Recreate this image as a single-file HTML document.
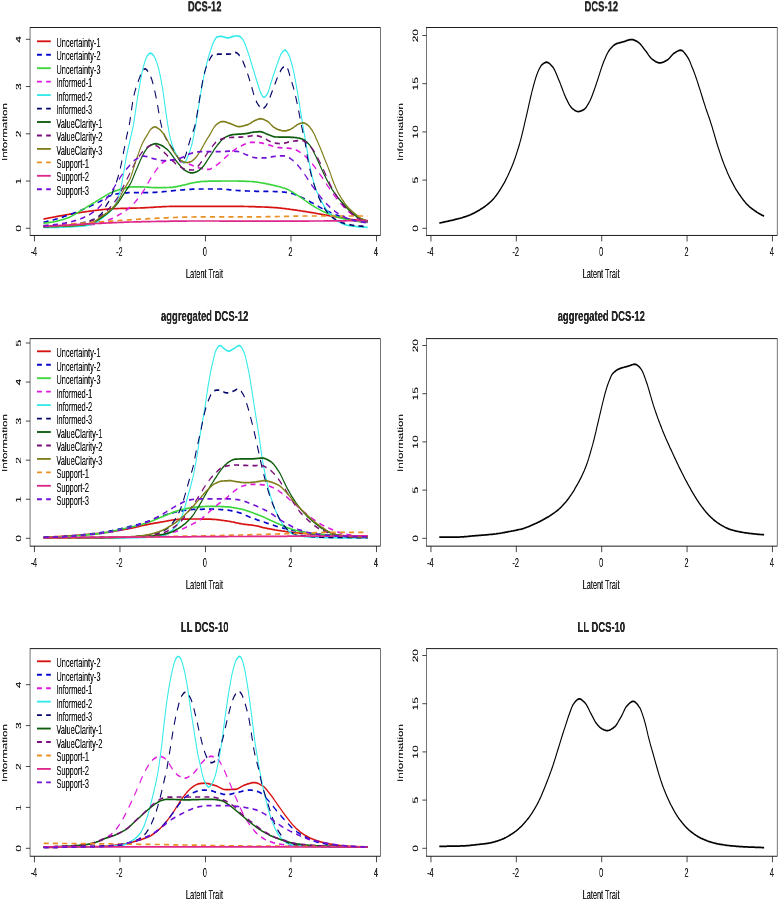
<!DOCTYPE html>
<html>
<head>
<meta charset="utf-8">
<title>Item and test information curves</title>
<style>
html,body{margin:0;padding:0;background:#fff;}
body{width:778px;height:900px;position:relative;overflow:hidden;font-family:"Liberation Sans",sans-serif;}
</style>
</head>
<body>
<svg width="778" height="900" viewBox="0 0 1285.95 900" preserveAspectRatio="none" font-family="'Liberation Sans', sans-serif" style="display:block;position:absolute;left:0;top:0;will-change:transform">
<defs><filter id="xt" x="0" y="0" width="1285.95" height="900" filterUnits="userSpaceOnUse" color-interpolation-filters="sRGB"><feComponentTransfer><feFuncA type="linear" slope="1.4"/></feComponentTransfer></filter></defs>
<g>
<!-- top-left -->
<rect x="49.67" y="27.5" width="579.17" height="207.95" fill="none" stroke="#1c1c1c" stroke-width="1"/>
<line x1="56.94" y1="235.45" x2="56.94" y2="241.45" stroke="#1c1c1c" stroke-width="1"/>
<line x1="198.29" y1="235.45" x2="198.29" y2="241.45" stroke="#1c1c1c" stroke-width="1"/>
<line x1="339.63" y1="235.45" x2="339.63" y2="241.45" stroke="#1c1c1c" stroke-width="1"/>
<line x1="480.97" y1="235.45" x2="480.97" y2="241.45" stroke="#1c1c1c" stroke-width="1"/>
<line x1="622.31" y1="235.45" x2="622.31" y2="241.45" stroke="#1c1c1c" stroke-width="1"/>
<line x1="42.73" y1="228.3" x2="49.67" y2="228.3" stroke="#1c1c1c" stroke-width="1"/>
<line x1="42.73" y1="181.05" x2="49.67" y2="181.05" stroke="#1c1c1c" stroke-width="1"/>
<line x1="42.73" y1="133.8" x2="49.67" y2="133.8" stroke="#1c1c1c" stroke-width="1"/>
<line x1="42.73" y1="86.55" x2="49.67" y2="86.55" stroke="#1c1c1c" stroke-width="1"/>
<line x1="42.73" y1="39.3" x2="49.67" y2="39.3" stroke="#1c1c1c" stroke-width="1"/>
<path d="M71.9 219.1L73.4 218.9L74.9 218.7L76.4 218.5L77.9 218.4L79.3 218.2L80.8 218L82.3 217.8L83.8 217.6L85.3 217.5L86.8 217.3L88.3 217.1L89.8 217L91.2 216.8L92.7 216.6L94.2 216.4L95.7 216.3L97.2 216.1L98.7 215.9L100.2 215.8L101.7 215.6L103.1 215.5L104.6 215.3L106.1 215.1L107.6 215L109.1 214.8L110.6 214.7L112.1 214.5L113.6 214.4L115 214.2L116.5 214.1L118 213.9L119.5 213.8L121 213.6L122.5 213.5L124 213.4L125.5 213.2L126.9 213.1L128.4 212.9L129.9 212.8L131.4 212.6L132.9 212.5L134.4 212.4L135.9 212.2L137.4 212.1L138.8 212L140.3 211.8L141.8 211.7L143.3 211.6L144.8 211.5L146.3 211.3L147.8 211.2L149.3 211.1L150.7 211L152.2 210.9L153.7 210.8L155.2 210.6L156.7 210.5L158.2 210.4L159.7 210.3L161.2 210.2L162.6 210.1L164.1 210L165.6 209.9L167.1 209.8L168.6 209.7L170.1 209.6L171.6 209.5L173.1 209.4L174.5 209.3L176 209.2L177.5 209.1L179 209L180.5 209L182 208.9L183.5 208.8L185 208.8L186.4 208.7L187.9 208.7L189.4 208.7L190.9 208.6L192.4 208.6L193.9 208.6L195.4 208.5L196.9 208.5L198.3 208.5L199.8 208.4L201.3 208.4L202.8 208.4L204.3 208.4L205.8 208.4L207.3 208.3L208.8 208.3L210.2 208.3L211.7 208.3L213.2 208.3L214.7 208.2L216.2 208.2L217.7 208.2L219.2 208.2L220.7 208.1L222.1 208.1L223.6 208.1L225.1 208.1L226.6 208L228.1 208L229.6 208L231.1 208L232.6 207.9L234 207.9L235.5 207.8L237 207.8L238.5 207.8L240 207.7L241.5 207.7L243 207.6L244.5 207.6L246 207.5L247.4 207.5L248.9 207.4L250.4 207.4L251.9 207.3L253.4 207.3L254.9 207.2L256.4 207.1L257.9 207.1L259.3 207L260.8 207L262.3 206.9L263.8 206.9L265.3 206.8L266.8 206.8L268.3 206.7L269.8 206.7L271.2 206.7L272.7 206.6L274.2 206.6L275.7 206.5L277.2 206.5L278.7 206.5L280.2 206.4L281.7 206.4L283.1 206.4L284.6 206.4L286.1 206.3L287.6 206.3L289.1 206.3L290.6 206.3L292.1 206.3L293.6 206.3L295 206.3L296.5 206.3L298 206.3L299.5 206.3L301 206.3L302.5 206.3L304 206.3L305.5 206.3L306.9 206.3L308.4 206.3L309.9 206.3L311.4 206.3L312.9 206.3L314.4 206.3L315.9 206.3L317.4 206.3L318.8 206.3L320.3 206.3L321.8 206.3L323.3 206.3L324.8 206.3L326.3 206.3L327.8 206.3L329.3 206.3L330.7 206.3L332.2 206.3L333.7 206.3L335.2 206.3L336.7 206.3L338.2 206.3L339.7 206.3L341.2 206.3L342.6 206.3L344.1 206.3L345.6 206.3L347.1 206.3L348.6 206.3L350.1 206.3L351.6 206.3L353.1 206.3L354.5 206.3L356 206.3L357.5 206.3L359 206.3L360.5 206.3L362 206.3L363.5 206.3L365 206.3L366.4 206.3L367.9 206.3L369.4 206.3L370.9 206.3L372.4 206.3L373.9 206.3L375.4 206.3L376.9 206.3L378.3 206.3L379.8 206.3L381.3 206.3L382.8 206.3L384.3 206.3L385.8 206.3L387.3 206.3L388.8 206.3L390.2 206.3L391.7 206.3L393.2 206.3L394.7 206.4L396.2 206.4L397.7 206.4L399.2 206.4L400.7 206.4L402.1 206.4L403.6 206.5L405.1 206.5L406.6 206.5L408.1 206.5L409.6 206.5L411.1 206.6L412.6 206.6L414 206.6L415.5 206.6L417 206.7L418.5 206.7L420 206.7L421.5 206.7L423 206.8L424.5 206.8L426 206.8L427.4 206.9L428.9 206.9L430.4 206.9L431.9 206.9L433.4 207L434.9 207L436.4 207L437.9 207.1L439.3 207.1L440.8 207.2L442.3 207.2L443.8 207.2L445.3 207.3L446.8 207.3L448.3 207.4L449.8 207.4L451.2 207.5L452.7 207.6L454.2 207.6L455.7 207.7L457.2 207.7L458.7 207.8L460.2 207.9L461.7 208L463.1 208.1L464.6 208.2L466.1 208.3L467.6 208.4L469.1 208.5L470.6 208.6L472.1 208.7L473.6 208.8L475 209L476.5 209.1L478 209.2L479.5 209.3L481 209.5L482.5 209.6L484 209.7L485.5 209.8L486.9 209.9L488.4 210.1L489.9 210.2L491.4 210.3L492.9 210.5L494.4 210.6L495.9 210.7L497.4 210.9L498.8 211L500.3 211.1L501.8 211.3L503.3 211.4L504.8 211.6L506.3 211.7L507.8 211.8L509.3 212L510.7 212.1L512.2 212.3L513.7 212.4L515.2 212.6L516.7 212.7L518.2 212.9L519.7 213L521.2 213.2L522.6 213.4L524.1 213.5L525.6 213.7L527.1 213.8L528.6 214L530.1 214.2L531.6 214.3L533.1 214.5L534.5 214.6L536 214.8L537.5 215L539 215.1L540.5 215.3L542 215.4L543.5 215.6L545 215.8L546.4 215.9L547.9 216.1L549.4 216.2L550.9 216.4L552.4 216.6L553.9 216.7L555.4 216.9L556.9 217L558.3 217.2L559.8 217.3L561.3 217.5L562.8 217.6L564.3 217.8L565.8 217.9L567.3 218.1L568.8 218.3L570.2 218.4L571.7 218.6L573.2 218.7L574.7 218.9L576.2 219L577.7 219.2L579.2 219.3L580.7 219.5L582.1 219.6L583.6 219.7L585.1 219.8L586.6 219.9L588.1 220L589.6 220.1L591.1 220.2L592.6 220.3L594 220.4L595.5 220.4L597 220.5L598.5 220.6L600 220.7L601.5 220.7L603 220.8L604.5 220.8L606 220.9L607.4 220.9L607.6 220.9" stroke="#d81111" stroke-width="1.7" fill="none" stroke-linejoin="round"/>
<path d="M71.9 222.3L73.4 222.1L74.9 221.9L76.4 221.7L77.9 221.4L79.3 221.2L80.8 221L82.3 220.8L83.8 220.5L85.3 220.3L86.8 220L88.3 219.8L89.8 219.5L91.2 219.3L92.7 219L94.2 218.8L95.7 218.5L97.2 218.2L98.7 217.9L100.2 217.7L101.7 217.4L103.1 217.1L104.6 216.8L106.1 216.5L107.6 216.2L109.1 215.9L110.6 215.6L112.1 215.3L113.6 215L115 214.7L116.5 214.3L118 214L119.5 213.7L121 213.3L122.5 213L124 212.7L125.5 212.3L126.9 212L128.4 211.6L129.9 211.2L131.4 210.9L132.9 210.5L134.4 210.1L135.9 209.8L137.4 209.4L138.8 209L140.3 208.6L141.8 208.2L143.3 207.8L144.8 207.4L146.3 207L147.8 206.6L149.3 206.2L150.7 205.8L152.2 205.4L153.7 204.9L155.2 204.5L156.7 204.1L158.2 203.6L159.7 203.2L161.2 202.7L162.6 202.3L164.1 201.8L165.6 201.4L167.1 200.9L168.6 200.4L170.1 199.8L171.6 199.3L173.1 198.7L174.5 198.2L176 197.6L177.5 197.1L179 196.6L180.5 196.2L182 195.8L183.5 195.5L185 195.2L186.4 194.9L187.9 194.6L189.4 194.4L190.9 194.1L192.4 194L193.9 193.8L195.4 193.6L196.9 193.5L198.3 193.3L199.8 193.2L201.3 193.1L202.8 193L204.3 192.9L205.8 192.9L207.3 192.8L208.8 192.8L210.2 192.8L211.7 192.7L213.2 192.7L214.7 192.7L216.2 192.7L217.7 192.7L219.2 192.7L220.7 192.7L222.1 192.7L223.6 192.7L225.1 192.7L226.6 192.6L228.1 192.6L229.6 192.6L231.1 192.6L232.6 192.6L234 192.6L235.5 192.6L237 192.6L238.5 192.6L240 192.6L241.5 192.6L243 192.6L244.5 192.6L246 192.5L247.4 192.5L248.9 192.5L250.4 192.5L251.9 192.5L253.4 192.4L254.9 192.4L256.4 192.3L257.9 192.3L259.3 192.2L260.8 192.2L262.3 192.1L263.8 192L265.3 191.9L266.8 191.8L268.3 191.8L269.8 191.7L271.2 191.6L272.7 191.5L274.2 191.5L275.7 191.4L277.2 191.3L278.7 191.2L280.2 191.1L281.7 191L283.1 190.9L284.6 190.8L286.1 190.7L287.6 190.6L289.1 190.5L290.6 190.4L292.1 190.3L293.6 190.3L295 190.2L296.5 190.1L298 190L299.5 190L301 189.9L302.5 189.8L304 189.8L305.5 189.7L306.9 189.6L308.4 189.6L309.9 189.5L311.4 189.4L312.9 189.4L314.4 189.3L315.9 189.3L317.4 189.2L318.8 189.2L320.3 189.1L321.8 189.1L323.3 189.1L324.8 189L326.3 189L327.8 189L329.3 189L330.7 189L332.2 189L333.7 189L335.2 189L336.7 189L338.2 189L339.7 189L341.2 189L342.6 189L344.1 189L345.6 189L347.1 189L348.6 189L350.1 189L351.6 189L353.1 189L354.5 189L356 189L357.5 189L359 189L360.5 189L362 189L363.5 189L365 189L366.4 189.1L367.9 189.1L369.4 189.2L370.9 189.3L372.4 189.3L373.9 189.4L375.4 189.5L376.9 189.6L378.3 189.7L379.8 189.8L381.3 189.9L382.8 190L384.3 190.1L385.8 190.2L387.3 190.2L388.8 190.3L390.2 190.4L391.7 190.5L393.2 190.5L394.7 190.6L396.2 190.6L397.7 190.6L399.2 190.7L400.7 190.7L402.1 190.8L403.6 190.8L405.1 190.9L406.6 190.9L408.1 191L409.6 191L411.1 191L412.6 191.1L414 191.1L415.5 191.1L417 191.2L418.5 191.2L420 191.2L421.5 191.2L423 191.3L424.5 191.3L426 191.3L427.4 191.3L428.9 191.3L430.4 191.4L431.9 191.4L433.4 191.4L434.9 191.4L436.4 191.4L437.9 191.4L439.3 191.4L440.8 191.4L442.3 191.4L443.8 191.5L445.3 191.5L446.8 191.5L448.3 191.5L449.8 191.5L451.2 191.5L452.7 191.5L454.2 191.6L455.7 191.6L457.2 191.6L458.7 191.6L460.2 191.7L461.7 191.7L463.1 191.8L464.6 191.9L466.1 191.9L467.6 192L469.1 192.1L470.6 192.2L472.1 192.3L473.6 192.4L475 192.5L476.5 192.6L478 192.7L479.5 192.9L481 193.1L482.5 193.4L484 193.7L485.5 194L486.9 194.4L488.4 194.7L489.9 195.1L491.4 195.5L492.9 195.9L494.4 196.3L495.9 196.7L497.4 197.1L498.8 197.5L500.3 197.9L501.8 198.3L503.3 198.8L504.8 199.2L506.3 199.7L507.8 200.2L509.3 200.7L510.7 201.1L512.2 201.6L513.7 202.1L515.2 202.6L516.7 203L518.2 203.5L519.7 204.1L521.2 204.6L522.6 205.1L524.1 205.6L525.6 206.1L527.1 206.7L528.6 207.2L530.1 207.7L531.6 208.2L533.1 208.7L534.5 209.1L536 209.6L537.5 210L539 210.5L540.5 210.9L542 211.3L543.5 211.7L545 212.1L546.4 212.5L547.9 212.9L549.4 213.3L550.9 213.7L552.4 214.1L553.9 214.4L555.4 214.8L556.9 215.1L558.3 215.5L559.8 215.8L561.3 216.2L562.8 216.5L564.3 216.8L565.8 217.2L567.3 217.5L568.8 217.8L570.2 218.1L571.7 218.4L573.2 218.7L574.7 219L576.2 219.2L577.7 219.4L579.2 219.6L580.7 219.8L582.1 219.9L583.6 220.1L585.1 220.3L586.6 220.5L588.1 220.6L589.6 220.8L591.1 220.9L592.6 221.1L594 221.2L595.5 221.3L597 221.5L598.5 221.6L600 221.7L601.5 221.8L603 221.8L604.5 221.9L606 222L607.4 222L607.6 222" stroke="#0606cd" stroke-width="1.7" fill="none" stroke-linejoin="round" stroke-dasharray="8.4 6.9"/>
<path d="M71.9 223.2L73.4 223.1L74.9 223L76.4 222.9L77.9 222.8L79.3 222.7L80.8 222.6L82.3 222.4L83.8 222.3L85.3 222.2L86.8 222L88.3 221.9L89.8 221.7L91.2 221.5L92.7 221.3L94.2 221.1L95.7 220.9L97.2 220.7L98.7 220.5L100.2 220.2L101.7 220L103.1 219.7L104.6 219.4L106.1 219.2L107.6 218.8L109.1 218.5L110.6 218.2L112.1 217.8L113.6 217.5L115 217.1L116.5 216.7L118 216.3L119.5 215.8L121 215.3L122.5 214.8L124 214.3L125.5 213.7L126.9 213.2L128.4 212.6L129.9 212L131.4 211.5L132.9 210.9L134.4 210.4L135.9 209.8L137.4 209.3L138.8 208.8L140.3 208.2L141.8 207.7L143.3 207.1L144.8 206.5L146.3 206L147.8 205.5L149.3 204.9L150.7 204.4L152.2 203.8L153.7 203.3L155.2 202.7L156.7 202.2L158.2 201.6L159.7 201.1L161.2 200.6L162.6 200L164.1 199.5L165.6 198.9L167.1 198.4L168.6 197.8L170.1 197.3L171.6 196.7L173.1 196.1L174.5 195.5L176 195L177.5 194.5L179 194L180.5 193.5L182 193.1L183.5 192.7L185 192.3L186.4 191.9L187.9 191.6L189.4 191.2L190.9 190.9L192.4 190.6L193.9 190.3L195.4 190L196.9 189.7L198.3 189.4L199.8 189.2L201.3 188.9L202.8 188.6L204.3 188.4L205.8 188.2L207.3 188L208.8 187.8L210.2 187.6L211.7 187.4L213.2 187.2L214.7 187.1L216.2 187L217.7 186.9L219.2 186.9L220.7 186.9L222.1 186.8L223.6 186.8L225.1 186.8L226.6 186.8L228.1 186.8L229.6 186.8L231.1 186.8L232.6 186.8L234 186.9L235.5 186.9L237 186.9L238.5 187L240 187L241.5 187.1L243 187.2L244.5 187.2L246 187.3L247.4 187.4L248.9 187.4L250.4 187.5L251.9 187.5L253.4 187.6L254.9 187.6L256.4 187.7L257.9 187.7L259.3 187.7L260.8 187.7L262.3 187.7L263.8 187.7L265.3 187.7L266.8 187.7L268.3 187.7L269.8 187.6L271.2 187.6L272.7 187.6L274.2 187.6L275.7 187.5L277.2 187.5L278.7 187.5L280.2 187.4L281.7 187.4L283.1 187.4L284.6 187.3L286.1 187.2L287.6 187.1L289.1 186.9L290.6 186.8L292.1 186.6L293.6 186.4L295 186.2L296.5 186L298 185.8L299.5 185.6L301 185.4L302.5 185.2L304 185L305.5 184.8L306.9 184.6L308.4 184.3L309.9 184.1L311.4 183.8L312.9 183.6L314.4 183.4L315.9 183.2L317.4 183L318.8 182.8L320.3 182.7L321.8 182.5L323.3 182.4L324.8 182.2L326.3 182.1L327.8 182L329.3 181.8L330.7 181.7L332.2 181.6L333.7 181.5L335.2 181.5L336.7 181.4L338.2 181.3L339.7 181.3L341.2 181.3L342.6 181.3L344.1 181.2L345.6 181.2L347.1 181.2L348.6 181.2L350.1 181.2L351.6 181.2L353.1 181.1L354.5 181.1L356 181.1L357.5 181.1L359 181.1L360.5 181.1L362 181.1L363.5 181.1L365 181.1L366.4 181L367.9 181L369.4 181L370.9 181L372.4 181L373.9 181L375.4 181L376.9 181L378.3 181L379.8 181L381.3 181L382.8 181L384.3 181L385.8 181L387.3 181L388.8 181L390.2 181L391.7 181L393.2 181.1L394.7 181.1L396.2 181.1L397.7 181.1L399.2 181.2L400.7 181.2L402.1 181.2L403.6 181.2L405.1 181.3L406.6 181.3L408.1 181.3L409.6 181.4L411.1 181.4L412.6 181.5L414 181.5L415.5 181.5L417 181.6L418.5 181.7L420 181.8L421.5 181.9L423 182L424.5 182.1L426 182.2L427.4 182.4L428.9 182.5L430.4 182.7L431.9 182.8L433.4 183L434.9 183.1L436.4 183.3L437.9 183.4L439.3 183.6L440.8 183.8L442.3 184L443.8 184.2L445.3 184.4L446.8 184.6L448.3 184.8L449.8 185L451.2 185.2L452.7 185.4L454.2 185.6L455.7 185.9L457.2 186.1L458.7 186.3L460.2 186.5L461.7 186.7L463.1 187L464.6 187.2L466.1 187.5L467.6 187.8L469.1 188L470.6 188.3L472.1 188.7L473.6 189L475 189.4L476.5 189.8L478 190.3L479.5 190.8L481 191.3L482.5 191.8L484 192.3L485.5 192.9L486.9 193.5L488.4 194L489.9 194.6L491.4 195.2L492.9 195.8L494.4 196.3L495.9 196.9L497.4 197.5L498.8 198.1L500.3 198.8L501.8 199.4L503.3 200L504.8 200.7L506.3 201.3L507.8 202L509.3 202.6L510.7 203.2L512.2 203.8L513.7 204.4L515.2 205L516.7 205.5L518.2 206.1L519.7 206.6L521.2 207.2L522.6 207.7L524.1 208.2L525.6 208.8L527.1 209.3L528.6 209.8L530.1 210.2L531.6 210.7L533.1 211.2L534.5 211.6L536 212L537.5 212.4L539 212.8L540.5 213.2L542 213.5L543.5 213.9L545 214.3L546.4 214.6L547.9 214.9L549.4 215.3L550.9 215.6L552.4 215.9L553.9 216.2L555.4 216.5L556.9 216.7L558.3 217L559.8 217.3L561.3 217.5L562.8 217.8L564.3 218.1L565.8 218.3L567.3 218.6L568.8 218.8L570.2 219L571.7 219.2L573.2 219.4L574.7 219.6L576.2 219.8L577.7 220L579.2 220.2L580.7 220.3L582.1 220.5L583.6 220.6L585.1 220.8L586.6 220.9L588.1 221.1L589.6 221.2L591.1 221.4L592.6 221.5L594 221.6L595.5 221.8L597 221.9L598.5 222L600 222.1L601.5 222.2L603 222.3L604.5 222.4L606 222.4L607.4 222.5L607.6 222.5" stroke="#3cd53c" stroke-width="1.7" fill="none" stroke-linejoin="round"/>
<path d="M71.9 227L73.4 227L74.9 227L76.4 227L77.9 227L79.3 227L80.8 227L82.3 227L83.8 226.9L85.3 226.9L86.8 226.9L88.3 226.9L89.8 226.9L91.2 226.9L92.7 226.8L94.2 226.8L95.7 226.8L97.2 226.7L98.7 226.7L100.2 226.7L101.7 226.7L103.1 226.6L104.6 226.6L106.1 226.5L107.6 226.5L109.1 226.5L110.6 226.4L112.1 226.4L113.6 226.3L115 226.3L116.5 226.2L118 226.2L119.5 226.1L121 226.1L122.5 226L124 225.9L125.5 225.9L126.9 225.8L128.4 225.8L129.9 225.7L131.4 225.6L132.9 225.6L134.4 225.5L135.9 225.4L137.4 225.3L138.8 225.3L140.3 225.2L141.8 225.1L143.3 225L144.8 225L146.3 224.9L147.8 224.8L149.3 224.7L150.7 224.6L152.2 224.5L153.7 224.4L155.2 224.3L156.7 224.2L158.2 224.1L159.7 223.9L161.2 223.8L162.6 223.5L164.1 223.3L165.6 223L167.1 222.7L168.6 222.4L170.1 222.1L171.6 221.8L173.1 221.5L174.5 221.1L176 220.8L177.5 220.5L179 220.1L180.5 219.8L182 219.4L183.5 219L185 218.6L186.4 218.2L187.9 217.7L189.4 217.3L190.9 216.8L192.4 216.3L193.9 215.8L195.4 215.3L196.9 214.8L198.3 214.3L199.8 213.7L201.3 213.2L202.8 212.6L204.3 212L205.8 211.4L207.3 210.7L208.8 210.1L210.2 209.4L211.7 208.7L213.2 207.9L214.7 207.2L216.2 206.4L217.7 205.6L219.2 204.7L220.7 203.8L222.1 202.9L223.6 201.9L225.1 200.8L226.6 199.8L228.1 198.6L229.6 197.5L231.1 196.2L232.6 195L234 193.7L235.5 192.3L237 191L238.5 189.6L240 188L241.5 186.4L243 184.8L244.5 183.2L246 181.7L247.4 180.2L248.9 178.7L250.4 177.2L251.9 175.7L253.4 174.3L254.9 172.9L256.4 171.6L257.9 170.3L259.3 169.1L260.8 168L262.3 166.8L263.8 165.7L265.3 164.7L266.8 163.8L268.3 163L269.8 162.4L271.2 161.8L272.7 161.3L274.2 160.8L275.7 160.5L277.2 160.3L278.7 160.1L280.2 160L281.7 159.9L283.1 159.8L284.6 159.8L286.1 159.9L287.6 160L289.1 160.1L290.6 160.4L292.1 160.6L293.6 160.8L295 161.1L296.5 161.3L298 161.6L299.5 161.8L301 162L302.5 162.3L304 162.6L305.5 162.8L306.9 163.1L308.4 163.4L309.9 163.7L311.4 164L312.9 164.3L314.4 164.6L315.9 164.9L317.4 165.2L318.8 165.6L320.3 166L321.8 166.4L323.3 166.8L324.8 167.1L326.3 167.5L327.8 167.7L329.3 168L330.7 168.2L332.2 168.4L333.7 168.6L335.2 168.8L336.7 168.9L338.2 169.1L339.7 169.2L341.2 169.3L342.6 169.4L344.1 169.4L345.6 169.3L347.1 169.1L348.6 168.8L350.1 168.3L351.6 167.8L353.1 167.2L354.5 166.6L356 165.9L357.5 165.3L359 164.7L360.5 164L362 163.3L363.5 162.5L365 161.6L366.4 160.8L367.9 159.9L369.4 159.1L370.9 158.2L372.4 157.5L373.9 156.7L375.4 155.9L376.9 155.1L378.3 154.3L379.8 153.5L381.3 152.7L382.8 152L384.3 151.3L385.8 150.6L387.3 150L388.8 149.4L390.2 148.8L391.7 148.3L393.2 147.8L394.7 147.3L396.2 146.8L397.7 146.3L399.2 145.8L400.7 145.3L402.1 144.9L403.6 144.4L405.1 144.1L406.6 143.7L408.1 143.3L409.6 142.9L411.1 142.6L412.6 142.4L414 142.3L415.5 142.3L417 142.3L418.5 142.3L420 142.4L421.5 142.4L423 142.5L424.5 142.5L426 142.6L427.4 142.6L428.9 142.7L430.4 142.8L431.9 142.9L433.4 143.1L434.9 143.3L436.4 143.5L437.9 143.7L439.3 144L440.8 144.3L442.3 144.6L443.8 144.8L445.3 145.1L446.8 145.4L448.3 145.7L449.8 146L451.2 146.4L452.7 146.7L454.2 147L455.7 147.2L457.2 147.4L458.7 147.5L460.2 147.6L461.7 147.7L463.1 147.7L464.6 147.8L466.1 147.8L467.6 147.9L469.1 147.9L470.6 148L472.1 148L473.6 148.1L475 148.1L476.5 148.2L478 148.3L479.5 148.3L481 148.5L482.5 148.6L484 148.7L485.5 149L486.9 149.3L488.4 149.7L489.9 150.1L491.4 150.6L492.9 151.1L494.4 151.6L495.9 152.2L497.4 152.8L498.8 153.4L500.3 154L501.8 154.8L503.3 155.6L504.8 156.4L506.3 157.3L507.8 158.3L509.3 159.2L510.7 160.3L512.2 161.3L513.7 162.3L515.2 163.3L516.7 164.4L518.2 165.5L519.7 166.7L521.2 167.8L522.6 169.1L524.1 170.3L525.6 171.5L527.1 172.8L528.6 174.1L530.1 175.3L531.6 176.6L533.1 177.9L534.5 179.3L536 180.6L537.5 182L539 183.4L540.5 184.8L542 186.2L543.5 187.5L545 188.9L546.4 190.2L547.9 191.4L549.4 192.7L550.9 194L552.4 195.3L553.9 196.5L555.4 197.8L556.9 199L558.3 200.2L559.8 201.3L561.3 202.4L562.8 203.4L564.3 204.4L565.8 205.4L567.3 206.4L568.8 207.3L570.2 208.3L571.7 209.1L573.2 210L574.7 210.8L576.2 211.6L577.7 212.4L579.2 213.1L580.7 213.8L582.1 214.5L583.6 215.2L585.1 215.9L586.6 216.5L588.1 217.2L589.6 217.7L591.1 218.3L592.6 218.8L594 219.2L595.5 219.6L597 220L598.5 220.4L600 220.7L601.5 221L603 221.3L604.5 221.6L606 221.8L607.4 222L607.6 222" stroke="#de17de" stroke-width="1.7" fill="none" stroke-linejoin="round" stroke-dasharray="8.4 6.9"/>
<path d="M71.9 227.5L73.4 227.5L74.9 227.5L76.4 227.5L77.9 227.5L79.3 227.5L80.8 227.5L82.3 227.5L83.8 227.5L85.3 227.4L86.8 227.4L88.3 227.4L89.8 227.4L91.2 227.4L92.7 227.4L94.2 227.3L95.7 227.3L97.2 227.3L98.7 227.3L100.2 227.2L101.7 227.2L103.1 227.2L104.6 227.1L106.1 227.1L107.6 227.1L109.1 227L110.6 227L112.1 227L113.6 226.9L115 226.9L116.5 226.8L118 226.8L119.5 226.7L121 226.7L122.5 226.6L124 226.6L125.5 226.5L126.9 226.5L128.4 226.4L129.9 226.4L131.4 226.3L132.9 226.3L134.4 226.2L135.9 226.1L137.4 226L138.8 225.9L140.3 225.8L141.8 225.6L143.3 225.5L144.8 225.3L146.3 225L147.8 224.8L149.3 224.6L150.7 224.3L152.2 224L153.7 223.7L155.2 223.4L156.7 223.1L158.2 222.7L159.7 222.2L161.2 221.6L162.6 221L164.1 220.3L165.6 219.6L167.1 218.9L168.6 218.1L170.1 217.4L171.6 216.6L173.1 215.9L174.5 215.2L176 214.5L177.5 213.8L179 213.1L180.5 212.3L182 211.4L183.5 210.5L185 209.5L186.4 208.4L187.9 207.2L189.4 205.9L190.9 204.4L192.4 202.6L193.9 200.4L195.4 197.9L196.9 195L198.3 191.7L199.8 187.7L201.3 183.2L202.8 178.5L204.3 173.2L205.8 167.5L207.3 161.9L208.8 157L210.2 152.7L211.7 148.7L213.2 144.9L214.7 140.9L216.2 136.8L217.7 132.9L219.2 128.9L220.7 124.3L222.1 118.9L223.6 112.9L225.1 106.8L226.6 100.6L228.1 94.8L229.6 89.6L231.1 84.5L232.6 79.5L234 74.7L235.5 70.4L237 66.7L238.5 63.6L240 60.7L241.5 58.2L243 56.2L244.5 55L246 54L247.4 53.3L248.9 53.1L250.4 53.5L251.9 54.3L253.4 55.3L254.9 56.5L256.4 58.2L257.9 60.4L259.3 62.9L260.8 65.6L262.3 68.8L263.8 72.7L265.3 77.1L266.8 82L268.3 87.2L269.8 92.5L271.2 98.8L272.7 105.7L274.2 112.3L275.7 118.5L277.2 124.4L278.7 129.7L280.2 134.7L281.7 138.6L283.1 142L284.6 144.9L286.1 147.4L287.6 149.5L289.1 151.6L290.6 153.4L292.1 155.1L293.6 156.7L295 158L296.5 159.1L298 160L299.5 160.9L301 161.7L302.5 162.3L304 162.6L305.5 162.4L306.9 161.2L308.4 159.5L309.9 157.3L311.4 155L312.9 152.8L314.4 150.1L315.9 147.1L317.4 143.8L318.8 140L320.3 135.5L321.8 130.7L323.3 125.6L324.8 120L326.3 114.2L327.8 108.3L329.3 102.6L330.7 97.3L332.2 92L333.7 86.9L335.2 82L336.7 77.3L338.2 72.9L339.7 68.9L341.2 65.1L342.6 61.5L344.1 58.1L345.6 55L347.1 52.1L348.6 49.3L350.1 46.6L351.6 44.1L353.1 42.1L354.5 40.4L356 38.8L357.5 37.5L359 36.8L360.5 36.6L362 36.5L363.5 36.4L365 36.3L366.4 36.3L367.9 36.5L369.4 36.8L370.9 37.1L372.4 37.4L373.9 37.7L375.4 37.9L376.9 37.9L378.3 37.8L379.8 37.5L381.3 37.2L382.8 36.9L384.3 36.6L385.8 36.3L387.3 36.1L388.8 36L390.2 36L391.7 36L393.2 36.1L394.7 36.2L396.2 36.4L397.7 37L399.2 37.9L400.7 39.1L402.1 40.3L403.6 42L405.1 44.2L406.6 46.6L408.1 49.2L409.6 51.8L411.1 54.4L412.6 57.2L414 60.1L415.5 63.1L417 66.1L418.5 69.1L420 72L421.5 75.1L423 78.1L424.5 81.1L426 84L427.4 86.7L428.9 89.5L430.4 92.1L431.9 94.2L433.4 95.6L434.9 96.8L436.4 97.1L437.9 96.7L439.3 95.9L440.8 94.8L442.3 93.5L443.8 91.3L445.3 88.3L446.8 85L448.3 82L449.8 79.3L451.2 76.5L452.7 73.8L454.2 71.1L455.7 68.5L457.2 65.9L458.7 63.3L460.2 60.7L461.7 58.3L463.1 56.1L464.6 54.1L466.1 52.6L467.6 51.5L469.1 50.7L470.6 50.2L472.1 50.2L473.6 51.1L475 52.4L476.5 54.1L478 55.9L479.5 58.3L481 61.2L482.5 64.6L484 68.2L485.5 72L486.9 76.3L488.4 81.1L489.9 86.2L491.4 91.3L492.9 96.5L494.4 102L495.9 107.6L497.4 113.2L498.8 118.8L500.3 124.5L501.8 130L503.3 135.1L504.8 140.2L506.3 145.3L507.8 150.5L509.3 156L510.7 161.3L512.2 166L513.7 170.3L515.2 174.4L516.7 178.2L518.2 181.6L519.7 184.7L521.2 187.4L522.6 189.9L524.1 192.2L525.6 194.3L527.1 196.2L528.6 198.1L530.1 199.9L531.6 201.6L533.1 203.2L534.5 204.8L536 206.3L537.5 207.7L539 209.1L540.5 210.4L542 211.6L543.5 212.8L545 213.9L546.4 215L547.9 216L549.4 217L550.9 217.9L552.4 218.8L553.9 219.5L555.4 220.2L556.9 220.8L558.3 221.3L559.8 221.8L561.3 222.3L562.8 222.7L564.3 223.1L565.8 223.5L567.3 223.9L568.8 224.3L570.2 224.6L571.7 224.8L573.2 225.1L574.7 225.3L576.2 225.5L577.7 225.6L579.2 225.8L580.7 225.9L582.1 226.1L583.6 226.2L585.1 226.3L586.6 226.4L588.1 226.5L589.6 226.6L591.1 226.7L592.6 226.8L594 226.9L595.5 226.9L597 227L598.5 227.1L600 227.1L601.5 227.2L603 227.2L604.5 227.2L606 227.3L607.4 227.3L607.6 227.3" stroke="#32eaea" stroke-width="1.7" fill="none" stroke-linejoin="round"/>
<path d="M71.9 226.5L73.4 226.5L74.9 226.5L76.4 226.5L77.9 226.5L79.3 226.4L80.8 226.4L82.3 226.4L83.8 226.3L85.3 226.3L86.8 226.3L88.3 226.2L89.8 226.2L91.2 226.1L92.7 226L94.2 226L95.7 225.9L97.2 225.8L98.7 225.7L100.2 225.7L101.7 225.6L103.1 225.5L104.6 225.4L106.1 225.3L107.6 225.2L109.1 225.1L110.6 225L112.1 224.9L113.6 224.8L115 224.7L116.5 224.6L118 224.4L119.5 224.3L121 224.2L122.5 224.1L124 224L125.5 223.8L126.9 223.7L128.4 223.6L129.9 223.4L131.4 223.3L132.9 223.2L134.4 223L135.9 222.9L137.4 222.7L138.8 222.5L140.3 222.3L141.8 222.1L143.3 221.9L144.8 221.6L146.3 221.3L147.8 221L149.3 220.7L150.7 220.4L152.2 220L153.7 219.7L155.2 219.3L156.7 218.9L158.2 218.4L159.7 217.8L161.2 217.2L162.6 216.5L164.1 215.8L165.6 214.9L167.1 214L168.6 213L170.1 211.9L171.6 210.6L173.1 208.8L174.5 206.8L176 205.1L177.5 203.7L179 202.3L180.5 200.8L182 198.9L183.5 196.7L185 194.3L186.4 191.9L187.9 189.6L189.4 187.3L190.9 184.8L192.4 182.2L193.9 179.3L195.4 176.3L196.9 173L198.3 169.6L199.8 165.8L201.3 161.5L202.8 156.8L204.3 152L205.8 147.5L207.3 142.8L208.8 138.3L210.2 134.1L211.7 130.5L213.2 126.5L214.7 121.2L216.2 114.9L217.7 108.4L219.2 102.3L220.7 97.3L222.1 93.5L223.6 90.2L225.1 87.2L226.6 84.4L228.1 81.9L229.6 79.4L231.1 77.1L232.6 74.7L234 72.6L235.5 71L237 69.9L238.5 69L240 68.8L241.5 69.3L243 70.3L244.5 71.4L246 72.7L247.4 74.3L248.9 76.4L250.4 78.7L251.9 81.5L253.4 84.9L254.9 88.7L256.4 92.8L257.9 96.9L259.3 101.4L260.8 106.4L262.3 111.7L263.8 116.9L265.3 121.7L266.8 125.8L268.3 129.2L269.8 132.1L271.2 134.5L272.7 136.5L274.2 138.3L275.7 139.9L277.2 141.4L278.7 142.7L280.2 144.1L281.7 145.4L283.1 146.8L284.6 148.2L286.1 149.7L287.6 151.2L289.1 152.7L290.6 154.2L292.1 155.6L293.6 157L295 158.6L296.5 160.1L298 161.2L299.5 161.5L301 161L302.5 160.1L304 158.8L305.5 157.3L306.9 155.3L308.4 152.2L309.9 148.8L311.4 145.7L312.9 142.6L314.4 139.5L315.9 136.5L317.4 133.9L318.8 131.7L320.3 129.5L321.8 126.6L323.3 122.7L324.8 117.8L326.3 112.3L327.8 106.6L329.3 101.2L330.7 96.1L332.2 90.7L333.7 85.4L335.2 80.3L336.7 75.9L338.2 72.3L339.7 69.3L341.2 66.6L342.6 64.3L344.1 62.3L345.6 60.5L347.1 58.8L348.6 57.1L350.1 55.8L351.6 54.9L353.1 54.6L354.5 54.5L356 54.4L357.5 54.3L359 54.3L360.5 54.2L362 54.2L363.5 54.2L365 54.2L366.4 54.1L367.9 54.1L369.4 54.1L370.9 54.1L372.4 54.1L373.9 54.1L375.4 54.1L376.9 54.1L378.3 54.1L379.8 54L381.3 54L382.8 54L384.3 53.7L385.8 53.2L387.3 52.7L388.8 52.4L390.2 52.6L391.7 53L393.2 53.8L394.7 54.7L396.2 55.8L397.7 56.9L399.2 58.3L400.7 60.1L402.1 62.2L403.6 64.5L405.1 66.8L406.6 69.2L408.1 71.7L409.6 74.4L411.1 77.2L412.6 80.1L414 83L415.5 85.9L417 89.1L418.5 92.4L420 95.5L421.5 98.3L423 100.5L424.5 102.4L426 104L427.4 105.4L428.9 106.5L430.4 107.4L431.9 108.2L433.4 108.6L434.9 108.4L436.4 107.9L437.9 107.1L439.3 106.2L440.8 104.7L442.3 102.8L443.8 100.7L445.3 98.7L446.8 96.4L448.3 94L449.8 91.5L451.2 89.1L452.7 86.7L454.2 84.4L455.7 82L457.2 79.6L458.7 77.3L460.2 75.2L461.7 73.3L463.1 71.6L464.6 69.9L466.1 68.5L467.6 67.6L469.1 66.9L470.6 66.4L472.1 66.2L473.6 66.8L475 68.3L476.5 70.2L478 73.3L479.5 76.8L481 79.7L482.5 82.6L484 85.4L485.5 88.5L486.9 92L488.4 95.8L489.9 99.9L491.4 104.1L492.9 108.6L494.4 113.3L495.9 118L497.4 122.5L498.8 127L500.3 131.2L501.8 135.3L503.3 139.5L504.8 144.3L506.3 149.9L507.8 155.7L509.3 160.9L510.7 165.3L512.2 169.3L513.7 173.1L515.2 176.6L516.7 179.8L518.2 182.8L519.7 185.7L521.2 188.5L522.6 191L524.1 193.4L525.6 195.7L527.1 197.7L528.6 199.6L530.1 201.5L531.6 203.3L533.1 205L534.5 206.6L536 208.1L537.5 209.5L539 210.8L540.5 211.9L542 212.9L543.5 213.9L545 214.9L546.4 215.7L547.9 216.6L549.4 217.3L550.9 218L552.4 218.7L553.9 219.2L555.4 219.8L556.9 220.3L558.3 220.7L559.8 221.2L561.3 221.6L562.8 222L564.3 222.3L565.8 222.7L567.3 223L568.8 223.3L570.2 223.6L571.7 223.8L573.2 224L574.7 224.2L576.2 224.4L577.7 224.6L579.2 224.8L580.7 225L582.1 225.2L583.6 225.3L585.1 225.5L586.6 225.6L588.1 225.7L589.6 225.8L591.1 225.9L592.6 225.9L594 226L595.5 226.1L597 226.1L598.5 226.2L600 226.3L601.5 226.3L603 226.3L604.5 226.4L606 226.4L607.4 226.4L607.6 226.4" stroke="#030367" stroke-width="1.7" fill="none" stroke-linejoin="round" stroke-dasharray="8.4 6.9"/>
<path d="M71.9 226.5L73.4 226.5L74.9 226.5L76.4 226.5L77.9 226.5L79.3 226.5L80.8 226.5L82.3 226.5L83.8 226.4L85.3 226.4L86.8 226.4L88.3 226.4L89.8 226.4L91.2 226.4L92.7 226.3L94.2 226.3L95.7 226.3L97.2 226.2L98.7 226.2L100.2 226.2L101.7 226.1L103.1 226.1L104.6 226.1L106.1 226L107.6 226L109.1 226L110.6 225.9L112.1 225.9L113.6 225.8L115 225.8L116.5 225.7L118 225.7L119.5 225.6L121 225.6L122.5 225.5L124 225.5L125.5 225.4L126.9 225.3L128.4 225.3L129.9 225.2L131.4 225.1L132.9 225.1L134.4 225L135.9 224.9L137.4 224.8L138.8 224.7L140.3 224.6L141.8 224.4L143.3 224.2L144.8 224L146.3 223.8L147.8 223.6L149.3 223.3L150.7 223L152.2 222.8L153.7 222.5L155.2 222.1L156.7 221.8L158.2 221.4L159.7 220.8L161.2 220.2L162.6 219.6L164.1 219L165.6 218.4L167.1 217.8L168.6 217.2L170.1 216.6L171.6 215.9L173.1 215.3L174.5 214.7L176 214L177.5 213.3L179 212.5L180.5 211.7L182 210.9L183.5 210.1L185 209.3L186.4 208.4L187.9 207.5L189.4 206.6L190.9 205.7L192.4 204.7L193.9 203.6L195.4 202.5L196.9 201.2L198.3 199.9L199.8 198.6L201.3 197.1L202.8 195.7L204.3 194.3L205.8 192.9L207.3 191.5L208.8 190.1L210.2 188.8L211.7 187.5L213.2 186.2L214.7 184.7L216.2 183L217.7 181L219.2 178.9L220.7 176.7L222.1 174.5L223.6 172.2L225.1 170.1L226.6 168L228.1 165.8L229.6 163.7L231.1 161.5L232.6 159.5L234 157.6L235.5 155.8L237 154.1L238.5 152.4L240 150.9L241.5 149.5L243 148.2L244.5 147.3L246 146.5L247.4 145.8L248.9 145.3L250.4 144.8L251.9 144.5L253.4 144.2L254.9 143.9L256.4 143.8L257.9 143.7L259.3 143.8L260.8 144L262.3 144.3L263.8 144.7L265.3 145L266.8 145.4L268.3 145.9L269.8 146.4L271.2 147L272.7 147.7L274.2 148.4L275.7 149.1L277.2 149.9L278.7 150.9L280.2 151.9L281.7 153L283.1 154.2L284.6 155.5L286.1 156.7L287.6 158L289.1 159.2L290.6 160.4L292.1 161.5L293.6 162.6L295 163.7L296.5 164.8L298 165.9L299.5 167L301 168L302.5 168.9L304 169.7L305.5 170.3L306.9 170.8L308.4 171.3L309.9 171.8L311.4 172.2L312.9 172.5L314.4 172.8L315.9 172.9L317.4 172.9L318.8 172.8L320.3 172.6L321.8 172.4L323.3 172.1L324.8 171.8L326.3 171.4L327.8 170.8L329.3 170.2L330.7 169.4L332.2 168.6L333.7 167.8L335.2 166.9L336.7 165.8L338.2 164.6L339.7 163.2L341.2 161.9L342.6 160.4L344.1 159L345.6 157.6L347.1 156.3L348.6 154.9L350.1 153.5L351.6 152.1L353.1 150.6L354.5 149.2L356 147.9L357.5 146.6L359 145.4L360.5 144.3L362 143.2L363.5 142.1L365 141.1L366.4 140.1L367.9 139.2L369.4 138.4L370.9 137.8L372.4 137.2L373.9 136.8L375.4 136.3L376.9 136L378.3 135.6L379.8 135.3L381.3 135.1L382.8 134.9L384.3 134.7L385.8 134.6L387.3 134.5L388.8 134.4L390.2 134.4L391.7 134.3L393.2 134.2L394.7 134.2L396.2 134.1L397.7 134.1L399.2 134L400.7 133.9L402.1 133.9L403.6 133.8L405.1 133.7L406.6 133.6L408.1 133.4L409.6 133.3L411.1 133.1L412.6 132.9L414 132.7L415.5 132.5L417 132.4L418.5 132.2L420 132.1L421.5 132L423 131.9L424.5 131.8L426 131.8L427.4 131.7L428.9 131.7L430.4 131.7L431.9 131.8L433.4 132.1L434.9 132.4L436.4 132.8L437.9 133.2L439.3 133.6L440.8 134L442.3 134.4L443.8 134.7L445.3 135L446.8 135.4L448.3 135.7L449.8 136.1L451.2 136.4L452.7 136.6L454.2 136.8L455.7 137L457.2 137L458.7 137L460.2 137.1L461.7 137.1L463.1 137.1L464.6 137.1L466.1 137.1L467.6 137.1L469.1 137.2L470.6 137.2L472.1 137.2L473.6 137.2L475 137.2L476.5 137.2L478 137.2L479.5 137.2L481 137.3L482.5 137.3L484 137.3L485.5 137.4L486.9 137.5L488.4 137.6L489.9 137.7L491.4 137.9L492.9 138L494.4 138.2L495.9 138.4L497.4 138.7L498.8 138.9L500.3 139.2L501.8 139.7L503.3 140.2L504.8 140.9L506.3 141.7L507.8 142.5L509.3 143.4L510.7 144.4L512.2 145.4L513.7 146.6L515.2 148.1L516.7 149.8L518.2 151.6L519.7 153.5L521.2 155.3L522.6 157.1L524.1 159L525.6 160.9L527.1 162.9L528.6 165L530.1 167L531.6 169L533.1 171L534.5 172.9L536 174.7L537.5 176.5L539 178.3L540.5 180.1L542 181.8L543.5 183.5L545 185.2L546.4 186.8L547.9 188.3L549.4 189.8L550.9 191.1L552.4 192.5L553.9 193.8L555.4 195L556.9 196.2L558.3 197.4L559.8 198.5L561.3 199.6L562.8 200.7L564.3 201.8L565.8 202.8L567.3 203.8L568.8 204.8L570.2 205.8L571.7 206.7L573.2 207.7L574.7 208.7L576.2 209.6L577.7 210.5L579.2 211.4L580.7 212.2L582.1 213L583.6 213.8L585.1 214.5L586.6 215.3L588.1 216L589.6 216.7L591.1 217.4L592.6 217.9L594 218.4L595.5 218.8L597 219.2L598.5 219.5L600 219.9L601.5 220.2L603 220.4L604.5 220.6L606 220.8L607.4 220.9L607.6 220.9" stroke="#0d5b0d" stroke-width="1.7" fill="none" stroke-linejoin="round"/>
<path d="M71.9 226.3L73.4 226.3L74.9 226.3L76.4 226.3L77.9 226.3L79.3 226.3L80.8 226.3L82.3 226.2L83.8 226.2L85.3 226.2L86.8 226.2L88.3 226.1L89.8 226.1L91.2 226.1L92.7 226L94.2 226L95.7 226L97.2 225.9L98.7 225.9L100.2 225.8L101.7 225.8L103.1 225.7L104.6 225.7L106.1 225.6L107.6 225.5L109.1 225.5L110.6 225.4L112.1 225.3L113.6 225.3L115 225.2L116.5 225.1L118 225L119.5 224.9L121 224.9L122.5 224.8L124 224.7L125.5 224.6L126.9 224.5L128.4 224.4L129.9 224.3L131.4 224.2L132.9 224.1L134.4 224L135.9 223.9L137.4 223.7L138.8 223.5L140.3 223.3L141.8 223L143.3 222.7L144.8 222.4L146.3 222L147.8 221.6L149.3 221.3L150.7 220.9L152.2 220.5L153.7 220.1L155.2 219.7L156.7 219.3L158.2 218.9L159.7 218.4L161.2 218L162.6 217.5L164.1 216.9L165.6 216.4L167.1 215.7L168.6 215.1L170.1 214.3L171.6 213.6L173.1 212.8L174.5 211.9L176 211.1L177.5 210.2L179 209.3L180.5 208.4L182 207.4L183.5 206.4L185 205.3L186.4 204.2L187.9 203.1L189.4 202L190.9 200.7L192.4 199.5L193.9 198.1L195.4 196.7L196.9 195.1L198.3 193.4L199.8 191.6L201.3 189.8L202.8 187.9L204.3 186L205.8 184.2L207.3 182.4L208.8 180.5L210.2 178.7L211.7 176.9L213.2 175L214.7 173.2L216.2 171.4L217.7 169.6L219.2 167.7L220.7 165.9L222.1 164.1L223.6 162.4L225.1 160.8L226.6 159.3L228.1 157.9L229.6 156.6L231.1 155.3L232.6 154.1L234 152.9L235.5 151.9L237 150.9L238.5 149.9L240 149L241.5 148.2L243 147.5L244.5 146.9L246 146.3L247.4 145.8L248.9 145.4L250.4 145L251.9 144.9L253.4 144.9L254.9 145.1L256.4 145.3L257.9 145.6L259.3 146L260.8 146.5L262.3 147.2L263.8 148L265.3 148.8L266.8 149.6L268.3 150.4L269.8 151.3L271.2 152.2L272.7 153.2L274.2 154.1L275.7 155L277.2 155.9L278.7 156.8L280.2 157.7L281.7 158.6L283.1 159.5L284.6 160.4L286.1 161.3L287.6 162.1L289.1 162.9L290.6 163.7L292.1 164.3L293.6 164.9L295 165.5L296.5 166.1L298 166.7L299.5 167.3L301 167.8L302.5 168.3L304 168.7L305.5 169.1L306.9 169.4L308.4 169.6L309.9 169.7L311.4 169.8L312.9 169.9L314.4 169.9L315.9 170L317.4 170L318.8 170L320.3 169.8L321.8 169.3L323.3 168.5L324.8 167.7L326.3 166.7L327.8 165.7L329.3 164.7L330.7 163.7L332.2 162.5L333.7 161.3L335.2 159.9L336.7 158.6L338.2 157.2L339.7 155.9L341.2 154.6L342.6 153.3L344.1 151.9L345.6 150.6L347.1 149.3L348.6 148.1L350.1 147L351.6 145.9L353.1 144.8L354.5 143.7L356 142.7L357.5 141.7L359 141L360.5 140.3L362 139.9L363.5 139.6L365 139.3L366.4 139L367.9 138.7L369.4 138.5L370.9 138.3L372.4 138.1L373.9 137.9L375.4 137.8L376.9 137.7L378.3 137.6L379.8 137.5L381.3 137.5L382.8 137.4L384.3 137.4L385.8 137.3L387.3 137.3L388.8 137.3L390.2 137.2L391.7 137.2L393.2 137.2L394.7 137.2L396.2 137.1L397.7 137.1L399.2 137.1L400.7 137L402.1 137L403.6 136.9L405.1 136.8L406.6 136.7L408.1 136.6L409.6 136.4L411.1 136.3L412.6 136.1L414 136L415.5 135.9L417 135.7L418.5 135.7L420 135.6L421.5 135.6L423 135.7L424.5 135.8L426 135.9L427.4 136.1L428.9 136.3L430.4 136.6L431.9 136.9L433.4 137.2L434.9 137.5L436.4 137.8L437.9 138.3L439.3 138.9L440.8 139.6L442.3 140.2L443.8 140.8L445.3 141.2L446.8 141.5L448.3 141.8L449.8 142.1L451.2 142.4L452.7 142.6L454.2 142.9L455.7 143.1L457.2 143.3L458.7 143.4L460.2 143.5L461.7 143.6L463.1 143.7L464.6 143.7L466.1 143.6L467.6 143.5L469.1 143.4L470.6 143.2L472.1 142.9L473.6 142.7L475 142.4L476.5 142.1L478 141.9L479.5 141.7L481 141.5L482.5 141.3L484 141.2L485.5 141.1L486.9 141L488.4 140.9L489.9 140.8L491.4 140.7L492.9 140.6L494.4 140.6L495.9 140.5L497.4 140.5L498.8 140.5L500.3 140.6L501.8 140.9L503.3 141.3L504.8 141.9L506.3 142.6L507.8 143.4L509.3 144.3L510.7 145.2L512.2 146.2L513.7 147.2L515.2 148.1L516.7 149.2L518.2 150.5L519.7 151.9L521.2 153.4L522.6 155L524.1 156.7L525.6 158.5L527.1 160.3L528.6 162.1L530.1 163.8L531.6 165.6L533.1 167.4L534.5 169.4L536 171.4L537.5 173.5L539 175.6L540.5 177.6L542 179.7L543.5 181.6L545 183.5L546.4 185.3L547.9 187L549.4 188.7L550.9 190.4L552.4 192L553.9 193.6L555.4 195.1L556.9 196.6L558.3 198L559.8 199.4L561.3 200.7L562.8 201.9L564.3 203L565.8 204.1L567.3 205.2L568.8 206.2L570.2 207.2L571.7 208.1L573.2 209L574.7 209.9L576.2 210.7L577.7 211.6L579.2 212.3L580.7 213.1L582.1 213.9L583.6 214.7L585.1 215.4L586.6 216.1L588.1 216.8L589.6 217.4L591.1 218L592.6 218.5L594 218.9L595.5 219.3L597 219.7L598.5 220L600 220.4L601.5 220.7L603 220.9L604.5 221.2L606 221.3L607.4 221.5L607.6 221.5" stroke="#790d79" stroke-width="1.7" fill="none" stroke-linejoin="round" stroke-dasharray="8.4 6.9"/>
<path d="M71.9 226.5L73.4 226.5L74.9 226.5L76.4 226.5L77.9 226.5L79.3 226.5L80.8 226.5L82.3 226.5L83.8 226.4L85.3 226.4L86.8 226.4L88.3 226.4L89.8 226.4L91.2 226.3L92.7 226.3L94.2 226.3L95.7 226.3L97.2 226.2L98.7 226.2L100.2 226.2L101.7 226.1L103.1 226.1L104.6 226L106.1 226L107.6 226L109.1 225.9L110.6 225.9L112.1 225.8L113.6 225.8L115 225.7L116.5 225.7L118 225.6L119.5 225.6L121 225.5L122.5 225.4L124 225.4L125.5 225.3L126.9 225.3L128.4 225.2L129.9 225.1L131.4 225.1L132.9 225L134.4 224.9L135.9 224.8L137.4 224.7L138.8 224.6L140.3 224.4L141.8 224.3L143.3 224.1L144.8 223.9L146.3 223.6L147.8 223.4L149.3 223.1L150.7 222.8L152.2 222.5L153.7 222.2L155.2 221.9L156.7 221.5L158.2 220.9L159.7 220.3L161.2 219.5L162.6 218.8L164.1 218L165.6 217.4L167.1 216.7L168.6 216.2L170.1 215.6L171.6 215L173.1 214.4L174.5 213.8L176 213.2L177.5 212.5L179 211.7L180.5 211L182 210.2L183.5 209.4L185 208.5L186.4 207.6L187.9 206.7L189.4 205.7L190.9 204.6L192.4 203.5L193.9 202.2L195.4 200.9L196.9 199.3L198.3 197.5L199.8 195.6L201.3 193.6L202.8 191.8L204.3 190L205.8 188.5L207.3 187L208.8 185.7L210.2 184.2L211.7 182.7L213.2 181L214.7 179.2L216.2 176.9L217.7 174.3L219.2 171.5L220.7 168.6L222.1 165.6L223.6 162.8L225.1 160.1L226.6 157.5L228.1 154.9L229.6 152.3L231.1 149.8L232.6 147.4L234 145.2L235.5 143.2L237 141.4L238.5 139.8L240 138.2L241.5 136.8L243 135.3L244.5 133.8L246 132.2L247.4 130.6L248.9 129.4L250.4 128.6L251.9 127.9L253.4 127.3L254.9 127L256.4 126.9L257.9 127.1L259.3 127.6L260.8 128.2L262.3 128.8L263.8 129.5L265.3 130.3L266.8 131.2L268.3 132.3L269.8 133.5L271.2 134.7L272.7 136L274.2 137.6L275.7 139.2L277.2 141L278.7 142.8L280.2 144.6L281.7 146.3L283.1 148L284.6 149.4L286.1 150.8L287.6 152.2L289.1 153.6L290.6 154.9L292.1 156.1L293.6 157.3L295 158.3L296.5 159.1L298 159.9L299.5 160.6L301 161.1L302.5 161.6L304 162L305.5 162.2L306.9 162.4L308.4 162.5L309.9 162.6L311.4 162.5L312.9 162.2L314.4 161.9L315.9 161.5L317.4 161L318.8 160.3L320.3 159.6L321.8 158.8L323.3 157.8L324.8 156.7L326.3 155.5L327.8 154.1L329.3 152.7L330.7 151.3L332.2 149.9L333.7 148.3L335.2 146.7L336.7 145L338.2 143.3L339.7 141.7L341.2 140.2L342.6 138.7L344.1 137.3L345.6 135.8L347.1 134.3L348.6 132.8L350.1 131.1L351.6 129.5L353.1 128L354.5 126.7L356 125.6L357.5 124.8L359 124L360.5 123.3L362 122.7L363.5 122.2L365 121.8L366.4 121.6L367.9 121.5L369.4 121.6L370.9 121.7L372.4 121.9L373.9 122.2L375.4 122.5L376.9 122.8L378.3 123.1L379.8 123.4L381.3 123.7L382.8 124.1L384.3 124.5L385.8 124.9L387.3 125.3L388.8 125.7L390.2 126L391.7 126.3L393.2 126.5L394.7 126.6L396.2 126.6L397.7 126.5L399.2 126.4L400.7 126.2L402.1 126L403.6 125.7L405.1 125.5L406.6 125.2L408.1 124.9L409.6 124.6L411.1 124.2L412.6 123.8L414 123.2L415.5 122.6L417 122L418.5 121.5L420 120.9L421.5 120.5L423 120.1L424.5 119.7L426 119.3L427.4 119L428.9 118.8L430.4 118.7L431.9 118.8L433.4 119L434.9 119.2L436.4 119.6L437.9 120L439.3 120.5L440.8 120.9L442.3 121.4L443.8 122.1L445.3 122.9L446.8 123.9L448.3 124.9L449.8 125.8L451.2 126.6L452.7 127.2L454.2 127.8L455.7 128.4L457.2 128.9L458.7 129.3L460.2 129.6L461.7 129.9L463.1 130.2L464.6 130.5L466.1 130.7L467.6 130.8L469.1 130.9L470.6 130.9L472.1 130.8L473.6 130.6L475 130.4L476.5 130.1L478 129.8L479.5 129.5L481 129L482.5 128.5L484 127.9L485.5 127.2L486.9 126.5L488.4 126L489.9 125.4L491.4 124.8L492.9 124.3L494.4 123.8L495.9 123.5L497.4 123.2L498.8 123L500.3 122.8L501.8 122.8L503.3 123.1L504.8 123.5L506.3 124.1L507.8 124.6L509.3 125.4L510.7 126.3L512.2 127.3L513.7 128.5L515.2 129.7L516.7 131.2L518.2 132.8L519.7 134.5L521.2 136.4L522.6 138.4L524.1 140.5L525.6 142.6L527.1 144.7L528.6 146.7L530.1 148.9L531.6 151.2L533.1 153.5L534.5 155.7L536 158L537.5 160.2L539 162.4L540.5 164.6L542 166.9L543.5 169.2L545 171.7L546.4 174.2L547.9 176.8L549.4 179.3L550.9 181.7L552.4 184L553.9 186.1L555.4 188.2L556.9 190.2L558.3 192.1L559.8 193.8L561.3 195.4L562.8 196.9L564.3 198.3L565.8 199.7L567.3 201L568.8 202.3L570.2 203.6L571.7 204.8L573.2 206L574.7 207L576.2 208L577.7 208.9L579.2 209.8L580.7 210.6L582.1 211.4L583.6 212.1L585.1 212.9L586.6 213.7L588.1 214.5L589.6 215.3L591.1 216.1L592.6 216.8L594 217.5L595.5 218L597 218.5L598.5 218.9L600 219.4L601.5 219.8L603 220.1L604.5 220.4L606 220.7L607.4 220.9L607.6 220.9" stroke="#7d7d19" stroke-width="1.7" fill="none" stroke-linejoin="round"/>
<path d="M71.9 225.8L73.4 225.7L74.9 225.7L76.4 225.6L77.9 225.6L79.3 225.5L80.8 225.4L82.3 225.4L83.8 225.3L85.3 225.2L86.8 225.2L88.3 225.1L89.8 225.1L91.2 225L92.7 224.9L94.2 224.9L95.7 224.8L97.2 224.7L98.7 224.7L100.2 224.6L101.7 224.6L103.1 224.5L104.6 224.4L106.1 224.4L107.6 224.3L109.1 224.3L110.6 224.2L112.1 224.1L113.6 224.1L115 224L116.5 223.9L118 223.9L119.5 223.8L121 223.8L122.5 223.7L124 223.6L125.5 223.6L126.9 223.5L128.4 223.4L129.9 223.4L131.4 223.3L132.9 223.3L134.4 223.2L135.9 223.1L137.4 223.1L138.8 223L140.3 222.9L141.8 222.9L143.3 222.8L144.8 222.8L146.3 222.7L147.8 222.6L149.3 222.6L150.7 222.5L152.2 222.4L153.7 222.4L155.2 222.3L156.7 222.3L158.2 222.2L159.7 222.1L161.2 222.1L162.6 222L164.1 221.9L165.6 221.9L167.1 221.8L168.6 221.8L170.1 221.7L171.6 221.6L173.1 221.6L174.5 221.5L176 221.4L177.5 221.4L179 221.3L180.5 221.3L182 221.2L183.5 221.1L185 221.1L186.4 221L187.9 220.9L189.4 220.9L190.9 220.8L192.4 220.7L193.9 220.7L195.4 220.6L196.9 220.5L198.3 220.5L199.8 220.4L201.3 220.3L202.8 220.3L204.3 220.2L205.8 220.2L207.3 220.1L208.8 220L210.2 220L211.7 219.9L213.2 219.9L214.7 219.8L216.2 219.8L217.7 219.7L219.2 219.6L220.7 219.6L222.1 219.5L223.6 219.5L225.1 219.4L226.6 219.4L228.1 219.3L229.6 219.2L231.1 219.2L232.6 219.1L234 219.1L235.5 219L237 219L238.5 218.9L240 218.9L241.5 218.8L243 218.8L244.5 218.7L246 218.6L247.4 218.6L248.9 218.5L250.4 218.5L251.9 218.4L253.4 218.4L254.9 218.4L256.4 218.3L257.9 218.3L259.3 218.2L260.8 218.2L262.3 218.1L263.8 218.1L265.3 218.1L266.8 218L268.3 218L269.8 217.9L271.2 217.9L272.7 217.9L274.2 217.8L275.7 217.8L277.2 217.8L278.7 217.7L280.2 217.7L281.7 217.7L283.1 217.6L284.6 217.6L286.1 217.6L287.6 217.5L289.1 217.5L290.6 217.5L292.1 217.4L293.6 217.4L295 217.4L296.5 217.3L298 217.3L299.5 217.3L301 217.3L302.5 217.2L304 217.2L305.5 217.2L306.9 217.1L308.4 217.1L309.9 217.1L311.4 217.1L312.9 217L314.4 217L315.9 217L317.4 217L318.8 217L320.3 217L321.8 216.9L323.3 216.9L324.8 216.9L326.3 216.9L327.8 216.9L329.3 216.9L330.7 216.9L332.2 216.9L333.7 216.9L335.2 216.9L336.7 216.9L338.2 216.9L339.7 216.9L341.2 216.9L342.6 216.9L344.1 216.9L345.6 216.9L347.1 216.9L348.6 216.9L350.1 216.9L351.6 216.9L353.1 216.9L354.5 216.9L356 216.9L357.5 216.9L359 216.9L360.5 216.9L362 216.9L363.5 216.9L365 216.9L366.4 216.9L367.9 216.9L369.4 216.9L370.9 216.9L372.4 216.9L373.9 216.9L375.4 216.9L376.9 216.8L378.3 216.8L379.8 216.8L381.3 216.8L382.8 216.8L384.3 216.8L385.8 216.8L387.3 216.8L388.8 216.8L390.2 216.8L391.7 216.8L393.2 216.8L394.7 216.8L396.2 216.8L397.7 216.8L399.2 216.8L400.7 216.8L402.1 216.8L403.6 216.8L405.1 216.8L406.6 216.8L408.1 216.8L409.6 216.8L411.1 216.8L412.6 216.8L414 216.8L415.5 216.8L417 216.8L418.5 216.8L420 216.8L421.5 216.8L423 216.8L424.5 216.8L426 216.8L427.4 216.8L428.9 216.8L430.4 216.8L431.9 216.8L433.4 216.8L434.9 216.8L436.4 216.8L437.9 216.8L439.3 216.8L440.8 216.7L442.3 216.7L443.8 216.7L445.3 216.7L446.8 216.7L448.3 216.7L449.8 216.7L451.2 216.6L452.7 216.6L454.2 216.6L455.7 216.6L457.2 216.6L458.7 216.5L460.2 216.5L461.7 216.5L463.1 216.5L464.6 216.5L466.1 216.4L467.6 216.4L469.1 216.4L470.6 216.4L472.1 216.3L473.6 216.3L475 216.3L476.5 216.3L478 216.3L479.5 216.2L481 216.2L482.5 216.2L484 216.2L485.5 216.2L486.9 216.1L488.4 216.1L489.9 216.1L491.4 216.1L492.9 216.1L494.4 216.1L495.9 216.1L497.4 216L498.8 216L500.3 216L501.8 216L503.3 216L504.8 216L506.3 216L507.8 216L509.3 216L510.7 216L512.2 216L513.7 216L515.2 216L516.7 216L518.2 216L519.7 216L521.2 216L522.6 216L524.1 216L525.6 216L527.1 216L528.6 216L530.1 216L531.6 216L533.1 216L534.5 216L536 216L537.5 216L539 216L540.5 216L542 216L543.5 216L545 216L546.4 216L547.9 216L549.4 216L550.9 216L552.4 216L553.9 216L555.4 216L556.9 216L558.3 216L559.8 216L561.3 216L562.8 216L564.3 216L565.8 216L567.3 216L568.8 216L570.2 216L571.7 216L573.2 216L574.7 216L576.2 216L577.7 216L579.2 216L580.7 216L582.1 216L583.6 216L585.1 216L586.6 216L588.1 216L589.6 216L591.1 216L592.6 216L594 216L595.5 216L597 216L598.5 216L600 216L601.5 216L603 216L604.5 216L606 216L607.4 216L607.6 216" stroke="#ea9023" stroke-width="1.7" fill="none" stroke-linejoin="round" stroke-dasharray="8.4 6.9"/>
<path d="M71.9 226.3L73.4 226.3L74.9 226.2L76.4 226.2L77.9 226.1L79.3 226.1L80.8 226L82.3 226L83.8 225.9L85.3 225.9L86.8 225.8L88.3 225.8L89.8 225.7L91.2 225.7L92.7 225.6L94.2 225.6L95.7 225.5L97.2 225.5L98.7 225.4L100.2 225.4L101.7 225.3L103.1 225.3L104.6 225.2L106.1 225.2L107.6 225.1L109.1 225.1L110.6 225.1L112.1 225L113.6 225L115 224.9L116.5 224.9L118 224.8L119.5 224.8L121 224.7L122.5 224.7L124 224.6L125.5 224.6L126.9 224.5L128.4 224.5L129.9 224.4L131.4 224.4L132.9 224.4L134.4 224.3L135.9 224.3L137.4 224.2L138.8 224.2L140.3 224.1L141.8 224.1L143.3 224L144.8 224L146.3 223.9L147.8 223.9L149.3 223.8L150.7 223.8L152.2 223.7L153.7 223.7L155.2 223.6L156.7 223.6L158.2 223.5L159.7 223.5L161.2 223.5L162.6 223.4L164.1 223.4L165.6 223.3L167.1 223.3L168.6 223.2L170.1 223.2L171.6 223.1L173.1 223.1L174.5 223.1L176 223L177.5 223L179 222.9L180.5 222.9L182 222.9L183.5 222.8L185 222.8L186.4 222.7L187.9 222.7L189.4 222.7L190.9 222.6L192.4 222.6L193.9 222.5L195.4 222.5L196.9 222.5L198.3 222.4L199.8 222.4L201.3 222.4L202.8 222.3L204.3 222.3L205.8 222.2L207.3 222.2L208.8 222.2L210.2 222.1L211.7 222.1L213.2 222.1L214.7 222L216.2 222L217.7 222L219.2 222L220.7 221.9L222.1 221.9L223.6 221.9L225.1 221.9L226.6 221.8L228.1 221.8L229.6 221.8L231.1 221.8L232.6 221.8L234 221.7L235.5 221.7L237 221.7L238.5 221.7L240 221.7L241.5 221.6L243 221.6L244.5 221.6L246 221.6L247.4 221.6L248.9 221.6L250.4 221.5L251.9 221.5L253.4 221.5L254.9 221.5L256.4 221.5L257.9 221.5L259.3 221.4L260.8 221.4L262.3 221.4L263.8 221.4L265.3 221.4L266.8 221.4L268.3 221.4L269.8 221.3L271.2 221.3L272.7 221.3L274.2 221.3L275.7 221.3L277.2 221.3L278.7 221.3L280.2 221.2L281.7 221.2L283.1 221.2L284.6 221.2L286.1 221.2L287.6 221.2L289.1 221.2L290.6 221.2L292.1 221.1L293.6 221.1L295 221.1L296.5 221.1L298 221.1L299.5 221.1L301 221.1L302.5 221.1L304 221.1L305.5 221.1L306.9 221.1L308.4 221.1L309.9 221L311.4 221L312.9 221L314.4 221L315.9 221L317.4 221L318.8 221L320.3 221L321.8 221L323.3 221L324.8 221L326.3 221L327.8 221L329.3 221L330.7 221L332.2 221L333.7 221L335.2 221L336.7 221L338.2 221L339.7 221L341.2 221L342.6 221L344.1 221L345.6 221L347.1 221L348.6 221L350.1 221L351.6 221L353.1 221L354.5 221L356 221L357.5 221L359 221L360.5 221L362 221L363.5 221.1L365 221.1L366.4 221.1L367.9 221.1L369.4 221.1L370.9 221.1L372.4 221.1L373.9 221.1L375.4 221.1L376.9 221.1L378.3 221.1L379.8 221.1L381.3 221.1L382.8 221.1L384.3 221.1L385.8 221.1L387.3 221.1L388.8 221.1L390.2 221.1L391.7 221.1L393.2 221.1L394.7 221.1L396.2 221.1L397.7 221.2L399.2 221.2L400.7 221.2L402.1 221.2L403.6 221.2L405.1 221.2L406.6 221.2L408.1 221.2L409.6 221.2L411.1 221.2L412.6 221.2L414 221.2L415.5 221.2L417 221.2L418.5 221.2L420 221.2L421.5 221.2L423 221.2L424.5 221.2L426 221.2L427.4 221.2L428.9 221.2L430.4 221.2L431.9 221.2L433.4 221.2L434.9 221.2L436.4 221.2L437.9 221.2L439.3 221.2L440.8 221.2L442.3 221.2L443.8 221.2L445.3 221.2L446.8 221.2L448.3 221.2L449.8 221.2L451.2 221.2L452.7 221.2L454.2 221.2L455.7 221.2L457.2 221.2L458.7 221.2L460.2 221.2L461.7 221.2L463.1 221.2L464.6 221.2L466.1 221.2L467.6 221.2L469.1 221.2L470.6 221.2L472.1 221.2L473.6 221.2L475 221.2L476.5 221.2L478 221.1L479.5 221.1L481 221.1L482.5 221.1L484 221.1L485.5 221.1L486.9 221.1L488.4 221.1L489.9 221.1L491.4 221.1L492.9 221.1L494.4 221.1L495.9 221.1L497.4 221.1L498.8 221.1L500.3 221.1L501.8 221.1L503.3 221.1L504.8 221.1L506.3 221.1L507.8 221.1L509.3 221.1L510.7 221.1L512.2 221L513.7 221L515.2 221L516.7 221L518.2 221L519.7 221L521.2 221L522.6 221L524.1 221L525.6 221L527.1 221L528.6 221L530.1 221L531.6 221L533.1 221L534.5 221L536 220.9L537.5 220.9L539 220.9L540.5 220.9L542 220.9L543.5 220.9L545 220.9L546.4 220.9L547.9 220.9L549.4 220.9L550.9 220.9L552.4 220.9L553.9 220.9L555.4 220.8L556.9 220.8L558.3 220.8L559.8 220.8L561.3 220.8L562.8 220.8L564.3 220.8L565.8 220.8L567.3 220.8L568.8 220.8L570.2 220.8L571.7 220.8L573.2 220.7L574.7 220.7L576.2 220.7L577.7 220.7L579.2 220.7L580.7 220.7L582.1 220.7L583.6 220.7L585.1 220.7L586.6 220.7L588.1 220.6L589.6 220.6L591.1 220.6L592.6 220.6L594 220.6L595.5 220.6L597 220.6L598.5 220.6L600 220.6L601.5 220.5L603 220.5L604.5 220.5L606 220.5L607.4 220.5L607.6 220.5" stroke="#de278a" stroke-width="1.7" fill="none" stroke-linejoin="round"/>
<path d="M71.9 225.6L73.4 225.6L74.9 225.5L76.4 225.5L77.9 225.4L79.3 225.4L80.8 225.3L82.3 225.2L83.8 225.1L85.3 225L86.8 224.9L88.3 224.8L89.8 224.7L91.2 224.6L92.7 224.5L94.2 224.3L95.7 224.2L97.2 224.1L98.7 224L100.2 223.8L101.7 223.7L103.1 223.6L104.6 223.4L106.1 223.3L107.6 223.1L109.1 222.9L110.6 222.7L112.1 222.5L113.6 222.3L115 222.1L116.5 221.9L118 221.7L119.5 221.4L121 221.2L122.5 220.9L124 220.6L125.5 220.4L126.9 220.1L128.4 219.8L129.9 219.5L131.4 219.2L132.9 218.9L134.4 218.5L135.9 218.2L137.4 217.8L138.8 217.4L140.3 217L141.8 216.6L143.3 216.1L144.8 215.7L146.3 215.2L147.8 214.6L149.3 214.1L150.7 213.5L152.2 212.9L153.7 212.3L155.2 211.7L156.7 211L158.2 210.3L159.7 209.6L161.2 208.8L162.6 207.9L164.1 207L165.6 206.1L167.1 205.1L168.6 204.1L170.1 203.1L171.6 202L173.1 201L174.5 199.9L176 198.7L177.5 197.4L179 196.2L180.5 194.8L182 193.5L183.5 192.1L185 190.7L186.4 189.4L187.9 188L189.4 186.6L190.9 185.2L192.4 183.7L193.9 182.2L195.4 180.7L196.9 179.2L198.3 177.8L199.8 176.4L201.3 175.1L202.8 173.8L204.3 172.6L205.8 171.5L207.3 170.4L208.8 169.3L210.2 168.3L211.7 167.2L213.2 166.2L214.7 165.2L216.2 164.2L217.7 163.1L219.2 162L220.7 161.1L222.1 160.3L223.6 159.7L225.1 159.1L226.6 158.6L228.1 158.1L229.6 157.6L231.1 157.1L232.6 156.8L234 156.5L235.5 156.3L237 156.2L238.5 156.2L240 156.3L241.5 156.5L243 156.7L244.5 156.9L246 157.2L247.4 157.5L248.9 157.8L250.4 158.1L251.9 158.4L253.4 158.6L254.9 158.8L256.4 159L257.9 159.3L259.3 159.5L260.8 159.7L262.3 159.9L263.8 160.1L265.3 160.3L266.8 160.5L268.3 160.6L269.8 160.7L271.2 160.7L272.7 160.7L274.2 160.7L275.7 160.6L277.2 160.5L278.7 160.4L280.2 160.3L281.7 160.2L283.1 160.1L284.6 160L286.1 159.8L287.6 159.7L289.1 159.5L290.6 159.4L292.1 159.2L293.6 158.9L295 158.7L296.5 158.4L298 158.1L299.5 157.8L301 157.4L302.5 157.1L304 156.7L305.5 156.3L306.9 155.8L308.4 155.3L309.9 154.8L311.4 154.4L312.9 153.9L314.4 153.6L315.9 153.4L317.4 153.1L318.8 152.9L320.3 152.7L321.8 152.5L323.3 152.3L324.8 152.1L326.3 151.9L327.8 151.8L329.3 151.8L330.7 151.7L332.2 151.7L333.7 151.7L335.2 151.7L336.7 151.7L338.2 151.7L339.7 151.7L341.2 151.7L342.6 151.7L344.1 151.7L345.6 151.7L347.1 151.7L348.6 151.7L350.1 151.7L351.6 151.7L353.1 151.7L354.5 151.7L356 151.7L357.5 151.7L359 151.7L360.5 151.7L362 151.7L363.5 151.7L365 151.7L366.4 151.6L367.9 151.6L369.4 151.5L370.9 151.4L372.4 151.4L373.9 151.3L375.4 151.3L376.9 151.2L378.3 151.2L379.8 151.1L381.3 151.1L382.8 151.1L384.3 151.1L385.8 151.1L387.3 151.2L388.8 151.3L390.2 151.4L391.7 151.4L393.2 151.5L394.7 151.7L396.2 151.8L397.7 152.1L399.2 152.4L400.7 152.8L402.1 153.3L403.6 153.7L405.1 154.2L406.6 154.6L408.1 154.9L409.6 155.3L411.1 155.6L412.6 156L414 156.3L415.5 156.6L417 157L418.5 157.3L420 157.5L421.5 157.7L423 157.8L424.5 157.9L426 157.9L427.4 157.9L428.9 157.9L430.4 157.9L431.9 157.9L433.4 157.9L434.9 157.9L436.4 157.9L437.9 157.9L439.3 157.9L440.8 157.9L442.3 157.9L443.8 157.8L445.3 157.6L446.8 157.3L448.3 157L449.8 156.7L451.2 156.6L452.7 156.5L454.2 156.4L455.7 156.3L457.2 156.2L458.7 156.1L460.2 156L461.7 156L463.1 155.9L464.6 155.9L466.1 155.8L467.6 155.8L469.1 155.8L470.6 155.8L472.1 156L473.6 156.3L475 156.7L476.5 157.2L478 157.8L479.5 158.4L481 159L482.5 159.7L484 160.3L485.5 161L486.9 161.9L488.4 162.8L489.9 163.7L491.4 164.7L492.9 165.8L494.4 166.9L495.9 168L497.4 169.2L498.8 170.3L500.3 171.5L501.8 172.8L503.3 174.1L504.8 175.5L506.3 176.9L507.8 178.3L509.3 179.7L510.7 181.1L512.2 182.4L513.7 183.8L515.2 185.1L516.7 186.4L518.2 187.6L519.7 188.9L521.2 190.2L522.6 191.4L524.1 192.6L525.6 193.8L527.1 194.9L528.6 196L530.1 197.2L531.6 198.3L533.1 199.3L534.5 200.4L536 201.4L537.5 202.4L539 203.4L540.5 204.3L542 205.2L543.5 206L545 206.9L546.4 207.7L547.9 208.5L549.4 209.3L550.9 210L552.4 210.7L553.9 211.4L555.4 212.1L556.9 212.7L558.3 213.2L559.8 213.8L561.3 214.4L562.8 214.9L564.3 215.4L565.8 216L567.3 216.4L568.8 216.9L570.2 217.4L571.7 217.8L573.2 218.2L574.7 218.5L576.2 218.9L577.7 219.2L579.2 219.4L580.7 219.7L582.1 219.9L583.6 220.1L585.1 220.4L586.6 220.6L588.1 220.8L589.6 221L591.1 221.2L592.6 221.4L594 221.6L595.5 221.8L597 221.9L598.5 222.1L600 222.2L601.5 222.3L603 222.4L604.5 222.4L606 222.5L607.4 222.5L607.6 222.5" stroke="#720fd6" stroke-width="1.7" fill="none" stroke-linejoin="round" stroke-dasharray="8.4 6.9"/>
<path d="M61.16 41.3 H83.97" stroke="#d81111" stroke-width="1.85" fill="none"/>
<path d="M61.16 54.75 H69.26 M76.36 54.75 H83.97" stroke="#0606cd" stroke-width="1.85" fill="none"/>
<path d="M61.16 68.2 H83.97" stroke="#3cd53c" stroke-width="1.85" fill="none"/>
<path d="M61.16 81.65 H69.26 M76.36 81.65 H83.97" stroke="#de17de" stroke-width="1.85" fill="none"/>
<path d="M61.16 95.1 H83.97" stroke="#32eaea" stroke-width="1.85" fill="none"/>
<path d="M61.16 108.55 H69.26 M76.36 108.55 H83.97" stroke="#030367" stroke-width="1.85" fill="none"/>
<path d="M61.16 122 H83.97" stroke="#0d5b0d" stroke-width="1.85" fill="none"/>
<path d="M61.16 135.45 H69.26 M76.36 135.45 H83.97" stroke="#790d79" stroke-width="1.85" fill="none"/>
<path d="M61.16 148.9 H83.97" stroke="#7d7d19" stroke-width="1.85" fill="none"/>
<path d="M61.16 162.35 H69.26 M76.36 162.35 H83.97" stroke="#ea9023" stroke-width="1.85" fill="none"/>
<path d="M61.16 175.8 H83.97" stroke="#de278a" stroke-width="1.85" fill="none"/>
<path d="M61.16 189.25 H69.26 M76.36 189.25 H83.97" stroke="#720fd6" stroke-width="1.85" fill="none"/>
<!-- middle-left -->
<rect x="49.67" y="338.6" width="579.17" height="207.55" fill="none" stroke="#1c1c1c" stroke-width="1"/>
<line x1="56.94" y1="546.15" x2="56.94" y2="552.15" stroke="#1c1c1c" stroke-width="1"/>
<line x1="198.29" y1="546.15" x2="198.29" y2="552.15" stroke="#1c1c1c" stroke-width="1"/>
<line x1="339.63" y1="546.15" x2="339.63" y2="552.15" stroke="#1c1c1c" stroke-width="1"/>
<line x1="480.97" y1="546.15" x2="480.97" y2="552.15" stroke="#1c1c1c" stroke-width="1"/>
<line x1="622.31" y1="546.15" x2="622.31" y2="552.15" stroke="#1c1c1c" stroke-width="1"/>
<line x1="42.73" y1="538.3" x2="49.67" y2="538.3" stroke="#1c1c1c" stroke-width="1"/>
<line x1="42.73" y1="499.24" x2="49.67" y2="499.24" stroke="#1c1c1c" stroke-width="1"/>
<line x1="42.73" y1="460.18" x2="49.67" y2="460.18" stroke="#1c1c1c" stroke-width="1"/>
<line x1="42.73" y1="421.12" x2="49.67" y2="421.12" stroke="#1c1c1c" stroke-width="1"/>
<line x1="42.73" y1="382.06" x2="49.67" y2="382.06" stroke="#1c1c1c" stroke-width="1"/>
<line x1="42.73" y1="343" x2="49.67" y2="343" stroke="#1c1c1c" stroke-width="1"/>
<path d="M72.2 537L73.7 537L75.2 537L76.7 537L78.2 536.9L79.7 536.9L81.2 536.9L82.6 536.9L84.1 536.9L85.6 536.8L87.1 536.8L88.6 536.8L90.1 536.7L91.6 536.7L93.1 536.7L94.5 536.6L96 536.6L97.5 536.5L99 536.5L100.5 536.4L102 536.4L103.5 536.3L105 536.3L106.4 536.2L107.9 536.2L109.4 536.1L110.9 536.1L112.4 536L113.9 535.9L115.4 535.9L116.9 535.8L118.3 535.7L119.8 535.7L121.3 535.6L122.8 535.5L124.3 535.5L125.8 535.4L127.3 535.3L128.8 535.3L130.2 535.2L131.7 535.1L133.2 535L134.7 535L136.2 534.9L137.7 534.8L139.2 534.7L140.7 534.7L142.1 534.6L143.6 534.5L145.1 534.4L146.6 534.3L148.1 534.3L149.6 534.2L151.1 534.1L152.6 534L154 533.9L155.5 533.9L157 533.8L158.5 533.7L160 533.6L161.5 533.5L163 533.4L164.5 533.3L166 533.2L167.4 533.1L168.9 533L170.4 532.9L171.9 532.7L173.4 532.6L174.9 532.5L176.4 532.4L177.9 532.3L179.3 532.1L180.8 532L182.3 531.8L183.8 531.7L185.3 531.6L186.8 531.4L188.3 531.3L189.8 531.1L191.2 531L192.7 530.8L194.2 530.7L195.7 530.5L197.2 530.4L198.7 530.2L200.2 530.1L201.7 529.9L203.1 529.7L204.6 529.6L206.1 529.4L207.6 529.2L209.1 529.1L210.6 528.9L212.1 528.7L213.6 528.6L215 528.4L216.5 528.2L218 528.1L219.5 527.9L221 527.7L222.5 527.5L224 527.3L225.5 527L226.9 526.8L228.4 526.6L229.9 526.4L231.4 526.2L232.9 526L234.4 525.7L235.9 525.5L237.4 525.3L238.8 525.1L240.3 524.9L241.8 524.8L243.3 524.6L244.8 524.4L246.3 524.2L247.8 524.1L249.3 523.9L250.7 523.7L252.2 523.6L253.7 523.4L255.2 523.2L256.7 523.1L258.2 522.9L259.7 522.8L261.2 522.6L262.6 522.4L264.1 522.3L265.6 522.1L267.1 522L268.6 521.8L270.1 521.7L271.6 521.5L273.1 521.3L274.5 521.2L276 521L277.5 520.8L279 520.6L280.5 520.5L282 520.3L283.5 520.2L285 520L286.4 519.9L287.9 519.8L289.4 519.6L290.9 519.6L292.4 519.5L293.9 519.4L295.4 519.4L296.9 519.3L298.3 519.3L299.8 519.3L301.3 519.2L302.8 519.2L304.3 519.2L305.8 519.1L307.3 519.1L308.8 519.1L310.2 519.1L311.7 519.1L313.2 519L314.7 519L316.2 519L317.7 519L319.2 519L320.7 519L322.1 519L323.6 519L325.1 519L326.6 519L328.1 519L329.6 519L331.1 519L332.6 519L334 519.1L335.5 519.1L337 519.1L338.5 519.1L340 519.1L341.5 519.1L343 519.1L344.5 519.2L346 519.2L347.4 519.2L348.9 519.2L350.4 519.3L351.9 519.3L353.4 519.4L354.9 519.4L356.4 519.5L357.9 519.6L359.3 519.7L360.8 519.8L362.3 519.9L363.8 520L365.3 520.2L366.8 520.3L368.3 520.4L369.8 520.5L371.2 520.7L372.7 520.8L374.2 520.9L375.7 521L377.2 521.2L378.7 521.3L380.2 521.5L381.7 521.7L383.1 521.9L384.6 522L386.1 522.2L387.6 522.4L389.1 522.6L390.6 522.8L392.1 523L393.6 523.2L395 523.4L396.5 523.6L398 523.7L399.5 523.9L401 524L402.5 524.1L404 524.3L405.5 524.4L406.9 524.5L408.4 524.6L409.9 524.7L411.4 524.8L412.9 524.9L414.4 525L415.9 525.1L417.4 525.2L418.8 525.4L420.3 525.5L421.8 525.7L423.3 525.8L424.8 526L426.3 526.2L427.8 526.4L429.3 526.6L430.7 526.9L432.2 527.1L433.7 527.3L435.2 527.6L436.7 527.8L438.2 528L439.7 528.2L441.2 528.4L442.6 528.6L444.1 528.7L445.6 528.9L447.1 529.1L448.6 529.2L450.1 529.4L451.6 529.6L453.1 529.7L454.5 529.9L456 530L457.5 530.2L459 530.3L460.5 530.5L462 530.6L463.5 530.7L465 530.9L466.4 531L467.9 531.1L469.4 531.2L470.9 531.4L472.4 531.5L473.9 531.6L475.4 531.8L476.9 531.9L478.3 532L479.8 532.1L481.3 532.2L482.8 532.3L484.3 532.4L485.8 532.6L487.3 532.7L488.8 532.8L490.2 532.9L491.7 532.9L493.2 533L494.7 533.1L496.2 533.2L497.7 533.3L499.2 533.3L500.7 533.4L502.1 533.5L503.6 533.6L505.1 533.6L506.6 533.7L508.1 533.8L509.6 533.8L511.1 533.9L512.6 534L514 534L515.5 534.1L517 534.2L518.5 534.2L520 534.3L521.5 534.3L523 534.4L524.5 534.4L526 534.5L527.4 534.6L528.9 534.6L530.4 534.7L531.9 534.7L533.4 534.8L534.9 534.8L536.4 534.9L537.9 534.9L539.3 535L540.8 535L542.3 535L543.8 535.1L545.3 535.1L546.8 535.2L548.3 535.2L549.8 535.2L551.2 535.3L552.7 535.3L554.2 535.4L555.7 535.4L557.2 535.4L558.7 535.5L560.2 535.5L561.7 535.6L563.1 535.6L564.6 535.6L566.1 535.7L567.6 535.7L569.1 535.7L570.6 535.8L572.1 535.8L573.6 535.8L575 535.9L576.5 535.9L578 535.9L579.5 536L581 536L582.5 536L584 536L585.5 536.1L586.9 536.1L588.4 536.1L589.9 536.2L591.4 536.2L592.9 536.2L594.4 536.2L595.9 536.2L597.4 536.3L598.8 536.3L600.3 536.3L601.8 536.3L603.3 536.3L604.8 536.4L606.3 536.4L607.8 536.4L607.9 536.4" stroke="#d81111" stroke-width="1.7" fill="none" stroke-linejoin="round"/>
<path d="M72.2 537.2L73.7 537.2L75.2 537.2L76.7 537.2L78.2 537.2L79.7 537.2L81.2 537.1L82.6 537.1L84.1 537.1L85.6 537.1L87.1 537L88.6 537L90.1 537L91.6 536.9L93.1 536.9L94.5 536.8L96 536.8L97.5 536.7L99 536.7L100.5 536.6L102 536.6L103.5 536.5L105 536.5L106.4 536.4L107.9 536.3L109.4 536.3L110.9 536.2L112.4 536.1L113.9 536.1L115.4 536L116.9 535.9L118.3 535.8L119.8 535.8L121.3 535.7L122.8 535.6L124.3 535.5L125.8 535.4L127.3 535.3L128.8 535.3L130.2 535.2L131.7 535.1L133.2 535L134.7 534.9L136.2 534.8L137.7 534.7L139.2 534.6L140.7 534.5L142.1 534.4L143.6 534.3L145.1 534.2L146.6 534.1L148.1 534L149.6 533.9L151.1 533.8L152.6 533.7L154 533.6L155.5 533.5L157 533.4L158.5 533.3L160 533.2L161.5 533.1L163 533L164.5 532.9L166 532.7L167.4 532.6L168.9 532.4L170.4 532.3L171.9 532.1L173.4 532L174.9 531.8L176.4 531.6L177.9 531.5L179.3 531.3L180.8 531.1L182.3 530.9L183.8 530.8L185.3 530.6L186.8 530.4L188.3 530.2L189.8 530L191.2 529.8L192.7 529.6L194.2 529.4L195.7 529.2L197.2 529L198.7 528.8L200.2 528.6L201.7 528.3L203.1 528.1L204.6 527.9L206.1 527.7L207.6 527.5L209.1 527.3L210.6 527.1L212.1 526.9L213.6 526.6L215 526.4L216.5 526.2L218 526L219.5 525.8L221 525.5L222.5 525.3L224 525.1L225.5 524.8L226.9 524.6L228.4 524.4L229.9 524.1L231.4 523.8L232.9 523.6L234.4 523.3L235.9 523.1L237.4 522.8L238.8 522.5L240.3 522.2L241.8 521.9L243.3 521.6L244.8 521.3L246.3 521L247.8 520.7L249.3 520.3L250.7 520L252.2 519.6L253.7 519.2L255.2 518.9L256.7 518.5L258.2 518.2L259.7 517.8L261.2 517.4L262.6 517.1L264.1 516.8L265.6 516.5L267.1 516.2L268.6 515.9L270.1 515.6L271.6 515.3L273.1 515L274.5 514.7L276 514.5L277.5 514.2L279 513.9L280.5 513.7L282 513.4L283.5 513.2L285 512.9L286.4 512.7L287.9 512.5L289.4 512.2L290.9 512L292.4 511.9L293.9 511.7L295.4 511.5L296.9 511.3L298.3 511.2L299.8 511L301.3 510.8L302.8 510.7L304.3 510.5L305.8 510.4L307.3 510.2L308.8 510.1L310.2 510L311.7 509.8L313.2 509.7L314.7 509.6L316.2 509.6L317.7 509.5L319.2 509.4L320.7 509.4L322.1 509.4L323.6 509.4L325.1 509.3L326.6 509.3L328.1 509.3L329.6 509.3L331.1 509.3L332.6 509.3L334 509.3L335.5 509.2L337 509.2L338.5 509.2L340 509.2L341.5 509.2L343 509.2L344.5 509.2L346 509.2L347.4 509.2L348.9 509.2L350.4 509.2L351.9 509.2L353.4 509.2L354.9 509.3L356.4 509.3L357.9 509.3L359.3 509.4L360.8 509.4L362.3 509.5L363.8 509.5L365.3 509.6L366.8 509.7L368.3 509.7L369.8 509.8L371.2 509.9L372.7 509.9L374.2 510L375.7 510.1L377.2 510.2L378.7 510.3L380.2 510.5L381.7 510.6L383.1 510.8L384.6 511L386.1 511.2L387.6 511.4L389.1 511.6L390.6 511.9L392.1 512.1L393.6 512.4L395 512.6L396.5 512.9L398 513.2L399.5 513.5L401 513.9L402.5 514.2L404 514.6L405.5 515L406.9 515.5L408.4 515.9L409.9 516.3L411.4 516.7L412.9 517.1L414.4 517.4L415.9 517.8L417.4 518.1L418.8 518.5L420.3 518.8L421.8 519.1L423.3 519.4L424.8 519.8L426.3 520.1L427.8 520.4L429.3 520.7L430.7 521L432.2 521.3L433.7 521.6L435.2 521.9L436.7 522.2L438.2 522.5L439.7 522.8L441.2 523.1L442.6 523.4L444.1 523.7L445.6 524L447.1 524.3L448.6 524.6L450.1 524.9L451.6 525.2L453.1 525.5L454.5 525.8L456 526.1L457.5 526.3L459 526.6L460.5 526.9L462 527.1L463.5 527.4L465 527.6L466.4 527.9L467.9 528.1L469.4 528.3L470.9 528.5L472.4 528.7L473.9 528.9L475.4 529.1L476.9 529.3L478.3 529.5L479.8 529.7L481.3 529.9L482.8 530.1L484.3 530.3L485.8 530.4L487.3 530.6L488.8 530.8L490.2 531L491.7 531.1L493.2 531.3L494.7 531.4L496.2 531.6L497.7 531.8L499.2 531.9L500.7 532.1L502.1 532.2L503.6 532.4L505.1 532.6L506.6 532.7L508.1 532.9L509.6 533L511.1 533.1L512.6 533.3L514 533.4L515.5 533.5L517 533.6L518.5 533.8L520 533.9L521.5 534L523 534.1L524.5 534.2L526 534.2L527.4 534.3L528.9 534.4L530.4 534.5L531.9 534.6L533.4 534.7L534.9 534.8L536.4 534.8L537.9 534.9L539.3 535L540.8 535.1L542.3 535.1L543.8 535.2L545.3 535.3L546.8 535.3L548.3 535.4L549.8 535.5L551.2 535.5L552.7 535.6L554.2 535.6L555.7 535.7L557.2 535.7L558.7 535.8L560.2 535.8L561.7 535.9L563.1 535.9L564.6 536L566.1 536L567.6 536.1L569.1 536.1L570.6 536.2L572.1 536.2L573.6 536.2L575 536.3L576.5 536.3L578 536.4L579.5 536.4L581 536.4L582.5 536.5L584 536.5L585.5 536.5L586.9 536.6L588.4 536.6L589.9 536.6L591.4 536.7L592.9 536.7L594.4 536.7L595.9 536.7L597.4 536.8L598.8 536.8L600.3 536.8L601.8 536.8L603.3 536.9L604.8 536.9L606.3 536.9L607.8 536.9L607.9 536.9" stroke="#0606cd" stroke-width="1.7" fill="none" stroke-linejoin="round" stroke-dasharray="8.4 6.9"/>
<path d="M72.2 537.4L73.7 537.4L75.2 537.4L76.7 537.4L78.2 537.4L79.7 537.4L81.2 537.3L82.6 537.3L84.1 537.3L85.6 537.3L87.1 537.3L88.6 537.2L90.1 537.2L91.6 537.2L93.1 537.1L94.5 537.1L96 537.1L97.5 537L99 537L100.5 536.9L102 536.9L103.5 536.8L105 536.8L106.4 536.7L107.9 536.7L109.4 536.6L110.9 536.5L112.4 536.5L113.9 536.4L115.4 536.3L116.9 536.3L118.3 536.2L119.8 536.1L121.3 536.1L122.8 536L124.3 535.9L125.8 535.8L127.3 535.8L128.8 535.7L130.2 535.6L131.7 535.5L133.2 535.5L134.7 535.4L136.2 535.3L137.7 535.2L139.2 535.1L140.7 535L142.1 535L143.6 534.9L145.1 534.8L146.6 534.7L148.1 534.6L149.6 534.5L151.1 534.4L152.6 534.3L154 534.3L155.5 534.2L157 534.1L158.5 534L160 533.9L161.5 533.8L163 533.6L164.5 533.5L166 533.4L167.4 533.3L168.9 533.1L170.4 533L171.9 532.8L173.4 532.7L174.9 532.5L176.4 532.3L177.9 532.2L179.3 532L180.8 531.8L182.3 531.7L183.8 531.5L185.3 531.3L186.8 531.1L188.3 530.9L189.8 530.7L191.2 530.5L192.7 530.3L194.2 530.1L195.7 529.9L197.2 529.7L198.7 529.5L200.2 529.3L201.7 529.1L203.1 528.9L204.6 528.7L206.1 528.5L207.6 528.3L209.1 528.1L210.6 527.9L212.1 527.7L213.6 527.5L215 527.3L216.5 527.1L218 526.9L219.5 526.7L221 526.5L222.5 526.2L224 526L225.5 525.8L226.9 525.6L228.4 525.4L229.9 525.2L231.4 524.9L232.9 524.7L234.4 524.4L235.9 524.2L237.4 523.9L238.8 523.7L240.3 523.4L241.8 523.1L243.3 522.8L244.8 522.5L246.3 522.2L247.8 521.9L249.3 521.5L250.7 521.2L252.2 520.8L253.7 520.4L255.2 520L256.7 519.7L258.2 519.3L259.7 518.9L261.2 518.5L262.6 518.1L264.1 517.7L265.6 517.4L267.1 517L268.6 516.6L270.1 516.3L271.6 515.9L273.1 515.5L274.5 515.2L276 514.8L277.5 514.4L279 514L280.5 513.6L282 513.3L283.5 512.9L285 512.5L286.4 512.2L287.9 511.9L289.4 511.6L290.9 511.3L292.4 511L293.9 510.7L295.4 510.5L296.9 510.2L298.3 510L299.8 509.8L301.3 509.5L302.8 509.3L304.3 509.1L305.8 508.9L307.3 508.7L308.8 508.5L310.2 508.3L311.7 508.1L313.2 508L314.7 507.8L316.2 507.7L317.7 507.5L319.2 507.4L320.7 507.3L322.1 507.2L323.6 507.2L325.1 507.1L326.6 507L328.1 506.9L329.6 506.8L331.1 506.8L332.6 506.7L334 506.6L335.5 506.6L337 506.5L338.5 506.5L340 506.4L341.5 506.4L343 506.3L344.5 506.3L346 506.3L347.4 506.3L348.9 506.3L350.4 506.3L351.9 506.3L353.4 506.3L354.9 506.3L356.4 506.4L357.9 506.4L359.3 506.4L360.8 506.4L362.3 506.5L363.8 506.5L365.3 506.5L366.8 506.6L368.3 506.6L369.8 506.7L371.2 506.7L372.7 506.8L374.2 506.8L375.7 506.9L377.2 506.9L378.7 507L380.2 507.1L381.7 507.2L383.1 507.4L384.6 507.5L386.1 507.6L387.6 507.8L389.1 508L390.6 508.1L392.1 508.3L393.6 508.5L395 508.6L396.5 508.8L398 509L399.5 509.2L401 509.5L402.5 509.7L404 510L405.5 510.2L406.9 510.5L408.4 510.8L409.9 511.1L411.4 511.4L412.9 511.7L414.4 512L415.9 512.4L417.4 512.7L418.8 513L420.3 513.4L421.8 513.7L423.3 514.1L424.8 514.4L426.3 514.7L427.8 515.1L429.3 515.4L430.7 515.8L432.2 516.2L433.7 516.5L435.2 516.9L436.7 517.3L438.2 517.8L439.7 518.2L441.2 518.6L442.6 519L444.1 519.4L445.6 519.9L447.1 520.3L448.6 520.7L450.1 521.1L451.6 521.5L453.1 521.9L454.5 522.3L456 522.7L457.5 523.1L459 523.5L460.5 523.9L462 524.3L463.5 524.7L465 525.1L466.4 525.5L467.9 525.9L469.4 526.3L470.9 526.6L472.4 527L473.9 527.4L475.4 527.7L476.9 528.1L478.3 528.4L479.8 528.7L481.3 529L482.8 529.2L484.3 529.5L485.8 529.8L487.3 530L488.8 530.3L490.2 530.5L491.7 530.7L493.2 531L494.7 531.2L496.2 531.4L497.7 531.6L499.2 531.8L500.7 532L502.1 532.2L503.6 532.4L505.1 532.5L506.6 532.7L508.1 532.8L509.6 532.9L511.1 533.1L512.6 533.2L514 533.3L515.5 533.4L517 533.5L518.5 533.6L520 533.7L521.5 533.8L523 533.9L524.5 534L526 534.1L527.4 534.2L528.9 534.3L530.4 534.4L531.9 534.5L533.4 534.6L534.9 534.6L536.4 534.7L537.9 534.8L539.3 534.8L540.8 534.9L542.3 535L543.8 535L545.3 535.1L546.8 535.2L548.3 535.2L549.8 535.3L551.2 535.3L552.7 535.4L554.2 535.4L555.7 535.5L557.2 535.5L558.7 535.6L560.2 535.6L561.7 535.7L563.1 535.7L564.6 535.8L566.1 535.8L567.6 535.9L569.1 535.9L570.6 536L572.1 536L573.6 536.1L575 536.1L576.5 536.2L578 536.2L579.5 536.2L581 536.3L582.5 536.3L584 536.3L585.5 536.4L586.9 536.4L588.4 536.4L589.9 536.5L591.4 536.5L592.9 536.5L594.4 536.6L595.9 536.6L597.4 536.6L598.8 536.6L600.3 536.6L601.8 536.7L603.3 536.7L604.8 536.7L606.3 536.7L607.8 536.7L607.9 536.7" stroke="#3cd53c" stroke-width="1.7" fill="none" stroke-linejoin="round"/>
<path d="M72.2 538L73.7 538L75.2 538L76.7 538L78.2 538L79.7 538L81.2 538L82.6 538L84.1 538L85.6 538L87.1 538L88.6 538L90.1 538L91.6 538L93.1 538L94.5 538L96 538L97.5 538L99 538L100.5 538L102 538L103.5 538L105 538L106.4 538L107.9 538L109.4 538L110.9 538L112.4 538L113.9 538L115.4 538L116.9 538L118.3 537.9L119.8 537.9L121.3 537.9L122.8 537.9L124.3 537.9L125.8 537.9L127.3 537.9L128.8 537.9L130.2 537.9L131.7 537.9L133.2 537.9L134.7 537.9L136.2 537.9L137.7 537.9L139.2 537.9L140.7 537.9L142.1 537.9L143.6 537.9L145.1 537.9L146.6 537.9L148.1 537.8L149.6 537.8L151.1 537.8L152.6 537.8L154 537.8L155.5 537.8L157 537.8L158.5 537.8L160 537.8L161.5 537.8L163 537.8L164.5 537.8L166 537.7L167.4 537.7L168.9 537.7L170.4 537.7L171.9 537.7L173.4 537.7L174.9 537.7L176.4 537.7L177.9 537.7L179.3 537.7L180.8 537.6L182.3 537.6L183.8 537.6L185.3 537.6L186.8 537.6L188.3 537.6L189.8 537.6L191.2 537.6L192.7 537.6L194.2 537.5L195.7 537.5L197.2 537.5L198.7 537.5L200.2 537.5L201.7 537.5L203.1 537.5L204.6 537.4L206.1 537.4L207.6 537.4L209.1 537.4L210.6 537.4L212.1 537.4L213.6 537.3L215 537.3L216.5 537.3L218 537.3L219.5 537.3L221 537.3L222.5 537.2L224 537.2L225.5 537.2L226.9 537.2L228.4 537.2L229.9 537.2L231.4 537.1L232.9 537.1L234.4 537.1L235.9 537.1L237.4 537.1L238.8 537L240.3 537L241.8 537L243.3 537L244.8 536.9L246.3 536.9L247.8 536.9L249.3 536.9L250.7 536.8L252.2 536.7L253.7 536.6L255.2 536.5L256.7 536.4L258.2 536.2L259.7 536.1L261.2 535.9L262.6 535.7L264.1 535.5L265.6 535.3L267.1 535.1L268.6 534.9L270.1 534.7L271.6 534.5L273.1 534.3L274.5 534.1L276 533.9L277.5 533.7L279 533.5L280.5 533.2L282 533L283.5 532.7L285 532.5L286.4 532.2L287.9 531.9L289.4 531.7L290.9 531.4L292.4 531.1L293.9 530.8L295.4 530.4L296.9 530.1L298.3 529.8L299.8 529.4L301.3 529L302.8 528.6L304.3 528.2L305.8 527.8L307.3 527.4L308.8 526.9L310.2 526.5L311.7 526.1L313.2 525.6L314.7 525.2L316.2 524.7L317.7 524.2L319.2 523.8L320.7 523.3L322.1 522.9L323.6 522.4L325.1 521.9L326.6 521.4L328.1 520.8L329.6 520.3L331.1 519.7L332.6 519L334 518.3L335.5 517.5L337 516.7L338.5 515.9L340 515.1L341.5 514.2L343 513.4L344.5 512.6L346 511.8L347.4 511L348.9 510.2L350.4 509.4L351.9 508.5L353.4 507.7L354.9 507L356.4 506.2L357.9 505.4L359.3 504.7L360.8 504L362.3 503.4L363.8 502.7L365.3 502.1L366.8 501.5L368.3 500.8L369.8 500.2L371.2 499.5L372.7 498.8L374.2 498L375.7 497.2L377.2 496.4L378.7 495.5L380.2 494.7L381.7 493.9L383.1 493.1L384.6 492.3L386.1 491.6L387.6 490.9L389.1 490.3L390.6 489.6L392.1 489L393.6 488.4L395 487.8L396.5 487.2L398 486.8L399.5 486.3L401 486L402.5 485.8L404 485.5L405.5 485.3L406.9 485.1L408.4 484.9L409.9 484.8L411.4 484.6L412.9 484.5L414.4 484.4L415.9 484.3L417.4 484.3L418.8 484.3L420.3 484.3L421.8 484.3L423.3 484.4L424.8 484.4L426.3 484.4L427.8 484.5L429.3 484.6L430.7 484.6L432.2 484.7L433.7 484.8L435.2 484.8L436.7 484.9L438.2 485.1L439.7 485.2L441.2 485.4L442.6 485.7L444.1 485.9L445.6 486.2L447.1 486.6L448.6 486.9L450.1 487.3L451.6 487.6L453.1 488L454.5 488.5L456 489L457.5 489.5L459 490.2L460.5 490.8L462 491.5L463.5 492.2L465 492.8L466.4 493.5L467.9 494.2L469.4 494.9L470.9 495.6L472.4 496.3L473.9 497.1L475.4 497.8L476.9 498.6L478.3 499.4L479.8 500.1L481.3 500.9L482.8 501.7L484.3 502.5L485.8 503.3L487.3 504L488.8 504.8L490.2 505.6L491.7 506.5L493.2 507.3L494.7 508.1L496.2 508.8L497.7 509.6L499.2 510.4L500.7 511.1L502.1 511.9L503.6 512.6L505.1 513.3L506.6 514L508.1 514.8L509.6 515.5L511.1 516.2L512.6 516.8L514 517.5L515.5 518.2L517 518.8L518.5 519.5L520 520.1L521.5 520.7L523 521.3L524.5 521.9L526 522.5L527.4 523.1L528.9 523.6L530.4 524.2L531.9 524.7L533.4 525.2L534.9 525.6L536.4 526.1L537.9 526.5L539.3 527L540.8 527.4L542.3 527.8L543.8 528.2L545.3 528.6L546.8 529L548.3 529.4L549.8 529.8L551.2 530.2L552.7 530.6L554.2 531L555.7 531.3L557.2 531.7L558.7 532L560.2 532.3L561.7 532.6L563.1 532.9L564.6 533.2L566.1 533.4L567.6 533.6L569.1 533.9L570.6 534.1L572.1 534.3L573.6 534.5L575 534.6L576.5 534.8L578 534.9L579.5 535.1L581 535.2L582.5 535.3L584 535.4L585.5 535.5L586.9 535.7L588.4 535.8L589.9 535.9L591.4 536L592.9 536.1L594.4 536.2L595.9 536.2L597.4 536.3L598.8 536.4L600.3 536.4L601.8 536.5L603.3 536.5L604.8 536.6L606.3 536.6L607.8 536.6L607.9 536.6" stroke="#de17de" stroke-width="1.7" fill="none" stroke-linejoin="round" stroke-dasharray="8.4 6.9"/>
<path d="M72.2 537.9L73.7 537.9L75.2 537.9L76.7 537.9L78.2 537.9L79.7 537.9L81.2 537.9L82.6 537.9L84.1 537.9L85.6 537.9L87.1 537.9L88.6 537.9L90.1 537.9L91.6 537.9L93.1 537.9L94.5 537.9L96 537.9L97.5 537.9L99 537.9L100.5 537.9L102 537.9L103.5 537.9L105 537.9L106.4 537.9L107.9 537.9L109.4 537.9L110.9 537.9L112.4 537.9L113.9 537.9L115.4 537.9L116.9 537.9L118.3 537.9L119.8 537.9L121.3 537.9L122.8 537.9L124.3 537.9L125.8 537.9L127.3 537.9L128.8 537.9L130.2 537.9L131.7 537.9L133.2 537.9L134.7 537.9L136.2 537.9L137.7 537.9L139.2 537.9L140.7 537.9L142.1 537.9L143.6 537.9L145.1 537.9L146.6 537.9L148.1 537.9L149.6 537.8L151.1 537.8L152.6 537.8L154 537.8L155.5 537.8L157 537.8L158.5 537.8L160 537.8L161.5 537.8L163 537.8L164.5 537.8L166 537.8L167.4 537.8L168.9 537.8L170.4 537.8L171.9 537.8L173.4 537.8L174.9 537.8L176.4 537.8L177.9 537.8L179.3 537.8L180.8 537.8L182.3 537.8L183.8 537.8L185.3 537.8L186.8 537.8L188.3 537.8L189.8 537.8L191.2 537.8L192.7 537.8L194.2 537.8L195.7 537.8L197.2 537.8L198.7 537.7L200.2 537.7L201.7 537.7L203.1 537.7L204.6 537.7L206.1 537.7L207.6 537.7L209.1 537.7L210.6 537.7L212.1 537.7L213.6 537.7L215 537.7L216.5 537.7L218 537.7L219.5 537.7L221 537.7L222.5 537.6L224 537.6L225.5 537.6L226.9 537.6L228.4 537.6L229.9 537.5L231.4 537.5L232.9 537.5L234.4 537.5L235.9 537.4L237.4 537.4L238.8 537.3L240.3 537.3L241.8 537.3L243.3 537.2L244.8 537.2L246.3 537.1L247.8 537.1L249.3 537.1L250.7 537L252.2 536.9L253.7 536.9L255.2 536.8L256.7 536.7L258.2 536.6L259.7 536.5L261.2 536.4L262.6 536.3L264.1 536.2L265.6 536L267.1 535.9L268.6 535.7L270.1 535.5L271.6 535.3L273.1 535L274.5 534.6L276 534.1L277.5 533.5L279 532.9L280.5 532.2L282 531.5L283.5 530.8L285 530.1L286.4 529.2L287.9 528.3L289.4 527.3L290.9 526.2L292.4 525.1L293.9 523.8L295.4 522.4L296.9 520.8L298.3 519.1L299.8 517.1L301.3 515L302.8 512.7L304.3 509.8L305.8 506.6L307.3 503.2L308.8 499.8L310.2 496.6L311.7 493.5L313.2 490.4L314.7 487.1L316.2 483.7L317.7 480.1L319.2 476.3L320.7 472.2L322.1 467.8L323.6 463L325.1 457.8L326.6 452.1L328.1 445.6L329.6 439.3L331.1 433.8L332.6 428.7L334 423.8L335.5 419L337 413.8L338.5 408.2L340 402.1L341.5 395.9L343 389.8L344.5 384.2L346 379.1L347.4 374.2L348.9 369.6L350.4 365.4L351.9 361.6L353.4 357.7L354.9 354.1L356.4 351.1L357.9 349.3L359.3 347.8L360.8 346.6L362.3 345.8L363.8 345.5L365.3 345.8L366.8 346.5L368.3 347.4L369.8 348.3L371.2 348.9L372.7 349.7L374.2 350.3L375.7 350.9L377.2 351.2L378.7 351.1L380.2 350.9L381.7 350.4L383.1 349.9L384.6 349.3L386.1 348.7L387.6 348.2L389.1 347.6L390.6 346.9L392.1 346.3L393.6 345.8L395 345.5L396.5 345.6L398 346.4L399.5 347.7L401 349.4L402.5 351.2L404 353.3L405.5 356.2L406.9 359.8L408.4 363.9L409.9 368.2L411.4 372.6L412.9 377.7L414.4 383.2L415.9 388.9L417.4 394.5L418.8 400.2L420.3 406.1L421.8 411.9L423.3 417.7L424.8 423.3L426.3 428.9L427.8 434.7L429.3 440.8L430.7 447.4L432.2 453.8L433.7 459.5L435.2 464.6L436.7 469.4L438.2 474L439.7 478.2L441.2 482.2L442.6 485.8L444.1 489.4L445.6 492.7L447.1 495.9L448.6 498.9L450.1 501.7L451.6 504.4L453.1 506.9L454.5 509.2L456 511.4L457.5 513.6L459 515.5L460.5 517.4L462 519.1L463.5 520.7L465 522.2L466.4 523.6L467.9 525L469.4 526.2L470.9 527.4L472.4 528.4L473.9 529.2L475.4 530.1L476.9 530.8L478.3 531.6L479.8 532.3L481.3 532.9L482.8 533.4L484.3 533.9L485.8 534.3L487.3 534.6L488.8 534.8L490.2 535.1L491.7 535.3L493.2 535.5L494.7 535.7L496.2 535.9L497.7 536.1L499.2 536.2L500.7 536.3L502.1 536.5L503.6 536.6L505.1 536.7L506.6 536.7L508.1 536.8L509.6 536.9L511.1 536.9L512.6 537L514 537L515.5 537.1L517 537.1L518.5 537.2L520 537.2L521.5 537.3L523 537.3L524.5 537.3L526 537.4L527.4 537.4L528.9 537.4L530.4 537.5L531.9 537.5L533.4 537.5L534.9 537.6L536.4 537.6L537.9 537.6L539.3 537.6L540.8 537.6L542.3 537.7L543.8 537.7L545.3 537.7L546.8 537.7L548.3 537.7L549.8 537.7L551.2 537.7L552.7 537.7L554.2 537.7L555.7 537.7L557.2 537.8L558.7 537.8L560.2 537.8L561.7 537.8L563.1 537.8L564.6 537.8L566.1 537.8L567.6 537.8L569.1 537.8L570.6 537.8L572.1 537.8L573.6 537.8L575 537.8L576.5 537.8L578 537.8L579.5 537.9L581 537.9L582.5 537.9L584 537.9L585.5 537.9L586.9 537.9L588.4 537.9L589.9 537.9L591.4 537.9L592.9 537.9L594.4 537.9L595.9 537.9L597.4 537.9L598.8 537.9L600.3 537.9L601.8 537.9L603.3 537.9L604.8 537.9L606.3 537.9L607.8 537.9L607.9 537.9" stroke="#32eaea" stroke-width="1.7" fill="none" stroke-linejoin="round"/>
<path d="M72.2 537.7L73.7 537.7L75.2 537.7L76.7 537.7L78.2 537.7L79.7 537.7L81.2 537.7L82.6 537.7L84.1 537.7L85.6 537.7L87.1 537.7L88.6 537.7L90.1 537.7L91.6 537.7L93.1 537.7L94.5 537.7L96 537.7L97.5 537.7L99 537.7L100.5 537.7L102 537.7L103.5 537.7L105 537.7L106.4 537.7L107.9 537.7L109.4 537.7L110.9 537.7L112.4 537.6L113.9 537.6L115.4 537.6L116.9 537.6L118.3 537.6L119.8 537.6L121.3 537.6L122.8 537.6L124.3 537.6L125.8 537.6L127.3 537.6L128.8 537.6L130.2 537.6L131.7 537.6L133.2 537.6L134.7 537.6L136.2 537.6L137.7 537.6L139.2 537.5L140.7 537.5L142.1 537.5L143.6 537.5L145.1 537.5L146.6 537.5L148.1 537.5L149.6 537.5L151.1 537.5L152.6 537.5L154 537.5L155.5 537.5L157 537.4L158.5 537.4L160 537.4L161.5 537.4L163 537.4L164.5 537.4L166 537.4L167.4 537.4L168.9 537.4L170.4 537.3L171.9 537.3L173.4 537.3L174.9 537.3L176.4 537.3L177.9 537.3L179.3 537.3L180.8 537.3L182.3 537.2L183.8 537.2L185.3 537.2L186.8 537.2L188.3 537.2L189.8 537.2L191.2 537.2L192.7 537.1L194.2 537.1L195.7 537.1L197.2 537.1L198.7 537.1L200.2 537.1L201.7 537.1L203.1 537L204.6 537L206.1 537L207.6 537L209.1 537L210.6 537L212.1 536.9L213.6 536.9L215 536.9L216.5 536.9L218 536.8L219.5 536.8L221 536.8L222.5 536.7L224 536.6L225.5 536.6L226.9 536.5L228.4 536.4L229.9 536.3L231.4 536.2L232.9 536.1L234.4 536L235.9 535.9L237.4 535.8L238.8 535.7L240.3 535.6L241.8 535.4L243.3 535.3L244.8 535.2L246.3 535L247.8 534.9L249.3 534.7L250.7 534.6L252.2 534.4L253.7 534.2L255.2 534L256.7 533.7L258.2 533.5L259.7 533.2L261.2 532.9L262.6 532.6L264.1 532.3L265.6 531.9L267.1 531.5L268.6 531.1L270.1 530.7L271.6 530.3L273.1 529.8L274.5 529.3L276 528.7L277.5 528L279 527.2L280.5 526.3L282 525.3L283.5 524.3L285 523.2L286.4 522.1L287.9 520.9L289.4 519.6L290.9 518.1L292.4 516.6L293.9 514.9L295.4 513L296.9 511.1L298.3 509L299.8 506.8L301.3 504.1L302.8 501.1L304.3 498.1L305.8 495L307.3 491.9L308.8 488.8L310.2 485.6L311.7 482.4L313.2 479.2L314.7 476.2L316.2 473.2L317.7 470.1L319.2 466.6L320.7 462.6L322.1 458L323.6 453.3L325.1 448.8L326.6 444.7L328.1 440.7L329.6 436.8L331.1 432.7L332.6 428.5L334 424.1L335.5 419.8L337 415.7L338.5 411.9L340 408.6L341.5 405.6L343 402.8L344.5 400.3L346 398.2L347.4 396.1L348.9 394.2L350.4 392.4L351.9 391.2L353.4 390.7L354.9 390.5L356.4 390.3L357.9 390.2L359.3 390.1L360.8 390.1L362.3 390.1L363.8 390.3L365.3 390.6L366.8 391.1L368.3 391.6L369.8 392L371.2 392.4L372.7 392.7L374.2 392.9L375.7 392.9L377.2 392.8L378.7 392.6L380.2 392.3L381.7 392L383.1 391.7L384.6 391.3L386.1 391L387.6 390.6L389.1 390.1L390.6 389.5L392.1 389L393.6 388.8L395 389.1L396.5 389.7L398 390.8L399.5 392.1L401 393.5L402.5 394.9L404 396.9L405.5 399.3L406.9 402L408.4 404.8L409.9 407.8L411.4 411L412.9 414.4L414.4 417.9L415.9 421.3L417.4 424.8L418.8 428.4L420.3 432.2L421.8 436.1L423.3 440.2L424.8 444.4L426.3 448.6L427.8 452.7L429.3 456.8L430.7 460.9L432.2 464.9L433.7 468.8L435.2 472.6L436.7 476.2L438.2 479.6L439.7 483L441.2 486.3L442.6 489.5L444.1 492.6L445.6 495.4L447.1 498.1L448.6 500.6L450.1 503L451.6 505.3L453.1 507.5L454.5 509.6L456 511.6L457.5 513.5L459 515.3L460.5 517.1L462 518.9L463.5 520.5L465 522.1L466.4 523.4L467.9 524.7L469.4 525.8L470.9 526.8L472.4 527.9L473.9 528.8L475.4 529.7L476.9 530.5L478.3 531.2L479.8 531.8L481.3 532.3L482.8 532.7L484.3 533.1L485.8 533.4L487.3 533.7L488.8 534.1L490.2 534.3L491.7 534.6L493.2 534.8L494.7 535L496.2 535.2L497.7 535.4L499.2 535.5L500.7 535.7L502.1 535.8L503.6 535.9L505.1 536L506.6 536.1L508.1 536.2L509.6 536.3L511.1 536.4L512.6 536.4L514 536.5L515.5 536.6L517 536.7L518.5 536.7L520 536.8L521.5 536.9L523 536.9L524.5 537L526 537L527.4 537.1L528.9 537.1L530.4 537.1L531.9 537.2L533.4 537.2L534.9 537.2L536.4 537.2L537.9 537.2L539.3 537.3L540.8 537.3L542.3 537.3L543.8 537.3L545.3 537.3L546.8 537.3L548.3 537.3L549.8 537.3L551.2 537.4L552.7 537.4L554.2 537.4L555.7 537.4L557.2 537.4L558.7 537.4L560.2 537.4L561.7 537.4L563.1 537.4L564.6 537.5L566.1 537.5L567.6 537.5L569.1 537.5L570.6 537.5L572.1 537.5L573.6 537.5L575 537.5L576.5 537.5L578 537.5L579.5 537.5L581 537.5L582.5 537.6L584 537.6L585.5 537.6L586.9 537.6L588.4 537.6L589.9 537.6L591.4 537.6L592.9 537.6L594.4 537.6L595.9 537.6L597.4 537.6L598.8 537.6L600.3 537.6L601.8 537.6L603.3 537.6L604.8 537.6L606.3 537.6L607.8 537.6L607.9 537.6" stroke="#030367" stroke-width="1.7" fill="none" stroke-linejoin="round" stroke-dasharray="8.4 6.9"/>
<path d="M72.2 537.9L73.7 537.9L75.2 537.9L76.7 537.9L78.2 537.9L79.7 537.9L81.2 537.9L82.6 537.9L84.1 537.9L85.6 537.9L87.1 537.9L88.6 537.9L90.1 537.9L91.6 537.9L93.1 537.9L94.5 537.9L96 537.9L97.5 537.9L99 537.9L100.5 537.9L102 537.9L103.5 537.9L105 537.9L106.4 537.9L107.9 537.9L109.4 537.9L110.9 537.8L112.4 537.8L113.9 537.8L115.4 537.8L116.9 537.8L118.3 537.8L119.8 537.8L121.3 537.8L122.8 537.8L124.3 537.8L125.8 537.8L127.3 537.8L128.8 537.8L130.2 537.8L131.7 537.8L133.2 537.8L134.7 537.8L136.2 537.8L137.7 537.8L139.2 537.7L140.7 537.7L142.1 537.7L143.6 537.7L145.1 537.7L146.6 537.7L148.1 537.7L149.6 537.7L151.1 537.7L152.6 537.7L154 537.7L155.5 537.7L157 537.7L158.5 537.6L160 537.6L161.5 537.6L163 537.6L164.5 537.6L166 537.6L167.4 537.6L168.9 537.6L170.4 537.6L171.9 537.6L173.4 537.6L174.9 537.5L176.4 537.5L177.9 537.5L179.3 537.5L180.8 537.5L182.3 537.5L183.8 537.5L185.3 537.5L186.8 537.5L188.3 537.4L189.8 537.4L191.2 537.4L192.7 537.4L194.2 537.4L195.7 537.4L197.2 537.4L198.7 537.4L200.2 537.3L201.7 537.3L203.1 537.3L204.6 537.3L206.1 537.3L207.6 537.3L209.1 537.3L210.6 537.2L212.1 537.2L213.6 537.2L215 537.2L216.5 537.2L218 537.2L219.5 537.1L221 537.1L222.5 537.1L224 537.1L225.5 537L226.9 537L228.4 536.9L229.9 536.9L231.4 536.8L232.9 536.8L234.4 536.7L235.9 536.7L237.4 536.6L238.8 536.6L240.3 536.5L241.8 536.5L243.3 536.4L244.8 536.3L246.3 536.3L247.8 536.2L249.3 536.1L250.7 536.1L252.2 536L253.7 535.9L255.2 535.8L256.7 535.6L258.2 535.5L259.7 535.4L261.2 535.3L262.6 535.1L264.1 535L265.6 534.8L267.1 534.6L268.6 534.5L270.1 534.3L271.6 534.1L273.1 533.9L274.5 533.6L276 533.4L277.5 533.1L279 532.9L280.5 532.6L282 532.3L283.5 532L285 531.6L286.4 531.2L287.9 530.8L289.4 530.3L290.9 529.8L292.4 529.3L293.9 528.8L295.4 528.2L296.9 527.7L298.3 527.1L299.8 526.5L301.3 525.8L302.8 525.1L304.3 524.4L305.8 523.7L307.3 522.9L308.8 522.1L310.2 521.2L311.7 520.3L313.2 519.4L314.7 518.4L316.2 517.4L317.7 516.3L319.2 515.1L320.7 513.8L322.1 512.4L323.6 511L325.1 509.6L326.6 508.1L328.1 506.7L329.6 505.2L331.1 503.7L332.6 502.2L334 500.6L335.5 499L337 497.3L338.5 495.7L340 494.1L341.5 492.5L343 491L344.5 489.5L346 487.9L347.4 486.4L348.9 484.9L350.4 483.5L351.9 482L353.4 480.6L354.9 479.2L356.4 477.8L357.9 476.5L359.3 475.1L360.8 473.7L362.3 472.4L363.8 471.1L365.3 469.8L366.8 468.6L368.3 467.5L369.8 466.5L371.2 465.6L372.7 464.7L374.2 463.9L375.7 463.1L377.2 462.4L378.7 461.7L380.2 461.2L381.7 460.7L383.1 460.2L384.6 459.8L386.1 459.5L387.6 459.3L389.1 459.2L390.6 459.1L392.1 459.1L393.6 459L395 459L396.5 458.9L398 458.9L399.5 458.9L401 458.9L402.5 458.9L404 458.9L405.5 458.9L406.9 458.9L408.4 458.9L409.9 458.9L411.4 458.9L412.9 458.9L414.4 458.9L415.9 458.9L417.4 458.9L418.8 458.8L420.3 458.7L421.8 458.7L423.3 458.6L424.8 458.5L426.3 458.4L427.8 458.3L429.3 458.2L430.7 458.1L432.2 458.1L433.7 458.1L435.2 458.2L436.7 458.4L438.2 458.6L439.7 459L441.2 459.4L442.6 459.9L444.1 460.4L445.6 460.9L447.1 461.4L448.6 462.1L450.1 462.9L451.6 463.8L453.1 464.9L454.5 466L456 467.2L457.5 468.5L459 469.8L460.5 471.1L462 472.6L463.5 474.2L465 476L466.4 477.8L467.9 479.8L469.4 481.7L470.9 483.6L472.4 485.5L473.9 487.4L475.4 489.1L476.9 490.7L478.3 492.2L479.8 493.8L481.3 495.3L482.8 496.8L484.3 498.2L485.8 499.7L487.3 501L488.8 502.4L490.2 503.6L491.7 504.9L493.2 506.1L494.7 507.3L496.2 508.4L497.7 509.5L499.2 510.6L500.7 511.6L502.1 512.6L503.6 513.6L505.1 514.6L506.6 515.5L508.1 516.4L509.6 517.3L511.1 518.1L512.6 518.9L514 519.8L515.5 520.5L517 521.3L518.5 522L520 522.8L521.5 523.5L523 524.2L524.5 524.9L526 525.6L527.4 526.3L528.9 527L530.4 527.6L531.9 528.2L533.4 528.8L534.9 529.3L536.4 529.9L537.9 530.4L539.3 530.8L540.8 531.3L542.3 531.7L543.8 532.1L545.3 532.5L546.8 532.8L548.3 533.1L549.8 533.5L551.2 533.8L552.7 534L554.2 534.3L555.7 534.6L557.2 534.8L558.7 535L560.2 535.2L561.7 535.4L563.1 535.5L564.6 535.7L566.1 535.8L567.6 535.9L569.1 536.1L570.6 536.2L572.1 536.3L573.6 536.4L575 536.4L576.5 536.5L578 536.6L579.5 536.6L581 536.7L582.5 536.7L584 536.8L585.5 536.8L586.9 536.9L588.4 536.9L589.9 536.9L591.4 537L592.9 537L594.4 537L595.9 537.1L597.4 537.1L598.8 537.1L600.3 537.1L601.8 537.2L603.3 537.2L604.8 537.2L606.3 537.2L607.8 537.2L607.9 537.2" stroke="#0d5b0d" stroke-width="1.7" fill="none" stroke-linejoin="round"/>
<path d="M72.2 537.9L73.7 537.9L75.2 537.9L76.7 537.9L78.2 537.9L79.7 537.9L81.2 537.9L82.6 537.9L84.1 537.9L85.6 537.9L87.1 537.9L88.6 537.9L90.1 537.9L91.6 537.9L93.1 537.9L94.5 537.9L96 537.9L97.5 537.9L99 537.9L100.5 537.9L102 537.9L103.5 537.9L105 537.9L106.4 537.8L107.9 537.8L109.4 537.8L110.9 537.8L112.4 537.8L113.9 537.8L115.4 537.8L116.9 537.8L118.3 537.8L119.8 537.8L121.3 537.8L122.8 537.8L124.3 537.8L125.8 537.8L127.3 537.8L128.8 537.8L130.2 537.7L131.7 537.7L133.2 537.7L134.7 537.7L136.2 537.7L137.7 537.7L139.2 537.7L140.7 537.7L142.1 537.7L143.6 537.7L145.1 537.7L146.6 537.6L148.1 537.6L149.6 537.6L151.1 537.6L152.6 537.6L154 537.6L155.5 537.6L157 537.6L158.5 537.5L160 537.5L161.5 537.5L163 537.5L164.5 537.5L166 537.5L167.4 537.5L168.9 537.5L170.4 537.4L171.9 537.4L173.4 537.4L174.9 537.4L176.4 537.4L177.9 537.4L179.3 537.3L180.8 537.3L182.3 537.3L183.8 537.3L185.3 537.3L186.8 537.3L188.3 537.2L189.8 537.2L191.2 537.2L192.7 537.2L194.2 537.2L195.7 537.2L197.2 537.1L198.7 537.1L200.2 537.1L201.7 537.1L203.1 537.1L204.6 537L206.1 537L207.6 537L209.1 537L210.6 537L212.1 536.9L213.6 536.9L215 536.9L216.5 536.9L218 536.8L219.5 536.8L221 536.8L222.5 536.7L224 536.6L225.5 536.6L226.9 536.5L228.4 536.4L229.9 536.4L231.4 536.3L232.9 536.2L234.4 536.1L235.9 536L237.4 535.9L238.8 535.8L240.3 535.7L241.8 535.6L243.3 535.5L244.8 535.4L246.3 535.3L247.8 535.2L249.3 535.1L250.7 535L252.2 534.9L253.7 534.7L255.2 534.6L256.7 534.5L258.2 534.3L259.7 534.2L261.2 534L262.6 533.8L264.1 533.7L265.6 533.5L267.1 533.2L268.6 533L270.1 532.7L271.6 532.4L273.1 532.1L274.5 531.7L276 531.3L277.5 530.9L279 530.4L280.5 529.9L282 529.4L283.5 528.8L285 528.2L286.4 527.6L287.9 527L289.4 526.4L290.9 525.7L292.4 525L293.9 524.3L295.4 523.6L296.9 522.8L298.3 521.9L299.8 520.9L301.3 519.8L302.8 518.7L304.3 517.5L305.8 516.3L307.3 515.1L308.8 513.9L310.2 512.6L311.7 511.4L313.2 510.2L314.7 508.9L316.2 507.7L317.7 506.4L319.2 505.1L320.7 503.7L322.1 502.4L323.6 501L325.1 499.6L326.6 498.2L328.1 496.8L329.6 495.4L331.1 494L332.6 492.5L334 491L335.5 489.4L337 487.9L338.5 486.5L340 485L341.5 483.7L343 482.5L344.5 481.3L346 480.1L347.4 478.9L348.9 477.9L350.4 476.8L351.9 475.8L353.4 474.8L354.9 473.9L356.4 473L357.9 472.1L359.3 471.2L360.8 470.3L362.3 469.5L363.8 468.7L365.3 468L366.8 467.5L368.3 467L369.8 466.8L371.2 466.5L372.7 466.3L374.2 466L375.7 465.8L377.2 465.7L378.7 465.5L380.2 465.3L381.7 465.2L383.1 465.1L384.6 465.1L386.1 465L387.6 465L389.1 465L390.6 465L392.1 465L393.6 465.1L395 465.1L396.5 465.1L398 465.2L399.5 465.2L401 465.2L402.5 465.3L404 465.3L405.5 465.4L406.9 465.4L408.4 465.5L409.9 465.5L411.4 465.6L412.9 465.6L414.4 465.6L415.9 465.6L417.4 465.7L418.8 465.7L420.3 465.7L421.8 465.7L423.3 465.6L424.8 465.4L426.3 465.1L427.8 465L429.3 465L430.7 465.1L432.2 465.4L433.7 465.6L435.2 466L436.7 466.4L438.2 466.8L439.7 467.2L441.2 467.7L442.6 468.2L444.1 468.8L445.6 469.5L447.1 470.2L448.6 471L450.1 471.9L451.6 472.9L453.1 473.8L454.5 474.8L456 475.8L457.5 476.9L459 478.1L460.5 479.3L462 480.6L463.5 482L465 483.3L466.4 484.7L467.9 486L469.4 487.4L470.9 488.8L472.4 490.3L473.9 491.8L475.4 493.3L476.9 494.8L478.3 496.2L479.8 497.7L481.3 499.1L482.8 500.5L484.3 501.9L485.8 503.3L487.3 504.7L488.8 506.1L490.2 507.4L491.7 508.7L493.2 510L494.7 511.1L496.2 512.2L497.7 513.2L499.2 514.2L500.7 515.2L502.1 516.1L503.6 517.1L505.1 517.9L506.6 518.8L508.1 519.6L509.6 520.5L511.1 521.3L512.6 522.1L514 522.9L515.5 523.7L517 524.4L518.5 525.1L520 525.8L521.5 526.4L523 527L524.5 527.6L526 528.1L527.4 528.6L528.9 529L530.4 529.4L531.9 529.8L533.4 530.2L534.9 530.6L536.4 531.1L537.9 531.5L539.3 531.9L540.8 532.3L542.3 532.8L543.8 533.2L545.3 533.5L546.8 533.8L548.3 534.1L549.8 534.3L551.2 534.5L552.7 534.7L554.2 534.8L555.7 535L557.2 535.2L558.7 535.3L560.2 535.5L561.7 535.6L563.1 535.8L564.6 535.9L566.1 536L567.6 536.1L569.1 536.2L570.6 536.3L572.1 536.4L573.6 536.5L575 536.6L576.5 536.6L578 536.7L579.5 536.7L581 536.8L582.5 536.8L584 536.9L585.5 536.9L586.9 537L588.4 537L589.9 537.1L591.4 537.1L592.9 537.2L594.4 537.2L595.9 537.3L597.4 537.3L598.8 537.3L600.3 537.3L601.8 537.4L603.3 537.4L604.8 537.4L606.3 537.4L607.8 537.4L607.9 537.4" stroke="#790d79" stroke-width="1.7" fill="none" stroke-linejoin="round" stroke-dasharray="8.4 6.9"/>
<path d="M72.2 537.9L73.7 537.9L75.2 537.9L76.7 537.9L78.2 537.9L79.7 537.9L81.2 537.9L82.6 537.9L84.1 537.9L85.6 537.9L87.1 537.9L88.6 537.9L90.1 537.9L91.6 537.9L93.1 537.9L94.5 537.9L96 537.9L97.5 537.9L99 537.9L100.5 537.9L102 537.9L103.5 537.9L105 537.9L106.4 537.8L107.9 537.8L109.4 537.8L110.9 537.8L112.4 537.8L113.9 537.8L115.4 537.8L116.9 537.8L118.3 537.8L119.8 537.8L121.3 537.8L122.8 537.8L124.3 537.8L125.8 537.8L127.3 537.8L128.8 537.8L130.2 537.8L131.7 537.7L133.2 537.7L134.7 537.7L136.2 537.7L137.7 537.7L139.2 537.7L140.7 537.7L142.1 537.7L143.6 537.7L145.1 537.7L146.6 537.7L148.1 537.6L149.6 537.6L151.1 537.6L152.6 537.6L154 537.6L155.5 537.6L157 537.6L158.5 537.6L160 537.6L161.5 537.6L163 537.5L164.5 537.5L166 537.5L167.4 537.5L168.9 537.5L170.4 537.5L171.9 537.5L173.4 537.5L174.9 537.4L176.4 537.4L177.9 537.4L179.3 537.4L180.8 537.4L182.3 537.4L183.8 537.4L185.3 537.3L186.8 537.3L188.3 537.3L189.8 537.3L191.2 537.3L192.7 537.3L194.2 537.2L195.7 537.2L197.2 537.2L198.7 537.2L200.2 537.2L201.7 537.2L203.1 537.1L204.6 537.1L206.1 537.1L207.6 537L209.1 537L210.6 536.9L212.1 536.9L213.6 536.8L215 536.8L216.5 536.7L218 536.7L219.5 536.6L221 536.5L222.5 536.5L224 536.4L225.5 536.3L226.9 536.2L228.4 536.2L229.9 536.1L231.4 536L232.9 535.9L234.4 535.8L235.9 535.7L237.4 535.6L238.8 535.4L240.3 535.3L241.8 535.1L243.3 534.9L244.8 534.8L246.3 534.6L247.8 534.4L249.3 534.2L250.7 534L252.2 533.7L253.7 533.5L255.2 533.2L256.7 533L258.2 532.7L259.7 532.4L261.2 532.1L262.6 531.8L264.1 531.4L265.6 531.1L267.1 530.7L268.6 530.3L270.1 529.9L271.6 529.4L273.1 529L274.5 528.5L276 528L277.5 527.4L279 526.9L280.5 526.4L282 525.8L283.5 525.3L285 524.7L286.4 524.1L287.9 523.5L289.4 522.9L290.9 522.3L292.4 521.6L293.9 521L295.4 520.3L296.9 519.6L298.3 518.8L299.8 518.1L301.3 517.3L302.8 516.5L304.3 515.6L305.8 514.7L307.3 513.8L308.8 512.9L310.2 511.9L311.7 511L313.2 510L314.7 509L316.2 508.1L317.7 507.1L319.2 506.2L320.7 505.2L322.1 504.2L323.6 503.2L325.1 502.1L326.6 501.1L328.1 500.1L329.6 499.1L331.1 498.1L332.6 497L334 496L335.5 494.9L337 493.8L338.5 492.8L340 491.8L341.5 490.8L343 489.9L344.5 489L346 488.1L347.4 487.3L348.9 486.4L350.4 485.6L351.9 484.9L353.4 484.3L354.9 483.8L356.4 483.3L357.9 482.9L359.3 482.4L360.8 482.1L362.3 481.7L363.8 481.5L365.3 481.2L366.8 481.1L368.3 481L369.8 481L371.2 480.9L372.7 480.8L374.2 480.8L375.7 480.8L377.2 480.7L378.7 480.7L380.2 480.7L381.7 480.7L383.1 480.8L384.6 481L386.1 481.2L387.6 481.3L389.1 481.5L390.6 481.6L392.1 481.8L393.6 481.9L395 482L396.5 482.2L398 482.3L399.5 482.4L401 482.5L402.5 482.6L404 482.7L405.5 482.7L406.9 482.7L408.4 482.7L409.9 482.6L411.4 482.6L412.9 482.5L414.4 482.4L415.9 482.3L417.4 482.3L418.8 482.2L420.3 482.1L421.8 482L423.3 481.9L424.8 481.7L426.3 481.6L427.8 481.4L429.3 481.3L430.7 481.1L432.2 481L433.7 480.8L435.2 480.7L436.7 480.6L438.2 480.6L439.7 480.6L441.2 480.8L442.6 481L444.1 481.3L445.6 481.6L447.1 481.9L448.6 482.1L450.1 482.4L451.6 482.8L453.1 483.1L454.5 483.5L456 483.9L457.5 484.3L459 484.8L460.5 485.3L462 485.8L463.5 486.5L465 487.2L466.4 488L467.9 488.9L469.4 489.9L470.9 490.9L472.4 491.9L473.9 492.9L475.4 493.9L476.9 494.8L478.3 495.9L479.8 497L481.3 498.1L482.8 499.2L484.3 500.3L485.8 501.4L487.3 502.5L488.8 503.6L490.2 504.7L491.7 505.6L493.2 506.6L494.7 507.5L496.2 508.5L497.7 509.4L499.2 510.3L500.7 511.1L502.1 512L503.6 512.9L505.1 513.7L506.6 514.6L508.1 515.4L509.6 516.3L511.1 517.1L512.6 518L514 518.8L515.5 519.6L517 520.4L518.5 521.1L520 521.9L521.5 522.6L523 523.3L524.5 524L526 524.6L527.4 525.3L528.9 525.9L530.4 526.6L531.9 527.2L533.4 527.8L534.9 528.4L536.4 529L537.9 529.6L539.3 530.2L540.8 530.7L542.3 531.3L543.8 531.8L545.3 532.3L546.8 532.7L548.3 533.1L549.8 533.4L551.2 533.7L552.7 534L554.2 534.3L555.7 534.6L557.2 534.8L558.7 535L560.2 535.2L561.7 535.4L563.1 535.5L564.6 535.7L566.1 535.8L567.6 535.9L569.1 536.1L570.6 536.2L572.1 536.3L573.6 536.4L575 536.4L576.5 536.5L578 536.6L579.5 536.6L581 536.7L582.5 536.7L584 536.8L585.5 536.8L586.9 536.9L588.4 536.9L589.9 536.9L591.4 537L592.9 537L594.4 537L595.9 537.1L597.4 537.1L598.8 537.1L600.3 537.1L601.8 537.2L603.3 537.2L604.8 537.2L606.3 537.2L607.8 537.2L607.9 537.2" stroke="#7d7d19" stroke-width="1.7" fill="none" stroke-linejoin="round"/>
<path d="M72.2 538L73.7 538L75.2 538L76.7 538L78.2 538L79.7 538L81.2 538L82.6 538L84.1 538L85.6 537.9L87.1 537.9L88.6 537.9L90.1 537.9L91.6 537.9L93.1 537.9L94.5 537.9L96 537.9L97.5 537.9L99 537.9L100.5 537.9L102 537.9L103.5 537.9L105 537.9L106.4 537.9L107.9 537.8L109.4 537.8L110.9 537.8L112.4 537.8L113.9 537.8L115.4 537.8L116.9 537.8L118.3 537.8L119.8 537.8L121.3 537.8L122.8 537.8L124.3 537.8L125.8 537.7L127.3 537.7L128.8 537.7L130.2 537.7L131.7 537.7L133.2 537.7L134.7 537.7L136.2 537.7L137.7 537.7L139.2 537.7L140.7 537.6L142.1 537.6L143.6 537.6L145.1 537.6L146.6 537.6L148.1 537.6L149.6 537.6L151.1 537.6L152.6 537.6L154 537.6L155.5 537.5L157 537.5L158.5 537.5L160 537.5L161.5 537.5L163 537.5L164.5 537.5L166 537.5L167.4 537.5L168.9 537.5L170.4 537.4L171.9 537.4L173.4 537.4L174.9 537.4L176.4 537.4L177.9 537.4L179.3 537.4L180.8 537.4L182.3 537.3L183.8 537.3L185.3 537.3L186.8 537.3L188.3 537.3L189.8 537.3L191.2 537.3L192.7 537.3L194.2 537.2L195.7 537.2L197.2 537.2L198.7 537.2L200.2 537.2L201.7 537.2L203.1 537.2L204.6 537.2L206.1 537.1L207.6 537.1L209.1 537.1L210.6 537.1L212.1 537.1L213.6 537.1L215 537.1L216.5 537.1L218 537L219.5 537L221 537L222.5 537L224 537L225.5 537L226.9 537L228.4 536.9L229.9 536.9L231.4 536.9L232.9 536.9L234.4 536.9L235.9 536.9L237.4 536.9L238.8 536.8L240.3 536.8L241.8 536.8L243.3 536.8L244.8 536.8L246.3 536.8L247.8 536.8L249.3 536.7L250.7 536.7L252.2 536.7L253.7 536.7L255.2 536.7L256.7 536.7L258.2 536.7L259.7 536.6L261.2 536.6L262.6 536.6L264.1 536.6L265.6 536.6L267.1 536.6L268.6 536.6L270.1 536.5L271.6 536.5L273.1 536.5L274.5 536.5L276 536.5L277.5 536.5L279 536.4L280.5 536.4L282 536.4L283.5 536.4L285 536.4L286.4 536.4L287.9 536.4L289.4 536.3L290.9 536.3L292.4 536.3L293.9 536.3L295.4 536.3L296.9 536.3L298.3 536.2L299.8 536.2L301.3 536.2L302.8 536.2L304.3 536.2L305.8 536.2L307.3 536.2L308.8 536.1L310.2 536.1L311.7 536.1L313.2 536.1L314.7 536.1L316.2 536.1L317.7 536L319.2 536L320.7 536L322.1 536L323.6 536L325.1 536L326.6 535.9L328.1 535.9L329.6 535.9L331.1 535.9L332.6 535.9L334 535.9L335.5 535.8L337 535.8L338.5 535.8L340 535.8L341.5 535.8L343 535.8L344.5 535.7L346 535.7L347.4 535.7L348.9 535.7L350.4 535.7L351.9 535.6L353.4 535.6L354.9 535.6L356.4 535.6L357.9 535.6L359.3 535.6L360.8 535.5L362.3 535.5L363.8 535.5L365.3 535.5L366.8 535.5L368.3 535.4L369.8 535.4L371.2 535.4L372.7 535.4L374.2 535.3L375.7 535.3L377.2 535.3L378.7 535.3L380.2 535.3L381.7 535.2L383.1 535.2L384.6 535.2L386.1 535.2L387.6 535.2L389.1 535.1L390.6 535.1L392.1 535.1L393.6 535.1L395 535L396.5 535L398 535L399.5 535L401 534.9L402.5 534.9L404 534.9L405.5 534.9L406.9 534.9L408.4 534.8L409.9 534.8L411.4 534.8L412.9 534.8L414.4 534.7L415.9 534.7L417.4 534.7L418.8 534.7L420.3 534.6L421.8 534.6L423.3 534.6L424.8 534.6L426.3 534.5L427.8 534.5L429.3 534.5L430.7 534.5L432.2 534.4L433.7 534.4L435.2 534.4L436.7 534.4L438.2 534.3L439.7 534.3L441.2 534.3L442.6 534.3L444.1 534.2L445.6 534.2L447.1 534.2L448.6 534.2L450.1 534.1L451.6 534.1L453.1 534.1L454.5 534.1L456 534L457.5 534L459 534L460.5 533.9L462 533.9L463.5 533.9L465 533.9L466.4 533.8L467.9 533.8L469.4 533.8L470.9 533.8L472.4 533.7L473.9 533.7L475.4 533.7L476.9 533.7L478.3 533.6L479.8 533.6L481.3 533.6L482.8 533.6L484.3 533.5L485.8 533.5L487.3 533.5L488.8 533.4L490.2 533.4L491.7 533.4L493.2 533.4L494.7 533.3L496.2 533.3L497.7 533.3L499.2 533.3L500.7 533.2L502.1 533.2L503.6 533.2L505.1 533.1L506.6 533.1L508.1 533.1L509.6 533L511.1 533L512.6 532.9L514 532.9L515.5 532.9L517 532.8L518.5 532.8L520 532.7L521.5 532.7L523 532.7L524.5 532.6L526 532.6L527.4 532.6L528.9 532.5L530.4 532.5L531.9 532.5L533.4 532.4L534.9 532.4L536.4 532.4L537.9 532.4L539.3 532.3L540.8 532.3L542.3 532.3L543.8 532.3L545.3 532.3L546.8 532.3L548.3 532.3L549.8 532.3L551.2 532.3L552.7 532.3L554.2 532.3L555.7 532.3L557.2 532.3L558.7 532.3L560.2 532.3L561.7 532.3L563.1 532.3L564.6 532.3L566.1 532.3L567.6 532.3L569.1 532.3L570.6 532.3L572.1 532.3L573.6 532.3L575 532.3L576.5 532.3L578 532.3L579.5 532.3L581 532.3L582.5 532.3L584 532.3L585.5 532.3L586.9 532.3L588.4 532.3L589.9 532.3L591.4 532.3L592.9 532.3L594.4 532.3L595.9 532.3L597.4 532.3L598.8 532.3L600.3 532.3L601.8 532.3L603.3 532.3L604.8 532.3L606.3 532.3L607.8 532.3L607.9 532.3" stroke="#ea9023" stroke-width="1.7" fill="none" stroke-linejoin="round" stroke-dasharray="8.4 6.9"/>
<path d="M72.2 537.7L73.7 537.7L75.2 537.7L76.7 537.7L78.2 537.7L79.7 537.7L81.2 537.7L82.6 537.7L84.1 537.6L85.6 537.6L87.1 537.6L88.6 537.6L90.1 537.6L91.6 537.6L93.1 537.6L94.5 537.6L96 537.6L97.5 537.6L99 537.6L100.5 537.6L102 537.6L103.5 537.6L105 537.6L106.4 537.6L107.9 537.5L109.4 537.5L110.9 537.5L112.4 537.5L113.9 537.5L115.4 537.5L116.9 537.5L118.3 537.5L119.8 537.5L121.3 537.5L122.8 537.5L124.3 537.5L125.8 537.5L127.3 537.5L128.8 537.5L130.2 537.5L131.7 537.4L133.2 537.4L134.7 537.4L136.2 537.4L137.7 537.4L139.2 537.4L140.7 537.4L142.1 537.4L143.6 537.4L145.1 537.4L146.6 537.4L148.1 537.4L149.6 537.4L151.1 537.4L152.6 537.4L154 537.4L155.5 537.3L157 537.3L158.5 537.3L160 537.3L161.5 537.3L163 537.3L164.5 537.3L166 537.3L167.4 537.3L168.9 537.3L170.4 537.3L171.9 537.3L173.4 537.3L174.9 537.3L176.4 537.3L177.9 537.3L179.3 537.3L180.8 537.2L182.3 537.2L183.8 537.2L185.3 537.2L186.8 537.2L188.3 537.2L189.8 537.2L191.2 537.2L192.7 537.2L194.2 537.2L195.7 537.2L197.2 537.2L198.7 537.2L200.2 537.2L201.7 537.2L203.1 537.2L204.6 537.2L206.1 537.1L207.6 537.1L209.1 537.1L210.6 537.1L212.1 537.1L213.6 537.1L215 537.1L216.5 537.1L218 537.1L219.5 537.1L221 537.1L222.5 537.1L224 537.1L225.5 537.1L226.9 537.1L228.4 537.1L229.9 537.1L231.4 537.1L232.9 537L234.4 537L235.9 537L237.4 537L238.8 537L240.3 537L241.8 537L243.3 537L244.8 537L246.3 537L247.8 537L249.3 537L250.7 537L252.2 537L253.7 537L255.2 537L256.7 537L258.2 537L259.7 536.9L261.2 536.9L262.6 536.9L264.1 536.9L265.6 536.9L267.1 536.9L268.6 536.9L270.1 536.9L271.6 536.9L273.1 536.9L274.5 536.9L276 536.9L277.5 536.9L279 536.9L280.5 536.9L282 536.9L283.5 536.9L285 536.9L286.4 536.9L287.9 536.8L289.4 536.8L290.9 536.8L292.4 536.8L293.9 536.8L295.4 536.8L296.9 536.8L298.3 536.8L299.8 536.8L301.3 536.8L302.8 536.8L304.3 536.8L305.8 536.8L307.3 536.8L308.8 536.8L310.2 536.8L311.7 536.8L313.2 536.8L314.7 536.8L316.2 536.7L317.7 536.7L319.2 536.7L320.7 536.7L322.1 536.7L323.6 536.7L325.1 536.7L326.6 536.7L328.1 536.7L329.6 536.7L331.1 536.7L332.6 536.7L334 536.7L335.5 536.7L337 536.7L338.5 536.7L340 536.7L341.5 536.7L343 536.7L344.5 536.7L346 536.6L347.4 536.6L348.9 536.6L350.4 536.6L351.9 536.6L353.4 536.6L354.9 536.6L356.4 536.6L357.9 536.6L359.3 536.6L360.8 536.6L362.3 536.6L363.8 536.6L365.3 536.6L366.8 536.6L368.3 536.6L369.8 536.6L371.2 536.6L372.7 536.6L374.2 536.6L375.7 536.6L377.2 536.5L378.7 536.5L380.2 536.5L381.7 536.5L383.1 536.5L384.6 536.5L386.1 536.5L387.6 536.5L389.1 536.5L390.6 536.5L392.1 536.5L393.6 536.5L395 536.5L396.5 536.5L398 536.5L399.5 536.5L401 536.5L402.5 536.5L404 536.5L405.5 536.5L406.9 536.5L408.4 536.5L409.9 536.4L411.4 536.4L412.9 536.4L414.4 536.4L415.9 536.4L417.4 536.4L418.8 536.4L420.3 536.4L421.8 536.4L423.3 536.4L424.8 536.4L426.3 536.4L427.8 536.4L429.3 536.4L430.7 536.4L432.2 536.4L433.7 536.4L435.2 536.4L436.7 536.4L438.2 536.4L439.7 536.4L441.2 536.4L442.6 536.3L444.1 536.3L445.6 536.3L447.1 536.3L448.6 536.3L450.1 536.3L451.6 536.3L453.1 536.3L454.5 536.3L456 536.3L457.5 536.3L459 536.3L460.5 536.3L462 536.3L463.5 536.3L465 536.3L466.4 536.3L467.9 536.3L469.4 536.3L470.9 536.3L472.4 536.3L473.9 536.3L475.4 536.2L476.9 536.2L478.3 536.2L479.8 536.2L481.3 536.2L482.8 536.2L484.3 536.2L485.8 536.2L487.3 536.2L488.8 536.2L490.2 536.2L491.7 536.2L493.2 536.2L494.7 536.2L496.2 536.2L497.7 536.2L499.2 536.2L500.7 536.2L502.1 536.2L503.6 536.2L505.1 536.2L506.6 536.2L508.1 536.2L509.6 536.2L511.1 536.1L512.6 536.1L514 536.1L515.5 536.1L517 536.1L518.5 536.1L520 536.1L521.5 536.1L523 536.1L524.5 536.1L526 536.1L527.4 536.1L528.9 536.1L530.4 536.1L531.9 536.1L533.4 536.1L534.9 536.1L536.4 536.1L537.9 536.1L539.3 536.1L540.8 536.1L542.3 536.1L543.8 536.1L545.3 536.1L546.8 536.1L548.3 536L549.8 536L551.2 536L552.7 536L554.2 536L555.7 536L557.2 536L558.7 536L560.2 536L561.7 536L563.1 536L564.6 536L566.1 536L567.6 536L569.1 536L570.6 536L572.1 536L573.6 536L575 536L576.5 536L578 536L579.5 536L581 536L582.5 536L584 536L585.5 536L586.9 536L588.4 535.9L589.9 535.9L591.4 535.9L592.9 535.9L594.4 535.9L595.9 535.9L597.4 535.9L598.8 535.9L600.3 535.9L601.8 535.9L603.3 535.9L604.8 535.9L606.3 535.9L607.8 535.9L607.9 535.9" stroke="#de278a" stroke-width="1.7" fill="none" stroke-linejoin="round"/>
<path d="M72.2 537.4L73.7 537.4L75.2 537.4L76.7 537.4L78.2 537.4L79.7 537.4L81.2 537.3L82.6 537.3L84.1 537.3L85.6 537.3L87.1 537.3L88.6 537.2L90.1 537.2L91.6 537.2L93.1 537.1L94.5 537.1L96 537L97.5 537L99 537L100.5 536.9L102 536.9L103.5 536.8L105 536.8L106.4 536.7L107.9 536.6L109.4 536.6L110.9 536.5L112.4 536.5L113.9 536.4L115.4 536.3L116.9 536.3L118.3 536.2L119.8 536.1L121.3 536.1L122.8 536L124.3 535.9L125.8 535.8L127.3 535.8L128.8 535.7L130.2 535.6L131.7 535.5L133.2 535.4L134.7 535.4L136.2 535.3L137.7 535.2L139.2 535.1L140.7 535L142.1 534.9L143.6 534.9L145.1 534.8L146.6 534.7L148.1 534.6L149.6 534.5L151.1 534.4L152.6 534.3L154 534.3L155.5 534.2L157 534.1L158.5 534L160 533.9L161.5 533.8L163 533.7L164.5 533.6L166 533.4L167.4 533.3L168.9 533.2L170.4 533.1L171.9 532.9L173.4 532.8L174.9 532.7L176.4 532.5L177.9 532.4L179.3 532.2L180.8 532L182.3 531.9L183.8 531.7L185.3 531.6L186.8 531.4L188.3 531.2L189.8 531L191.2 530.9L192.7 530.7L194.2 530.5L195.7 530.3L197.2 530.1L198.7 529.9L200.2 529.7L201.7 529.5L203.1 529.3L204.6 529.1L206.1 528.9L207.6 528.7L209.1 528.5L210.6 528.3L212.1 528.1L213.6 527.9L215 527.6L216.5 527.4L218 527.1L219.5 526.9L221 526.6L222.5 526.4L224 526.1L225.5 525.8L226.9 525.5L228.4 525.2L229.9 524.9L231.4 524.6L232.9 524.3L234.4 524L235.9 523.7L237.4 523.3L238.8 523L240.3 522.7L241.8 522.3L243.3 522L244.8 521.6L246.3 521.2L247.8 520.8L249.3 520.3L250.7 519.9L252.2 519.4L253.7 519L255.2 518.5L256.7 518L258.2 517.5L259.7 517.1L261.2 516.6L262.6 516.1L264.1 515.6L265.6 515.1L267.1 514.6L268.6 514.1L270.1 513.6L271.6 513L273.1 512.5L274.5 512L276 511.4L277.5 510.8L279 510.3L280.5 509.7L282 509.2L283.5 508.6L285 508.1L286.4 507.5L287.9 507L289.4 506.5L290.9 506L292.4 505.5L293.9 505.1L295.4 504.6L296.9 504.1L298.3 503.6L299.8 503.1L301.3 502.6L302.8 502.1L304.3 501.7L305.8 501.2L307.3 500.9L308.8 500.5L310.2 500.3L311.7 500L313.2 499.9L314.7 499.8L316.2 499.6L317.7 499.5L319.2 499.4L320.7 499.3L322.1 499.2L323.6 499.1L325.1 499L326.6 499L328.1 498.9L329.6 498.9L331.1 498.8L332.6 498.8L334 498.8L335.5 498.8L337 498.8L338.5 498.8L340 498.8L341.5 498.8L343 498.8L344.5 498.8L346 498.8L347.4 498.8L348.9 498.8L350.4 498.8L351.9 498.8L353.4 498.8L354.9 498.8L356.4 498.8L357.9 498.8L359.3 498.8L360.8 498.8L362.3 498.8L363.8 498.8L365.3 498.8L366.8 498.8L368.3 498.8L369.8 498.8L371.2 498.8L372.7 498.8L374.2 498.8L375.7 498.8L377.2 498.8L378.7 498.9L380.2 498.9L381.7 499L383.1 499L384.6 499.1L386.1 499.2L387.6 499.3L389.1 499.4L390.6 499.5L392.1 499.6L393.6 499.7L395 499.9L396.5 500L398 500.2L399.5 500.4L401 500.6L402.5 500.9L404 501.2L405.5 501.6L406.9 501.9L408.4 502.3L409.9 502.7L411.4 503L412.9 503.4L414.4 503.7L415.9 504.1L417.4 504.4L418.8 504.8L420.3 505.2L421.8 505.5L423.3 505.9L424.8 506.3L426.3 506.7L427.8 507.1L429.3 507.5L430.7 507.9L432.2 508.3L433.7 508.7L435.2 509.2L436.7 509.6L438.2 510.1L439.7 510.5L441.2 511L442.6 511.5L444.1 512L445.6 512.5L447.1 513.1L448.6 513.7L450.1 514.3L451.6 514.9L453.1 515.5L454.5 516.2L456 516.8L457.5 517.4L459 518.1L460.5 518.7L462 519.3L463.5 519.9L465 520.5L466.4 521L467.9 521.5L469.4 522.1L470.9 522.6L472.4 523.1L473.9 523.6L475.4 524.1L476.9 524.6L478.3 525.1L479.8 525.6L481.3 526.1L482.8 526.6L484.3 527.1L485.8 527.5L487.3 527.9L488.8 528.4L490.2 528.7L491.7 529.1L493.2 529.5L494.7 529.8L496.2 530.1L497.7 530.4L499.2 530.7L500.7 531L502.1 531.3L503.6 531.5L505.1 531.8L506.6 532L508.1 532.3L509.6 532.5L511.1 532.7L512.6 533L514 533.2L515.5 533.3L517 533.5L518.5 533.7L520 533.8L521.5 534L523 534.1L524.5 534.2L526 534.3L527.4 534.5L528.9 534.6L530.4 534.7L531.9 534.8L533.4 534.9L534.9 535L536.4 535.1L537.9 535.2L539.3 535.2L540.8 535.3L542.3 535.4L543.8 535.4L545.3 535.5L546.8 535.6L548.3 535.6L549.8 535.7L551.2 535.7L552.7 535.8L554.2 535.8L555.7 535.9L557.2 535.9L558.7 536L560.2 536L561.7 536.1L563.1 536.1L564.6 536.1L566.1 536.2L567.6 536.2L569.1 536.3L570.6 536.3L572.1 536.4L573.6 536.4L575 536.4L576.5 536.5L578 536.5L579.5 536.5L581 536.6L582.5 536.6L584 536.6L585.5 536.7L586.9 536.7L588.4 536.7L589.9 536.7L591.4 536.8L592.9 536.8L594.4 536.8L595.9 536.8L597.4 536.8L598.8 536.9L600.3 536.9L601.8 536.9L603.3 536.9L604.8 536.9L606.3 536.9L607.8 536.9L607.9 536.9" stroke="#720fd6" stroke-width="1.7" fill="none" stroke-linejoin="round" stroke-dasharray="8.4 6.9"/>
<path d="M61.16 351.3 H83.97" stroke="#d81111" stroke-width="1.85" fill="none"/>
<path d="M61.16 364.75 H69.26 M76.36 364.75 H83.97" stroke="#0606cd" stroke-width="1.85" fill="none"/>
<path d="M61.16 378.2 H83.97" stroke="#3cd53c" stroke-width="1.85" fill="none"/>
<path d="M61.16 391.65 H69.26 M76.36 391.65 H83.97" stroke="#de17de" stroke-width="1.85" fill="none"/>
<path d="M61.16 405.1 H83.97" stroke="#32eaea" stroke-width="1.85" fill="none"/>
<path d="M61.16 418.55 H69.26 M76.36 418.55 H83.97" stroke="#030367" stroke-width="1.85" fill="none"/>
<path d="M61.16 432 H83.97" stroke="#0d5b0d" stroke-width="1.85" fill="none"/>
<path d="M61.16 445.45 H69.26 M76.36 445.45 H83.97" stroke="#790d79" stroke-width="1.85" fill="none"/>
<path d="M61.16 458.9 H83.97" stroke="#7d7d19" stroke-width="1.85" fill="none"/>
<path d="M61.16 472.35 H69.26 M76.36 472.35 H83.97" stroke="#ea9023" stroke-width="1.85" fill="none"/>
<path d="M61.16 485.8 H83.97" stroke="#de278a" stroke-width="1.85" fill="none"/>
<path d="M61.16 499.25 H69.26 M76.36 499.25 H83.97" stroke="#720fd6" stroke-width="1.85" fill="none"/>
<!-- bottom-left -->
<rect x="49.67" y="648.6" width="579.17" height="207.65" fill="none" stroke="#1c1c1c" stroke-width="1"/>
<line x1="56.94" y1="856.25" x2="56.94" y2="862.25" stroke="#1c1c1c" stroke-width="1"/>
<line x1="198.29" y1="856.25" x2="198.29" y2="862.25" stroke="#1c1c1c" stroke-width="1"/>
<line x1="339.63" y1="856.25" x2="339.63" y2="862.25" stroke="#1c1c1c" stroke-width="1"/>
<line x1="480.97" y1="856.25" x2="480.97" y2="862.25" stroke="#1c1c1c" stroke-width="1"/>
<line x1="622.31" y1="856.25" x2="622.31" y2="862.25" stroke="#1c1c1c" stroke-width="1"/>
<line x1="42.73" y1="848.3" x2="49.67" y2="848.3" stroke="#1c1c1c" stroke-width="1"/>
<line x1="42.73" y1="807.4" x2="49.67" y2="807.4" stroke="#1c1c1c" stroke-width="1"/>
<line x1="42.73" y1="766.5" x2="49.67" y2="766.5" stroke="#1c1c1c" stroke-width="1"/>
<line x1="42.73" y1="725.6" x2="49.67" y2="725.6" stroke="#1c1c1c" stroke-width="1"/>
<line x1="42.73" y1="684.7" x2="49.67" y2="684.7" stroke="#1c1c1c" stroke-width="1"/>
<path d="M72.2 847.3L73.7 847.3L75.2 847.3L76.7 847.3L78.2 847.3L79.7 847.3L81.2 847.3L82.6 847.3L84.1 847.3L85.6 847.3L87.1 847.3L88.6 847.3L90.1 847.3L91.6 847.3L93.1 847.3L94.5 847.3L96 847.2L97.5 847.2L99 847.2L100.5 847.2L102 847.2L103.5 847.2L105 847.2L106.4 847.2L107.9 847.2L109.4 847.2L110.9 847.2L112.4 847.1L113.9 847.1L115.4 847.1L116.9 847.1L118.3 847.1L119.8 847.1L121.3 847.1L122.8 847.1L124.3 847L125.8 847L127.3 847L128.8 847L130.2 847L131.7 847L133.2 847L134.7 846.9L136.2 846.9L137.7 846.9L139.2 846.9L140.7 846.9L142.1 846.8L143.6 846.8L145.1 846.8L146.6 846.8L148.1 846.8L149.6 846.7L151.1 846.7L152.6 846.7L154 846.7L155.5 846.7L157 846.6L158.5 846.6L160 846.6L161.5 846.6L163 846.5L164.5 846.5L166 846.5L167.4 846.5L168.9 846.4L170.4 846.4L171.9 846.3L173.4 846.3L174.9 846.2L176.4 846.1L177.9 846.1L179.3 846L180.8 845.9L182.3 845.8L183.8 845.7L185.3 845.7L186.8 845.6L188.3 845.5L189.8 845.4L191.2 845.2L192.7 845.1L194.2 845L195.7 844.9L197.2 844.8L198.7 844.7L200.2 844.5L201.7 844.4L203.1 844.3L204.6 844.1L206.1 844L207.6 843.8L209.1 843.6L210.6 843.4L212.1 843.2L213.6 843L215 842.7L216.5 842.5L218 842.2L219.5 842L221 841.7L222.5 841.5L224 841.2L225.5 840.9L226.9 840.7L228.4 840.4L229.9 840.1L231.4 839.9L232.9 839.6L234.4 839.3L235.9 839L237.4 838.7L238.8 838.4L240.3 838.1L241.8 837.7L243.3 837.4L244.8 837L246.3 836.6L247.8 836.2L249.3 835.7L250.7 835.1L252.2 834.5L253.7 833.9L255.2 833.3L256.7 832.6L258.2 831.9L259.7 831.1L261.2 830.4L262.6 829.6L264.1 828.7L265.6 827.9L267.1 826.9L268.6 826L270.1 825L271.6 824L273.1 822.9L274.5 821.9L276 820.8L277.5 819.6L279 818.4L280.5 817.2L282 816L283.5 814.7L285 813.4L286.4 812.1L287.9 810.8L289.4 809.4L290.9 807.9L292.4 806.4L293.9 805L295.4 803.6L296.9 802.2L298.3 800.9L299.8 799.6L301.3 798.3L302.8 797L304.3 795.8L305.8 794.7L307.3 793.6L308.8 792.5L310.2 791.5L311.7 790.6L313.2 789.6L314.7 788.7L316.2 787.9L317.7 787.2L319.2 786.6L320.7 786L322.1 785.5L323.6 785L325.1 784.5L326.6 784.2L328.1 783.9L329.6 783.7L331.1 783.6L332.6 783.4L334 783.3L335.5 783.3L337 783.2L338.5 783.2L340 783.2L341.5 783.3L343 783.5L344.5 783.6L346 783.8L347.4 784.1L348.9 784.3L350.4 784.6L351.9 784.9L353.4 785.2L354.9 785.4L356.4 785.7L357.9 786L359.3 786.4L360.8 786.8L362.3 787.3L363.8 787.7L365.3 788.2L366.8 788.6L368.3 789L369.8 789.3L371.2 789.5L372.7 789.6L374.2 789.6L375.7 789.6L377.2 789.6L378.7 789.6L380.2 789.5L381.7 789.5L383.1 789.5L384.6 789.4L386.1 789.4L387.6 789.3L389.1 789.3L390.6 789.1L392.1 788.9L393.6 788.5L395 788L396.5 787.5L398 787L399.5 786.5L401 786L402.5 785.5L404 785.1L405.5 784.8L406.9 784.5L408.4 784.2L409.9 783.9L411.4 783.6L412.9 783.4L414.4 783.1L415.9 782.9L417.4 782.7L418.8 782.6L420.3 782.6L421.8 782.6L423.3 782.8L424.8 783L426.3 783.4L427.8 783.8L429.3 784.2L430.7 784.7L432.2 785.2L433.7 785.7L435.2 786.3L436.7 787.1L438.2 788L439.7 789L441.2 790L442.6 791.2L444.1 792.3L445.6 793.5L447.1 794.6L448.6 795.7L450.1 797L451.6 798.2L453.1 799.5L454.5 800.8L456 802.1L457.5 803.5L459 804.8L460.5 806L462 807.3L463.5 808.6L465 809.8L466.4 811.1L467.9 812.4L469.4 813.6L470.9 814.8L472.4 816.1L473.9 817.2L475.4 818.4L476.9 819.6L478.3 820.7L479.8 821.9L481.3 823L482.8 824.1L484.3 825.1L485.8 826.1L487.3 827L488.8 827.9L490.2 828.7L491.7 829.5L493.2 830.3L494.7 831.1L496.2 831.9L497.7 832.6L499.2 833.2L500.7 833.9L502.1 834.5L503.6 835L505.1 835.6L506.6 836.1L508.1 836.6L509.6 837.1L511.1 837.5L512.6 838L514 838.4L515.5 838.8L517 839.2L518.5 839.5L520 839.9L521.5 840.2L523 840.5L524.5 840.8L526 841.1L527.4 841.4L528.9 841.7L530.4 842L531.9 842.2L533.4 842.5L534.9 842.7L536.4 842.9L537.9 843.1L539.3 843.3L540.8 843.4L542.3 843.6L543.8 843.8L545.3 844L546.8 844.1L548.3 844.3L549.8 844.5L551.2 844.6L552.7 844.8L554.2 844.9L555.7 845L557.2 845.2L558.7 845.3L560.2 845.4L561.7 845.5L563.1 845.6L564.6 845.7L566.1 845.8L567.6 845.9L569.1 845.9L570.6 846L572.1 846.1L573.6 846.1L575 846.2L576.5 846.3L578 846.3L579.5 846.4L581 846.4L582.5 846.5L584 846.5L585.5 846.6L586.9 846.6L588.4 846.7L589.9 846.7L591.4 846.8L592.9 846.8L594.4 846.8L595.9 846.9L597.4 846.9L598.8 846.9L600.3 846.9L601.8 847L603.3 847L604.8 847L606.3 847L607.8 847L607.9 847" stroke="#d81111" stroke-width="1.7" fill="none" stroke-linejoin="round"/>
<path d="M72.2 847.3L73.7 847.3L75.2 847.3L76.7 847.3L78.2 847.3L79.7 847.3L81.2 847.3L82.6 847.3L84.1 847.3L85.6 847.3L87.1 847.3L88.6 847.3L90.1 847.3L91.6 847.3L93.1 847.3L94.5 847.3L96 847.2L97.5 847.2L99 847.2L100.5 847.2L102 847.2L103.5 847.2L105 847.2L106.4 847.2L107.9 847.2L109.4 847.2L110.9 847.2L112.4 847.1L113.9 847.1L115.4 847.1L116.9 847.1L118.3 847.1L119.8 847.1L121.3 847.1L122.8 847.1L124.3 847L125.8 847L127.3 847L128.8 847L130.2 847L131.7 847L133.2 847L134.7 846.9L136.2 846.9L137.7 846.9L139.2 846.9L140.7 846.9L142.1 846.8L143.6 846.8L145.1 846.8L146.6 846.8L148.1 846.8L149.6 846.7L151.1 846.7L152.6 846.7L154 846.7L155.5 846.7L157 846.6L158.5 846.6L160 846.6L161.5 846.6L163 846.5L164.5 846.5L166 846.5L167.4 846.5L168.9 846.4L170.4 846.4L171.9 846.3L173.4 846.3L174.9 846.2L176.4 846.1L177.9 846L179.3 846L180.8 845.9L182.3 845.8L183.8 845.7L185.3 845.6L186.8 845.5L188.3 845.4L189.8 845.2L191.2 845.1L192.7 845L194.2 844.9L195.7 844.7L197.2 844.6L198.7 844.5L200.2 844.4L201.7 844.2L203.1 844.1L204.6 843.9L206.1 843.7L207.6 843.5L209.1 843.3L210.6 843.1L212.1 842.9L213.6 842.7L215 842.4L216.5 842.2L218 841.9L219.5 841.7L221 841.4L222.5 841.1L224 840.8L225.5 840.6L226.9 840.3L228.4 840L229.9 839.7L231.4 839.4L232.9 839.1L234.4 838.8L235.9 838.5L237.4 838.2L238.8 837.9L240.3 837.5L241.8 837.2L243.3 836.8L244.8 836.4L246.3 836L247.8 835.6L249.3 835.1L250.7 834.6L252.2 834L253.7 833.5L255.2 832.9L256.7 832.2L258.2 831.6L259.7 830.9L261.2 830.2L262.6 829.4L264.1 828.6L265.6 827.8L267.1 826.8L268.6 825.9L270.1 824.9L271.6 823.9L273.1 822.9L274.5 821.9L276 820.8L277.5 819.7L279 818.5L280.5 817.3L282 816.1L283.5 814.9L285 813.7L286.4 812.5L287.9 811.2L289.4 810L290.9 808.7L292.4 807.4L293.9 806.1L295.4 804.9L296.9 803.7L298.3 802.6L299.8 801.5L301.3 800.4L302.8 799.4L304.3 798.4L305.8 797.6L307.3 796.8L308.8 796.1L310.2 795.5L311.7 795L313.2 794.4L314.7 793.9L316.2 793.5L317.7 793.1L319.2 792.7L320.7 792.3L322.1 792L323.6 791.7L325.1 791.4L326.6 791.1L328.1 790.8L329.6 790.5L331.1 790.3L332.6 790.2L334 790.1L335.5 790.1L337 790.1L338.5 790.1L340 790.2L341.5 790.2L343 790.3L344.5 790.4L346 790.5L347.4 790.6L348.9 790.7L350.4 790.9L351.9 791.2L353.4 791.5L354.9 791.8L356.4 792.1L357.9 792.4L359.3 792.6L360.8 792.9L362.3 793.1L363.8 793.4L365.3 793.6L366.8 793.9L368.3 794.1L369.8 794.3L371.2 794.4L372.7 794.5L374.2 794.6L375.7 794.6L377.2 794.6L378.7 794.5L380.2 794.3L381.7 794.1L383.1 793.9L384.6 793.7L386.1 793.4L387.6 793.2L389.1 792.9L390.6 792.7L392.1 792.5L393.6 792.3L395 792.1L396.5 791.9L398 791.7L399.5 791.4L401 791.2L402.5 791L404 790.8L405.5 790.6L406.9 790.4L408.4 790.3L409.9 790.2L411.4 790.1L412.9 790.1L414.4 790.1L415.9 790.2L417.4 790.3L418.8 790.5L420.3 790.7L421.8 790.9L423.3 791.2L424.8 791.4L426.3 791.7L427.8 792L429.3 792.4L430.7 792.9L432.2 793.5L433.7 794.3L435.2 795.1L436.7 796.1L438.2 797L439.7 798L441.2 799L442.6 799.9L444.1 800.9L445.6 802L447.1 803.1L448.6 804.2L450.1 805.4L451.6 806.5L453.1 807.6L454.5 808.7L456 809.8L457.5 810.9L459 811.9L460.5 813L462 814.1L463.5 815.1L465 816.2L466.4 817.2L467.9 818.2L469.4 819.2L470.9 820.2L472.4 821.2L473.9 822.1L475.4 823.1L476.9 824.1L478.3 825.1L479.8 826L481.3 826.9L482.8 827.8L484.3 828.6L485.8 829.4L487.3 830.2L488.8 830.9L490.2 831.5L491.7 832.2L493.2 832.8L494.7 833.4L496.2 834L497.7 834.6L499.2 835.1L500.7 835.7L502.1 836.1L503.6 836.6L505.1 837.1L506.6 837.5L508.1 838L509.6 838.4L511.1 838.9L512.6 839.3L514 839.7L515.5 840.1L517 840.5L518.5 840.9L520 841.2L521.5 841.5L523 841.8L524.5 842.1L526 842.4L527.4 842.6L528.9 842.8L530.4 843L531.9 843.2L533.4 843.3L534.9 843.5L536.4 843.6L537.9 843.8L539.3 843.9L540.8 844.1L542.3 844.2L543.8 844.4L545.3 844.5L546.8 844.6L548.3 844.7L549.8 844.8L551.2 845L552.7 845.1L554.2 845.2L555.7 845.3L557.2 845.4L558.7 845.4L560.2 845.5L561.7 845.6L563.1 845.7L564.6 845.8L566.1 845.8L567.6 845.9L569.1 846L570.6 846L572.1 846.1L573.6 846.1L575 846.2L576.5 846.2L578 846.3L579.5 846.4L581 846.4L582.5 846.5L584 846.5L585.5 846.6L586.9 846.6L588.4 846.7L589.9 846.7L591.4 846.7L592.9 846.8L594.4 846.8L595.9 846.8L597.4 846.9L598.8 846.9L600.3 846.9L601.8 847L603.3 847L604.8 847L606.3 847L607.8 847L607.9 847" stroke="#0606cd" stroke-width="1.7" fill="none" stroke-linejoin="round" stroke-dasharray="8.4 6.9"/>
<path d="M72.2 847L73.7 847L75.2 847L76.7 847L78.2 846.9L79.7 846.9L81.2 846.9L82.6 846.9L84.1 846.8L85.6 846.8L87.1 846.8L88.6 846.7L90.1 846.7L91.6 846.7L93.1 846.6L94.5 846.6L96 846.6L97.5 846.5L99 846.5L100.5 846.5L102 846.4L103.5 846.4L105 846.3L106.4 846.3L107.9 846.2L109.4 846.2L110.9 846.2L112.4 846.1L113.9 846.1L115.4 846L116.9 846L118.3 845.9L119.8 845.9L121.3 845.8L122.8 845.8L124.3 845.7L125.8 845.7L127.3 845.6L128.8 845.6L130.2 845.5L131.7 845.4L133.2 845.4L134.7 845.3L136.2 845.2L137.7 845.1L139.2 845.1L140.7 845L142.1 844.9L143.6 844.8L145.1 844.7L146.6 844.6L148.1 844.5L149.6 844.3L151.1 844.2L152.6 843.9L154 843.7L155.5 843.4L157 843.1L158.5 842.8L160 842.4L161.5 842.1L163 841.7L164.5 841.2L166 840.8L167.4 840.4L168.9 839.9L170.4 839.5L171.9 839L173.4 838.5L174.9 838L176.4 837.5L177.9 836.9L179.3 836.3L180.8 835.6L182.3 834.9L183.8 834.2L185.3 833.4L186.8 832.6L188.3 831.8L189.8 830.9L191.2 829.9L192.7 828.7L194.2 827.5L195.7 826.2L197.2 824.8L198.7 823.4L200.2 821.9L201.7 820.5L203.1 818.9L204.6 817.3L206.1 815.6L207.6 813.9L209.1 812L210.6 810.2L212.1 808.3L213.6 806.4L215 804.5L216.5 802.6L218 800.7L219.5 798.7L221 796.7L222.5 794.7L224 792.7L225.5 790.7L226.9 788.6L228.4 786.6L229.9 784.5L231.4 782.4L232.9 780.2L234.4 778.1L235.9 776L237.4 774.1L238.8 772.3L240.3 770.6L241.8 769L243.3 767.4L244.8 765.9L246.3 764.5L247.8 763.2L249.3 762L250.7 761L252.2 760.1L253.7 759.3L255.2 758.5L256.7 757.9L258.2 757.4L259.7 757L261.2 756.6L262.6 756.4L264.1 756.3L265.6 756.4L267.1 756.7L268.6 757.1L270.1 757.5L271.6 758L273.1 758.8L274.5 759.8L276 760.9L277.5 762L279 763.3L280.5 764.7L282 766.2L283.5 767.6L285 769L286.4 770.3L287.9 771.3L289.4 772.4L290.9 773.4L292.4 774.4L293.9 775.2L295.4 775.8L296.9 776.3L298.3 776.8L299.8 777.3L301.3 777.7L302.8 778L304.3 778.2L305.8 778.2L307.3 778.1L308.8 777.7L310.2 777.3L311.7 776.8L313.2 776.3L314.7 775.8L316.2 775.1L317.7 774.4L319.2 773.6L320.7 772.7L322.1 771.8L323.6 770.7L325.1 769.6L326.6 768.3L328.1 767.1L329.6 765.8L331.1 764.5L332.6 763.4L334 762.4L335.5 761.5L337 760.5L338.5 759.7L340 758.9L341.5 758.3L343 757.7L344.5 757.1L346 756.7L347.4 756.4L348.9 756.3L350.4 756.4L351.9 756.7L353.4 757L354.9 757.4L356.4 757.8L357.9 758.4L359.3 759.2L360.8 760L362.3 761L363.8 762.2L365.3 763.8L366.8 765.5L368.3 767.2L369.8 769L371.2 771L372.7 773.1L374.2 775.3L375.7 777.4L377.2 779.5L378.7 781.6L380.2 783.8L381.7 786L383.1 788.1L384.6 790.3L386.1 792.5L387.6 794.6L389.1 796.7L390.6 798.7L392.1 800.8L393.6 802.9L395 805L396.5 807.1L398 809L399.5 810.9L401 812.8L402.5 814.5L404 816.1L405.5 817.7L406.9 819.3L408.4 820.8L409.9 822.2L411.4 823.6L412.9 824.9L414.4 826.1L415.9 827.3L417.4 828.5L418.8 829.6L420.3 830.7L421.8 831.7L423.3 832.7L424.8 833.6L426.3 834.4L427.8 835.2L429.3 835.9L430.7 836.6L432.2 837.2L433.7 837.8L435.2 838.4L436.7 839L438.2 839.5L439.7 839.9L441.2 840.4L442.6 840.8L444.1 841.1L445.6 841.4L447.1 841.7L448.6 842L450.1 842.3L451.6 842.6L453.1 842.8L454.5 843.1L456 843.3L457.5 843.5L459 843.7L460.5 843.9L462 844L463.5 844.2L465 844.3L466.4 844.5L467.9 844.6L469.4 844.7L470.9 844.8L472.4 844.9L473.9 845L475.4 845.1L476.9 845.2L478.3 845.3L479.8 845.4L481.3 845.5L482.8 845.6L484.3 845.6L485.8 845.7L487.3 845.8L488.8 845.8L490.2 845.9L491.7 845.9L493.2 846L494.7 846L496.2 846L497.7 846L499.2 846.1L500.7 846.1L502.1 846.1L503.6 846.1L505.1 846.2L506.6 846.2L508.1 846.2L509.6 846.2L511.1 846.3L512.6 846.3L514 846.3L515.5 846.3L517 846.4L518.5 846.4L520 846.4L521.5 846.4L523 846.4L524.5 846.5L526 846.5L527.4 846.5L528.9 846.5L530.4 846.5L531.9 846.5L533.4 846.6L534.9 846.6L536.4 846.6L537.9 846.6L539.3 846.6L540.8 846.6L542.3 846.7L543.8 846.7L545.3 846.7L546.8 846.7L548.3 846.7L549.8 846.7L551.2 846.7L552.7 846.8L554.2 846.8L555.7 846.8L557.2 846.8L558.7 846.8L560.2 846.8L561.7 846.8L563.1 846.8L564.6 846.9L566.1 846.9L567.6 846.9L569.1 846.9L570.6 846.9L572.1 846.9L573.6 846.9L575 846.9L576.5 846.9L578 846.9L579.5 846.9L581 846.9L582.5 846.9L584 847L585.5 847L586.9 847L588.4 847L589.9 847L591.4 847L592.9 847L594.4 847L595.9 847L597.4 847L598.8 847L600.3 847L601.8 847L603.3 847L604.8 847L606.3 847L607.8 847L607.9 847" stroke="#de17de" stroke-width="1.7" fill="none" stroke-linejoin="round" stroke-dasharray="8.4 6.9"/>
<path d="M72.2 847L73.7 847L75.2 847L76.7 847L78.2 847L79.7 847L81.2 847L82.6 847L84.1 847L85.6 847L87.1 847L88.6 847L90.1 847L91.6 847L93.1 847L94.5 847L96 847L97.5 847L99 847L100.5 847L102 847L103.5 847L105 847L106.4 847L107.9 847L109.4 847L110.9 847L112.4 847L113.9 847L115.4 847L116.9 847L118.3 847L119.8 847L121.3 846.9L122.8 846.9L124.3 846.9L125.8 846.9L127.3 846.9L128.8 846.9L130.2 846.9L131.7 846.9L133.2 846.9L134.7 846.9L136.2 846.9L137.7 846.9L139.2 846.9L140.7 846.9L142.1 846.9L143.6 846.9L145.1 846.9L146.6 846.9L148.1 846.9L149.6 846.9L151.1 846.9L152.6 846.9L154 846.8L155.5 846.8L157 846.8L158.5 846.8L160 846.8L161.5 846.8L163 846.8L164.5 846.8L166 846.8L167.4 846.8L168.9 846.8L170.4 846.7L171.9 846.7L173.4 846.7L174.9 846.7L176.4 846.6L177.9 846.6L179.3 846.5L180.8 846.5L182.3 846.4L183.8 846.3L185.3 846.3L186.8 846.2L188.3 846.1L189.8 846L191.2 846L192.7 845.9L194.2 845.8L195.7 845.7L197.2 845.6L198.7 845.5L200.2 845.3L201.7 845.2L203.1 845.1L204.6 844.8L206.1 844.5L207.6 844.2L209.1 843.8L210.6 843.4L212.1 842.9L213.6 842.4L215 841.9L216.5 841.4L218 840.9L219.5 840.3L221 839.7L222.5 839.1L224 838.3L225.5 837.6L226.9 836.7L228.4 835.8L229.9 834.7L231.4 833.5L232.9 832.1L234.4 830.5L235.9 828.8L237.4 827L238.8 824.8L240.3 822.4L241.8 819.7L243.3 816.9L244.8 814L246.3 810.8L247.8 807.4L249.3 804L250.7 800.4L252.2 796.8L253.7 793.1L255.2 789.3L256.7 785.3L258.2 781L259.7 776.6L261.2 771.7L262.6 766.2L264.1 759.9L265.6 753.2L267.1 746.1L268.6 738.3L270.1 730L271.6 721.6L273.1 713.9L274.5 707L276 700.4L277.5 694.2L279 688.5L280.5 683.3L282 678.5L283.5 674L285 670L286.4 666.4L287.9 663.2L289.4 660.4L290.9 658.5L292.4 657.3L293.9 656.5L295.4 656.5L296.9 657.2L298.3 658.4L299.8 660.1L301.3 662.9L302.8 666.1L304.3 669.6L305.8 673.8L307.3 678.4L308.8 683.3L310.2 688.6L311.7 694.7L313.2 701.1L314.7 707.5L316.2 713.6L317.7 719.4L319.2 725L320.7 730.6L322.1 736.2L323.6 741.8L325.1 747.5L326.6 752.9L328.1 757.5L329.6 761.4L331.1 765.1L332.6 769.2L334 773.5L335.5 777L337 779.8L338.5 782.1L340 783.8L341.5 785.1L343 786.3L344.5 786.9L346 786.9L347.4 786.1L348.9 785L350.4 783.8L351.9 782L353.4 779.9L354.9 777.4L356.4 774.3L357.9 770.7L359.3 766.7L360.8 762.4L362.3 757.7L363.8 752.6L365.3 747L366.8 740.9L368.3 734.3L369.8 727.5L371.2 720.8L372.7 714.4L374.2 708L375.7 701.7L377.2 695.7L378.7 690.2L380.2 684.9L381.7 679.9L383.1 675.3L384.6 671.3L386.1 667.8L387.6 664.6L389.1 661.8L390.6 659.8L392.1 658.5L393.6 657.4L395 656.6L396.5 656.4L398 657.3L399.5 658.9L401 661.1L402.5 664.4L404 668.4L405.5 672.8L406.9 677.8L408.4 683.2L409.9 689L411.4 695L412.9 701.5L414.4 708.5L415.9 715.6L417.4 722.7L418.8 730L420.3 737.3L421.8 743.7L423.3 749.4L424.8 754.9L426.3 760.3L427.8 765.6L429.3 770.6L430.7 775.3L432.2 780L433.7 784.5L435.2 788.8L436.7 792.9L438.2 796.8L439.7 800.5L441.2 804L442.6 807.4L444.1 810.6L445.6 813.6L447.1 816.4L448.6 819.1L450.1 821.6L451.6 824L453.1 826.3L454.5 828.3L456 830.1L457.5 831.7L459 833.3L460.5 834.8L462 836.1L463.5 837.3L465 838.4L466.4 839.3L467.9 840.1L469.4 840.9L470.9 841.6L472.4 842.3L473.9 842.9L475.4 843.4L476.9 843.8L478.3 844.1L479.8 844.3L481.3 844.6L482.8 844.8L484.3 845L485.8 845.2L487.3 845.3L488.8 845.4L490.2 845.6L491.7 845.6L493.2 845.7L494.7 845.8L496.2 845.9L497.7 846L499.2 846L500.7 846.1L502.1 846.1L503.6 846.2L505.1 846.2L506.6 846.3L508.1 846.3L509.6 846.4L511.1 846.4L512.6 846.4L514 846.4L515.5 846.4L517 846.5L518.5 846.5L520 846.5L521.5 846.5L523 846.5L524.5 846.5L526 846.6L527.4 846.6L528.9 846.6L530.4 846.6L531.9 846.6L533.4 846.6L534.9 846.6L536.4 846.6L537.9 846.7L539.3 846.7L540.8 846.7L542.3 846.7L543.8 846.7L545.3 846.7L546.8 846.7L548.3 846.7L549.8 846.7L551.2 846.7L552.7 846.7L554.2 846.8L555.7 846.8L557.2 846.8L558.7 846.8L560.2 846.8L561.7 846.8L563.1 846.8L564.6 846.8L566.1 846.8L567.6 846.8L569.1 846.8L570.6 846.8L572.1 846.9L573.6 846.9L575 846.9L576.5 846.9L578 846.9L579.5 846.9L581 846.9L582.5 846.9L584 846.9L585.5 846.9L586.9 846.9L588.4 846.9L589.9 846.9L591.4 846.9L592.9 847L594.4 847L595.9 847L597.4 847L598.8 847L600.3 847L601.8 847L603.3 847L604.8 847L606.3 847L607.8 847L607.9 847" stroke="#32eaea" stroke-width="1.7" fill="none" stroke-linejoin="round"/>
<path d="M72.2 847L73.7 847L75.2 847L76.7 847L78.2 847L79.7 847L81.2 847L82.6 847L84.1 847L85.6 847L87.1 847L88.6 847L90.1 847L91.6 847L93.1 847L94.5 847L96 847L97.5 847L99 846.9L100.5 846.9L102 846.9L103.5 846.9L105 846.9L106.4 846.9L107.9 846.9L109.4 846.9L110.9 846.9L112.4 846.9L113.9 846.9L115.4 846.9L116.9 846.8L118.3 846.8L119.8 846.8L121.3 846.8L122.8 846.8L124.3 846.8L125.8 846.8L127.3 846.8L128.8 846.8L130.2 846.7L131.7 846.7L133.2 846.7L134.7 846.7L136.2 846.7L137.7 846.7L139.2 846.6L140.7 846.6L142.1 846.6L143.6 846.6L145.1 846.6L146.6 846.6L148.1 846.5L149.6 846.5L151.1 846.5L152.6 846.5L154 846.5L155.5 846.4L157 846.4L158.5 846.4L160 846.4L161.5 846.4L163 846.3L164.5 846.3L166 846.3L167.4 846.3L168.9 846.2L170.4 846.2L171.9 846.2L173.4 846.2L174.9 846.1L176.4 846.1L177.9 846.1L179.3 846L180.8 846L182.3 846L183.8 846L185.3 845.9L186.8 845.8L188.3 845.8L189.8 845.7L191.2 845.6L192.7 845.5L194.2 845.4L195.7 845.2L197.2 845.1L198.7 844.9L200.2 844.8L201.7 844.6L203.1 844.4L204.6 844.3L206.1 844.1L207.6 843.9L209.1 843.7L210.6 843.5L212.1 843.3L213.6 843L215 842.8L216.5 842.6L218 842.3L219.5 842L221 841.7L222.5 841.3L224 840.9L225.5 840.5L226.9 840L228.4 839.5L229.9 839L231.4 838.4L232.9 837.8L234.4 837.1L235.9 836.5L237.4 835.7L238.8 834.9L240.3 833.8L241.8 832.6L243.3 831.2L244.8 829.8L246.3 828.3L247.8 826.7L249.3 825L250.7 823.1L252.2 821L253.7 818.8L255.2 816.5L256.7 814L258.2 811.4L259.7 808.5L261.2 805.4L262.6 802.2L264.1 798.9L265.6 795.4L267.1 791.8L268.6 787.9L270.1 783.9L271.6 779.9L273.1 776.1L274.5 772.3L276 767.9L277.5 762.8L279 757.3L280.5 751.8L282 746.2L283.5 740.4L285 734.7L286.4 729.4L287.9 724.6L289.4 719.9L290.9 715.5L292.4 711.5L293.9 707.9L295.4 704.4L296.9 701.1L298.3 698.4L299.8 696.4L301.3 695L302.8 693.8L304.3 692.8L305.8 692.3L307.3 692.3L308.8 692.8L310.2 693.7L311.7 695L313.2 696.4L314.7 698L316.2 700L317.7 702.7L319.2 705.9L320.7 709.3L322.1 712.8L323.6 716.3L325.1 720.1L326.6 724.2L328.1 728.3L329.6 732.3L331.1 736L332.6 739.6L334 743.2L335.5 746.6L337 749.7L338.5 752.4L340 754.8L341.5 756.9L343 758.7L344.5 760.1L346 761.3L347.4 762.3L348.9 762.7L350.4 762.6L351.9 762.3L353.4 761.9L354.9 761.4L356.4 760.7L357.9 759.6L359.3 758.2L360.8 756L362.3 751.7L363.8 747.6L365.3 744.6L366.8 741.7L368.3 738.6L369.8 735L371.2 731.1L372.7 727.1L374.2 723.1L375.7 719.3L377.2 715.7L378.7 712.1L380.2 708.6L381.7 705.3L383.1 702.4L384.6 700L386.1 697.8L387.6 695.8L389.1 694.3L390.6 693.2L392.1 692.3L393.6 691.6L395 691.4L396.5 691.9L398 693L399.5 694.3L401 696.3L402.5 698.8L404 701.5L405.5 704.3L406.9 707.4L408.4 710.7L409.9 714.4L411.4 718.5L412.9 723.6L414.4 729.3L415.9 735.2L417.4 740.8L418.8 746.2L420.3 751.4L421.8 755.9L423.3 759.5L424.8 762.8L426.3 766.1L427.8 769.9L429.3 774L430.7 778.3L432.2 782.4L433.7 786.1L435.2 789.3L436.7 792.2L438.2 795L439.7 797.8L441.2 800.6L442.6 803.5L444.1 806.3L445.6 809.1L447.1 811.8L448.6 814.6L450.1 817.3L451.6 820L453.1 822.4L454.5 824.4L456 826.3L457.5 828.1L459 829.8L460.5 831.4L462 832.8L463.5 834.2L465 835.5L466.4 836.7L467.9 838L469.4 839.1L470.9 840.2L472.4 841L473.9 841.7L475.4 842.2L476.9 842.6L478.3 843L479.8 843.3L481.3 843.7L482.8 843.9L484.3 844.2L485.8 844.4L487.3 844.6L488.8 844.8L490.2 845L491.7 845.2L493.2 845.3L494.7 845.5L496.2 845.6L497.7 845.7L499.2 845.9L500.7 846L502.1 846.1L503.6 846.1L505.1 846.2L506.6 846.2L508.1 846.2L509.6 846.3L511.1 846.3L512.6 846.3L514 846.4L515.5 846.4L517 846.4L518.5 846.4L520 846.5L521.5 846.5L523 846.5L524.5 846.5L526 846.5L527.4 846.5L528.9 846.6L530.4 846.6L531.9 846.6L533.4 846.6L534.9 846.6L536.4 846.6L537.9 846.6L539.3 846.7L540.8 846.7L542.3 846.7L543.8 846.7L545.3 846.7L546.8 846.7L548.3 846.7L549.8 846.7L551.2 846.7L552.7 846.7L554.2 846.8L555.7 846.8L557.2 846.8L558.7 846.8L560.2 846.8L561.7 846.8L563.1 846.8L564.6 846.8L566.1 846.8L567.6 846.8L569.1 846.8L570.6 846.9L572.1 846.9L573.6 846.9L575 846.9L576.5 846.9L578 846.9L579.5 846.9L581 846.9L582.5 846.9L584 846.9L585.5 846.9L586.9 846.9L588.4 846.9L589.9 846.9L591.4 847L592.9 847L594.4 847L595.9 847L597.4 847L598.8 847L600.3 847L601.8 847L603.3 847L604.8 847L606.3 847L607.8 847L607.9 847" stroke="#030367" stroke-width="1.7" fill="none" stroke-linejoin="round" stroke-dasharray="8.4 6.9"/>
<path d="M72.2 847L73.7 847L75.2 847L76.7 847L78.2 847L79.7 846.9L81.2 846.9L82.6 846.9L84.1 846.9L85.6 846.9L87.1 846.8L88.6 846.8L90.1 846.8L91.6 846.7L93.1 846.7L94.5 846.7L96 846.6L97.5 846.6L99 846.5L100.5 846.5L102 846.4L103.5 846.4L105 846.4L106.4 846.3L107.9 846.3L109.4 846.2L110.9 846.2L112.4 846.1L113.9 846.1L115.4 846L116.9 846L118.3 845.9L119.8 845.9L121.3 845.8L122.8 845.7L124.3 845.7L125.8 845.6L127.3 845.5L128.8 845.5L130.2 845.4L131.7 845.3L133.2 845.2L134.7 845.1L136.2 845L137.7 844.9L139.2 844.8L140.7 844.7L142.1 844.6L143.6 844.5L145.1 844.3L146.6 844.2L148.1 844.1L149.6 843.9L151.1 843.7L152.6 843.5L154 843.2L155.5 842.9L157 842.6L158.5 842.3L160 841.9L161.5 841.6L163 841.2L164.5 840.8L166 840.4L167.4 840L168.9 839.6L170.4 839.2L171.9 838.9L173.4 838.5L174.9 838.2L176.4 837.9L177.9 837.6L179.3 837.3L180.8 837L182.3 836.7L183.8 836.4L185.3 836.1L186.8 835.8L188.3 835.5L189.8 835.1L191.2 834.8L192.7 834.4L194.2 834L195.7 833.6L197.2 833.2L198.7 832.7L200.2 832.3L201.7 831.8L203.1 831.3L204.6 830.8L206.1 830.3L207.6 829.7L209.1 829.1L210.6 828.5L212.1 827.7L213.6 826.9L215 826.1L216.5 825.3L218 824.4L219.5 823.5L221 822.7L222.5 821.8L224 820.9L225.5 820.1L226.9 819.3L228.4 818.5L229.9 817.7L231.4 816.9L232.9 816L234.4 815.2L235.9 814.4L237.4 813.6L238.8 812.8L240.3 812L241.8 811.2L243.3 810.4L244.8 809.6L246.3 808.9L247.8 808.1L249.3 807.4L250.7 806.6L252.2 805.9L253.7 805.2L255.2 804.5L256.7 803.8L258.2 803.2L259.7 802.7L261.2 802.1L262.6 801.6L264.1 801.2L265.6 800.8L267.1 800.4L268.6 800.2L270.1 799.9L271.6 799.7L273.1 799.5L274.5 799.4L276 799.3L277.5 799.3L279 799.3L280.5 799.3L282 799.3L283.5 799.4L285 799.4L286.4 799.4L287.9 799.5L289.4 799.5L290.9 799.5L292.4 799.6L293.9 799.6L295.4 799.6L296.9 799.7L298.3 799.7L299.8 799.7L301.3 799.7L302.8 799.8L304.3 799.8L305.8 799.8L307.3 799.8L308.8 799.8L310.2 799.8L311.7 799.8L313.2 799.8L314.7 799.8L316.2 799.7L317.7 799.7L319.2 799.7L320.7 799.7L322.1 799.7L323.6 799.6L325.1 799.6L326.6 799.6L328.1 799.6L329.6 799.5L331.1 799.5L332.6 799.5L334 799.5L335.5 799.4L337 799.4L338.5 799.4L340 799.4L341.5 799.3L343 799.3L344.5 799.3L346 799.3L347.4 799.3L348.9 799.3L350.4 799.3L351.9 799.3L353.4 799.4L354.9 799.5L356.4 799.6L357.9 799.7L359.3 799.8L360.8 800L362.3 800.1L363.8 800.3L365.3 800.5L366.8 800.7L368.3 801.1L369.8 801.5L371.2 802L372.7 802.6L374.2 803.2L375.7 803.8L377.2 804.4L378.7 805.1L380.2 805.7L381.7 806.3L383.1 807L384.6 807.7L386.1 808.4L387.6 809.2L389.1 809.9L390.6 810.7L392.1 811.5L393.6 812.3L395 813.1L396.5 813.8L398 814.6L399.5 815.3L401 816.1L402.5 816.8L404 817.6L405.5 818.4L406.9 819.1L408.4 819.9L409.9 820.6L411.4 821.3L412.9 822.1L414.4 822.8L415.9 823.5L417.4 824.2L418.8 824.9L420.3 825.6L421.8 826.3L423.3 827L424.8 827.6L426.3 828.3L427.8 828.9L429.3 829.5L430.7 830L432.2 830.6L433.7 831.2L435.2 831.7L436.7 832.3L438.2 832.8L439.7 833.3L441.2 833.8L442.6 834.3L444.1 834.7L445.6 835.1L447.1 835.6L448.6 836L450.1 836.4L451.6 836.7L453.1 837.1L454.5 837.5L456 837.8L457.5 838.2L459 838.5L460.5 838.8L462 839.2L463.5 839.5L465 839.8L466.4 840.1L467.9 840.4L469.4 840.7L470.9 841L472.4 841.3L473.9 841.6L475.4 841.9L476.9 842.1L478.3 842.3L479.8 842.6L481.3 842.8L482.8 842.9L484.3 843.1L485.8 843.3L487.3 843.5L488.8 843.6L490.2 843.8L491.7 844L493.2 844.1L494.7 844.2L496.2 844.4L497.7 844.5L499.2 844.6L500.7 844.7L502.1 844.9L503.6 845L505.1 845L506.6 845.1L508.1 845.2L509.6 845.3L511.1 845.3L512.6 845.4L514 845.4L515.5 845.5L517 845.5L518.5 845.6L520 845.7L521.5 845.7L523 845.8L524.5 845.8L526 845.8L527.4 845.9L528.9 845.9L530.4 846L531.9 846L533.4 846.1L534.9 846.1L536.4 846.1L537.9 846.2L539.3 846.2L540.8 846.2L542.3 846.3L543.8 846.3L545.3 846.3L546.8 846.4L548.3 846.4L549.8 846.4L551.2 846.4L552.7 846.5L554.2 846.5L555.7 846.5L557.2 846.5L558.7 846.6L560.2 846.6L561.7 846.6L563.1 846.6L564.6 846.6L566.1 846.7L567.6 846.7L569.1 846.7L570.6 846.7L572.1 846.7L573.6 846.7L575 846.8L576.5 846.8L578 846.8L579.5 846.8L581 846.8L582.5 846.8L584 846.9L585.5 846.9L586.9 846.9L588.4 846.9L589.9 846.9L591.4 846.9L592.9 846.9L594.4 846.9L595.9 847L597.4 847L598.8 847L600.3 847L601.8 847L603.3 847L604.8 847L606.3 847L607.8 847L607.9 847" stroke="#0d5b0d" stroke-width="1.7" fill="none" stroke-linejoin="round"/>
<path d="M72.2 847L73.7 847L75.2 847L76.7 847L78.2 847L79.7 847L81.2 846.9L82.6 846.9L84.1 846.9L85.6 846.9L87.1 846.8L88.6 846.8L90.1 846.8L91.6 846.7L93.1 846.7L94.5 846.7L96 846.6L97.5 846.6L99 846.6L100.5 846.5L102 846.5L103.5 846.4L105 846.4L106.4 846.3L107.9 846.3L109.4 846.2L110.9 846.2L112.4 846.1L113.9 846.1L115.4 846L116.9 846L118.3 845.9L119.8 845.8L121.3 845.8L122.8 845.7L124.3 845.6L125.8 845.6L127.3 845.5L128.8 845.4L130.2 845.3L131.7 845.2L133.2 845.1L134.7 845L136.2 844.9L137.7 844.8L139.2 844.7L140.7 844.6L142.1 844.4L143.6 844.3L145.1 844.2L146.6 844L148.1 843.9L149.6 843.7L151.1 843.5L152.6 843.3L154 843L155.5 842.7L157 842.4L158.5 842.1L160 841.7L161.5 841.3L163 841L164.5 840.6L166 840.2L167.4 839.8L168.9 839.4L170.4 839L171.9 838.7L173.4 838.3L174.9 838L176.4 837.7L177.9 837.4L179.3 837.1L180.8 836.8L182.3 836.5L183.8 836.2L185.3 835.9L186.8 835.6L188.3 835.3L189.8 834.9L191.2 834.6L192.7 834.2L194.2 833.8L195.7 833.4L197.2 833L198.7 832.5L200.2 832.1L201.7 831.6L203.1 831.1L204.6 830.6L206.1 830.1L207.6 829.5L209.1 828.9L210.6 828.3L212.1 827.5L213.6 826.8L215 825.9L216.5 825.1L218 824.2L219.5 823.4L221 822.5L222.5 821.6L224 820.8L225.5 819.9L226.9 819.1L228.4 818.3L229.9 817.4L231.4 816.6L232.9 815.8L234.4 814.9L235.9 814.1L237.4 813.2L238.8 812.4L240.3 811.5L241.8 810.7L243.3 809.8L244.8 809L246.3 808.1L247.8 807.3L249.3 806.4L250.7 805.6L252.2 804.8L253.7 804L255.2 803.3L256.7 802.5L258.2 801.9L259.7 801.2L261.2 800.6L262.6 800L264.1 799.4L265.6 799L267.1 798.5L268.6 798.2L270.1 797.9L271.6 797.7L273.1 797.4L274.5 797.3L276 797.2L277.5 797.2L279 797.2L280.5 797.1L282 797.1L283.5 797.1L285 797.1L286.4 797.1L287.9 797.1L289.4 797.1L290.9 797L292.4 797L293.9 797L295.4 797L296.9 797L298.3 797L299.8 797L301.3 797L302.8 797L304.3 797L305.8 797L307.3 797L308.8 797L310.2 797L311.7 797L313.2 797L314.7 797L316.2 797L317.7 797L319.2 797L320.7 797L322.1 797L323.6 797L325.1 797L326.6 797L328.1 797L329.6 797L331.1 797L332.6 797L334 797L335.5 797L337 797L338.5 797L340 797L341.5 797L343 797L344.5 797L346 797L347.4 797L348.9 797L350.4 797L351.9 797.1L353.4 797.2L354.9 797.4L356.4 797.5L357.9 797.8L359.3 798L360.8 798.3L362.3 798.5L363.8 798.8L365.3 799.2L366.8 799.5L368.3 799.8L369.8 800.1L371.2 800.5L372.7 800.9L374.2 801.3L375.7 801.8L377.2 802.3L378.7 802.8L380.2 803.4L381.7 804L383.1 804.7L384.6 805.3L386.1 806L387.6 806.8L389.1 807.6L390.6 808.6L392.1 809.6L393.6 810.6L395 811.5L396.5 812.4L398 813.2L399.5 814L401 814.8L402.5 815.6L404 816.3L405.5 817.1L406.9 817.8L408.4 818.5L409.9 819.2L411.4 819.9L412.9 820.7L414.4 821.4L415.9 822.1L417.4 822.8L418.8 823.5L420.3 824.3L421.8 825L423.3 825.7L424.8 826.4L426.3 827.1L427.8 827.8L429.3 828.4L430.7 829.1L432.2 829.7L433.7 830.3L435.2 830.9L436.7 831.5L438.2 832.1L439.7 832.6L441.2 833.1L442.6 833.6L444.1 834.1L445.6 834.5L447.1 835L448.6 835.5L450.1 835.9L451.6 836.3L453.1 836.8L454.5 837.2L456 837.6L457.5 837.9L459 838.3L460.5 838.6L462 839L463.5 839.3L465 839.6L466.4 839.9L467.9 840.2L469.4 840.5L470.9 840.8L472.4 841.1L473.9 841.3L475.4 841.6L476.9 841.9L478.3 842.1L479.8 842.4L481.3 842.6L482.8 842.9L484.3 843.1L485.8 843.3L487.3 843.5L488.8 843.7L490.2 843.8L491.7 844L493.2 844.1L494.7 844.2L496.2 844.3L497.7 844.4L499.2 844.5L500.7 844.6L502.1 844.7L503.6 844.7L505.1 844.8L506.6 844.9L508.1 845L509.6 845.1L511.1 845.1L512.6 845.2L514 845.3L515.5 845.3L517 845.4L518.5 845.5L520 845.5L521.5 845.6L523 845.6L524.5 845.7L526 845.7L527.4 845.8L528.9 845.8L530.4 845.9L531.9 845.9L533.4 846L534.9 846L536.4 846.1L537.9 846.1L539.3 846.2L540.8 846.2L542.3 846.2L543.8 846.3L545.3 846.3L546.8 846.3L548.3 846.4L549.8 846.4L551.2 846.4L552.7 846.5L554.2 846.5L555.7 846.5L557.2 846.5L558.7 846.6L560.2 846.6L561.7 846.6L563.1 846.6L564.6 846.6L566.1 846.7L567.6 846.7L569.1 846.7L570.6 846.7L572.1 846.7L573.6 846.8L575 846.8L576.5 846.8L578 846.8L579.5 846.8L581 846.8L582.5 846.9L584 846.9L585.5 846.9L586.9 846.9L588.4 846.9L589.9 846.9L591.4 846.9L592.9 846.9L594.4 847L595.9 847L597.4 847L598.8 847L600.3 847L601.8 847L603.3 847L604.8 847L606.3 847L607.8 847L607.9 847" stroke="#790d79" stroke-width="1.7" fill="none" stroke-linejoin="round" stroke-dasharray="8.4 6.9"/>
<path d="M72.2 843.3L73.7 843.3L75.2 843.3L76.7 843.3L78.2 843.3L79.7 843.3L81.2 843.3L82.6 843.3L84.1 843.4L85.6 843.4L87.1 843.4L88.6 843.4L90.1 843.4L91.6 843.4L93.1 843.4L94.5 843.4L96 843.4L97.5 843.4L99 843.4L100.5 843.4L102 843.4L103.5 843.5L105 843.5L106.4 843.5L107.9 843.5L109.4 843.5L110.9 843.5L112.4 843.5L113.9 843.5L115.4 843.5L116.9 843.5L118.3 843.5L119.8 843.5L121.3 843.5L122.8 843.6L124.3 843.6L125.8 843.6L127.3 843.6L128.8 843.6L130.2 843.6L131.7 843.6L133.2 843.6L134.7 843.6L136.2 843.6L137.7 843.6L139.2 843.7L140.7 843.7L142.1 843.7L143.6 843.7L145.1 843.7L146.6 843.7L148.1 843.7L149.6 843.7L151.1 843.7L152.6 843.7L154 843.7L155.5 843.8L157 843.8L158.5 843.8L160 843.8L161.5 843.8L163 843.8L164.5 843.8L166 843.8L167.4 843.8L168.9 843.8L170.4 843.8L171.9 843.9L173.4 843.9L174.9 843.9L176.4 843.9L177.9 843.9L179.3 843.9L180.8 843.9L182.3 843.9L183.8 843.9L185.3 843.9L186.8 844L188.3 844L189.8 844L191.2 844L192.7 844L194.2 844L195.7 844L197.2 844L198.7 844L200.2 844L201.7 844.1L203.1 844.1L204.6 844.1L206.1 844.1L207.6 844.1L209.1 844.1L210.6 844.1L212.1 844.1L213.6 844.1L215 844.2L216.5 844.2L218 844.2L219.5 844.2L221 844.2L222.5 844.2L224 844.2L225.5 844.2L226.9 844.2L228.4 844.3L229.9 844.3L231.4 844.3L232.9 844.3L234.4 844.3L235.9 844.3L237.4 844.3L238.8 844.3L240.3 844.3L241.8 844.4L243.3 844.4L244.8 844.4L246.3 844.4L247.8 844.4L249.3 844.4L250.7 844.4L252.2 844.4L253.7 844.4L255.2 844.5L256.7 844.5L258.2 844.5L259.7 844.5L261.2 844.5L262.6 844.5L264.1 844.5L265.6 844.6L267.1 844.6L268.6 844.6L270.1 844.6L271.6 844.6L273.1 844.6L274.5 844.6L276 844.7L277.5 844.7L279 844.7L280.5 844.7L282 844.7L283.5 844.7L285 844.7L286.4 844.8L287.9 844.8L289.4 844.8L290.9 844.8L292.4 844.8L293.9 844.8L295.4 844.9L296.9 844.9L298.3 844.9L299.8 844.9L301.3 844.9L302.8 844.9L304.3 845L305.8 845L307.3 845L308.8 845L310.2 845L311.7 845L313.2 845.1L314.7 845.1L316.2 845.1L317.7 845.1L319.2 845.1L320.7 845.1L322.1 845.2L323.6 845.2L325.1 845.2L326.6 845.2L328.1 845.2L329.6 845.2L331.1 845.3L332.6 845.3L334 845.3L335.5 845.3L337 845.3L338.5 845.3L340 845.4L341.5 845.4L343 845.4L344.5 845.4L346 845.4L347.4 845.4L348.9 845.5L350.4 845.5L351.9 845.5L353.4 845.5L354.9 845.5L356.4 845.5L357.9 845.6L359.3 845.6L360.8 845.6L362.3 845.6L363.8 845.6L365.3 845.6L366.8 845.6L368.3 845.7L369.8 845.7L371.2 845.7L372.7 845.7L374.2 845.7L375.7 845.7L377.2 845.7L378.7 845.8L380.2 845.8L381.7 845.8L383.1 845.8L384.6 845.8L386.1 845.8L387.6 845.8L389.1 845.8L390.6 845.9L392.1 845.9L393.6 845.9L395 845.9L396.5 845.9L398 845.9L399.5 845.9L401 845.9L402.5 845.9L404 846L405.5 846L406.9 846L408.4 846L409.9 846L411.4 846L412.9 846L414.4 846L415.9 846L417.4 846L418.8 846L420.3 846L421.8 846L423.3 846L424.8 846.1L426.3 846.1L427.8 846.1L429.3 846.1L430.7 846.1L432.2 846.1L433.7 846.1L435.2 846.1L436.7 846.1L438.2 846.1L439.7 846.1L441.2 846.1L442.6 846.1L444.1 846.1L445.6 846.2L447.1 846.2L448.6 846.2L450.1 846.2L451.6 846.2L453.1 846.2L454.5 846.2L456 846.2L457.5 846.2L459 846.2L460.5 846.2L462 846.2L463.5 846.2L465 846.2L466.4 846.2L467.9 846.2L469.4 846.3L470.9 846.3L472.4 846.3L473.9 846.3L475.4 846.3L476.9 846.3L478.3 846.3L479.8 846.3L481.3 846.3L482.8 846.3L484.3 846.3L485.8 846.3L487.3 846.3L488.8 846.3L490.2 846.3L491.7 846.3L493.2 846.4L494.7 846.4L496.2 846.4L497.7 846.4L499.2 846.4L500.7 846.4L502.1 846.4L503.6 846.4L505.1 846.4L506.6 846.4L508.1 846.4L509.6 846.4L511.1 846.4L512.6 846.4L514 846.4L515.5 846.4L517 846.4L518.5 846.4L520 846.4L521.5 846.5L523 846.5L524.5 846.5L526 846.5L527.4 846.5L528.9 846.5L530.4 846.5L531.9 846.5L533.4 846.5L534.9 846.5L536.4 846.5L537.9 846.5L539.3 846.5L540.8 846.5L542.3 846.5L543.8 846.5L545.3 846.5L546.8 846.5L548.3 846.5L549.8 846.5L551.2 846.5L552.7 846.5L554.2 846.5L555.7 846.5L557.2 846.5L558.7 846.5L560.2 846.6L561.7 846.6L563.1 846.6L564.6 846.6L566.1 846.6L567.6 846.6L569.1 846.6L570.6 846.6L572.1 846.6L573.6 846.6L575 846.6L576.5 846.6L578 846.6L579.5 846.6L581 846.6L582.5 846.6L584 846.6L585.5 846.6L586.9 846.6L588.4 846.6L589.9 846.6L591.4 846.6L592.9 846.6L594.4 846.6L595.9 846.6L597.4 846.6L598.8 846.6L600.3 846.6L601.8 846.6L603.3 846.6L604.8 846.6L606.3 846.6L607.8 846.6L607.9 846.6" stroke="#ea9023" stroke-width="1.7" fill="none" stroke-linejoin="round" stroke-dasharray="8.4 6.9"/>
<path d="M72.2 846.8L73.7 846.8L75.2 846.8L76.7 846.8L78.2 846.8L79.7 846.8L81.2 846.8L82.6 846.8L84.1 846.8L85.6 846.8L87.1 846.8L88.6 846.8L90.1 846.8L91.6 846.8L93.1 846.8L94.5 846.8L96 846.8L97.5 846.8L99 846.8L100.5 846.8L102 846.8L103.5 846.8L105 846.8L106.4 846.8L107.9 846.8L109.4 846.8L110.9 846.8L112.4 846.8L113.9 846.8L115.4 846.8L116.9 846.8L118.3 846.8L119.8 846.8L121.3 846.8L122.8 846.8L124.3 846.8L125.8 846.8L127.3 846.8L128.8 846.8L130.2 846.8L131.7 846.8L133.2 846.8L134.7 846.8L136.2 846.8L137.7 846.8L139.2 846.8L140.7 846.8L142.1 846.8L143.6 846.8L145.1 846.8L146.6 846.8L148.1 846.8L149.6 846.8L151.1 846.8L152.6 846.8L154 846.8L155.5 846.8L157 846.8L158.5 846.8L160 846.8L161.5 846.8L163 846.8L164.5 846.8L166 846.8L167.4 846.8L168.9 846.8L170.4 846.8L171.9 846.8L173.4 846.8L174.9 846.8L176.4 846.8L177.9 846.8L179.3 846.8L180.8 846.8L182.3 846.8L183.8 846.8L185.3 846.8L186.8 846.8L188.3 846.8L189.8 846.8L191.2 846.8L192.7 846.8L194.2 846.8L195.7 846.8L197.2 846.8L198.7 846.8L200.2 846.8L201.7 846.8L203.1 846.8L204.6 846.8L206.1 846.8L207.6 846.9L209.1 846.9L210.6 846.9L212.1 846.9L213.6 846.9L215 846.9L216.5 846.9L218 846.9L219.5 846.9L221 846.9L222.5 846.9L224 846.9L225.5 846.9L226.9 846.9L228.4 846.9L229.9 846.9L231.4 846.9L232.9 846.9L234.4 846.9L235.9 846.9L237.4 846.9L238.8 846.9L240.3 846.9L241.8 846.9L243.3 846.9L244.8 846.9L246.3 846.9L247.8 846.9L249.3 846.9L250.7 846.9L252.2 846.9L253.7 846.9L255.2 846.9L256.7 846.9L258.2 846.9L259.7 846.9L261.2 846.9L262.6 846.9L264.1 846.9L265.6 846.9L267.1 846.9L268.6 846.9L270.1 846.9L271.6 846.9L273.1 846.9L274.5 846.9L276 846.9L277.5 846.9L279 846.9L280.5 846.9L282 846.9L283.5 846.9L285 846.9L286.4 846.9L287.9 846.9L289.4 846.9L290.9 846.9L292.4 846.9L293.9 846.9L295.4 846.9L296.9 846.9L298.3 846.9L299.8 846.9L301.3 846.9L302.8 846.9L304.3 846.9L305.8 846.9L307.3 846.9L308.8 846.9L310.2 846.9L311.7 846.9L313.2 846.9L314.7 846.9L316.2 846.9L317.7 846.9L319.2 846.9L320.7 846.9L322.1 846.9L323.6 846.9L325.1 846.9L326.6 846.9L328.1 846.9L329.6 846.9L331.1 846.9L332.6 846.9L334 846.9L335.5 846.9L337 846.9L338.5 846.9L340 846.9L341.5 846.9L343 846.9L344.5 846.9L346 846.9L347.4 846.9L348.9 846.9L350.4 846.9L351.9 846.9L353.4 846.9L354.9 846.9L356.4 846.9L357.9 846.9L359.3 846.9L360.8 846.9L362.3 846.9L363.8 846.9L365.3 846.9L366.8 846.9L368.3 846.9L369.8 846.9L371.2 846.9L372.7 846.9L374.2 846.9L375.7 846.9L377.2 846.9L378.7 846.9L380.2 846.9L381.7 846.9L383.1 846.9L384.6 846.9L386.1 846.9L387.6 846.9L389.1 846.9L390.6 846.9L392.1 846.9L393.6 846.9L395 846.9L396.5 846.9L398 846.9L399.5 846.9L401 846.9L402.5 846.9L404 846.9L405.5 846.9L406.9 846.9L408.4 846.9L409.9 846.9L411.4 846.9L412.9 846.9L414.4 846.9L415.9 846.9L417.4 846.9L418.8 846.9L420.3 846.9L421.8 846.9L423.3 846.9L424.8 846.9L426.3 846.9L427.8 846.9L429.3 846.9L430.7 846.9L432.2 846.9L433.7 846.9L435.2 846.9L436.7 846.9L438.2 846.9L439.7 846.9L441.2 846.9L442.6 846.9L444.1 846.9L445.6 846.9L447.1 846.9L448.6 846.9L450.1 846.9L451.6 846.9L453.1 846.9L454.5 846.9L456 846.9L457.5 846.9L459 846.9L460.5 846.9L462 846.9L463.5 846.9L465 846.9L466.4 846.9L467.9 846.9L469.4 846.9L470.9 846.9L472.4 846.9L473.9 846.9L475.4 847L476.9 847L478.3 847L479.8 847L481.3 847L482.8 847L484.3 847L485.8 847L487.3 847L488.8 847L490.2 847L491.7 847L493.2 847L494.7 847L496.2 847L497.7 847L499.2 847L500.7 847L502.1 847L503.6 847L505.1 847L506.6 847L508.1 847L509.6 847L511.1 847L512.6 847L514 847L515.5 847L517 847L518.5 847L520 847L521.5 847L523 847L524.5 847L526 847L527.4 847L528.9 847L530.4 847L531.9 847L533.4 847L534.9 847L536.4 847L537.9 847L539.3 847L540.8 847L542.3 847L543.8 847L545.3 847L546.8 847L548.3 847L549.8 847L551.2 847L552.7 847L554.2 847L555.7 847L557.2 847L558.7 847L560.2 847L561.7 847L563.1 847L564.6 847L566.1 847L567.6 847L569.1 847L570.6 847L572.1 847L573.6 847L575 847L576.5 847L578 847L579.5 847L581 847L582.5 847L584 847L585.5 847L586.9 847L588.4 847L589.9 847L591.4 847L592.9 847L594.4 847L595.9 847L597.4 847L598.8 847L600.3 847L601.8 847L603.3 847L604.8 847L606.3 847L607.8 847L607.9 847" stroke="#de278a" stroke-width="1.7" fill="none" stroke-linejoin="round"/>
<path d="M72.2 847.3L73.7 847.3L75.2 847.3L76.7 847.3L78.2 847.3L79.7 847.3L81.2 847.3L82.6 847.3L84.1 847.3L85.6 847.3L87.1 847.3L88.6 847.3L90.1 847.3L91.6 847.3L93.1 847.3L94.5 847.3L96 847.2L97.5 847.2L99 847.2L100.5 847.2L102 847.2L103.5 847.2L105 847.2L106.4 847.2L107.9 847.2L109.4 847.2L110.9 847.2L112.4 847.1L113.9 847.1L115.4 847.1L116.9 847.1L118.3 847.1L119.8 847.1L121.3 847.1L122.8 847.1L124.3 847L125.8 847L127.3 847L128.8 847L130.2 847L131.7 847L133.2 847L134.7 846.9L136.2 846.9L137.7 846.9L139.2 846.9L140.7 846.9L142.1 846.8L143.6 846.8L145.1 846.8L146.6 846.8L148.1 846.8L149.6 846.7L151.1 846.7L152.6 846.7L154 846.7L155.5 846.7L157 846.6L158.5 846.6L160 846.6L161.5 846.6L163 846.5L164.5 846.5L166 846.5L167.4 846.5L168.9 846.4L170.4 846.4L171.9 846.3L173.4 846.3L174.9 846.2L176.4 846.1L177.9 846L179.3 846L180.8 845.9L182.3 845.8L183.8 845.7L185.3 845.6L186.8 845.5L188.3 845.4L189.8 845.2L191.2 845.1L192.7 845L194.2 844.9L195.7 844.7L197.2 844.6L198.7 844.5L200.2 844.4L201.7 844.2L203.1 844.1L204.6 843.9L206.1 843.7L207.6 843.6L209.1 843.4L210.6 843.1L212.1 842.9L213.6 842.7L215 842.4L216.5 842.2L218 841.9L219.5 841.7L221 841.4L222.5 841.1L224 840.9L225.5 840.6L226.9 840.3L228.4 840L229.9 839.7L231.4 839.4L232.9 839.1L234.4 838.8L235.9 838.5L237.4 838.1L238.8 837.8L240.3 837.4L241.8 837L243.3 836.6L244.8 836.2L246.3 835.8L247.8 835.3L249.3 834.9L250.7 834.3L252.2 833.8L253.7 833.2L255.2 832.6L256.7 832L258.2 831.4L259.7 830.7L261.2 830L262.6 829.4L264.1 828.7L265.6 828L267.1 827.3L268.6 826.6L270.1 825.9L271.6 825.2L273.1 824.4L274.5 823.7L276 822.9L277.5 822.1L279 821.4L280.5 820.7L282 820.1L283.5 819.5L285 818.9L286.4 818.4L287.9 817.9L289.4 817.4L290.9 816.9L292.4 816.4L293.9 815.9L295.4 815.4L296.9 814.9L298.3 814.4L299.8 813.9L301.3 813.5L302.8 813L304.3 812.5L305.8 812L307.3 811.6L308.8 811.1L310.2 810.7L311.7 810.3L313.2 809.9L314.7 809.6L316.2 809.2L317.7 808.9L319.2 808.5L320.7 808.2L322.1 807.9L323.6 807.6L325.1 807.3L326.6 807.1L328.1 806.9L329.6 806.7L331.1 806.5L332.6 806.4L334 806.2L335.5 806.1L337 806L338.5 805.9L340 805.8L341.5 805.7L343 805.6L344.5 805.6L346 805.6L347.4 805.6L348.9 805.6L350.4 805.6L351.9 805.6L353.4 805.6L354.9 805.6L356.4 805.6L357.9 805.6L359.3 805.6L360.8 805.6L362.3 805.6L363.8 805.6L365.3 805.6L366.8 805.6L368.3 805.6L369.8 805.6L371.2 805.6L372.7 805.6L374.2 805.6L375.7 805.6L377.2 805.6L378.7 805.6L380.2 805.7L381.7 805.7L383.1 805.8L384.6 805.9L386.1 806L387.6 806.1L389.1 806.2L390.6 806.3L392.1 806.4L393.6 806.5L395 806.6L396.5 806.7L398 806.9L399.5 807L401 807.1L402.5 807.2L404 807.4L405.5 807.5L406.9 807.7L408.4 807.8L409.9 808L411.4 808.1L412.9 808.3L414.4 808.5L415.9 808.7L417.4 808.9L418.8 809.1L420.3 809.4L421.8 809.6L423.3 809.9L424.8 810.2L426.3 810.5L427.8 810.9L429.3 811.3L430.7 811.8L432.2 812.3L433.7 812.8L435.2 813.3L436.7 813.8L438.2 814.3L439.7 814.9L441.2 815.5L442.6 816.1L444.1 816.8L445.6 817.5L447.1 818.2L448.6 818.9L450.1 819.6L451.6 820.3L453.1 821L454.5 821.7L456 822.3L457.5 823L459 823.6L460.5 824.2L462 824.9L463.5 825.5L465 826.1L466.4 826.7L467.9 827.3L469.4 827.8L470.9 828.3L472.4 828.9L473.9 829.3L475.4 829.8L476.9 830.3L478.3 830.7L479.8 831.2L481.3 831.6L482.8 832L484.3 832.5L485.8 832.9L487.3 833.3L488.8 833.7L490.2 834.1L491.7 834.6L493.2 835L494.7 835.4L496.2 835.8L497.7 836.3L499.2 836.7L500.7 837.1L502.1 837.4L503.6 837.8L505.1 838.1L506.6 838.5L508.1 838.8L509.6 839.1L511.1 839.3L512.6 839.6L514 839.9L515.5 840.1L517 840.3L518.5 840.6L520 840.8L521.5 841L523 841.2L524.5 841.4L526 841.6L527.4 841.8L528.9 842L530.4 842.2L531.9 842.4L533.4 842.5L534.9 842.7L536.4 842.9L537.9 843L539.3 843.2L540.8 843.4L542.3 843.5L543.8 843.7L545.3 843.8L546.8 844L548.3 844.1L549.8 844.3L551.2 844.4L552.7 844.6L554.2 844.7L555.7 844.8L557.2 844.9L558.7 845.1L560.2 845.2L561.7 845.3L563.1 845.4L564.6 845.5L566.1 845.6L567.6 845.7L569.1 845.7L570.6 845.8L572.1 845.9L573.6 846L575 846L576.5 846.1L578 846.2L579.5 846.2L581 846.3L582.5 846.4L584 846.4L585.5 846.5L586.9 846.5L588.4 846.6L589.9 846.6L591.4 846.7L592.9 846.7L594.4 846.8L595.9 846.8L597.4 846.9L598.8 846.9L600.3 846.9L601.8 846.9L603.3 847L604.8 847L606.3 847L607.8 847L607.9 847" stroke="#720fd6" stroke-width="1.7" fill="none" stroke-linejoin="round" stroke-dasharray="8.4 6.9"/>
<path d="M61.16 661.3 H83.97" stroke="#d81111" stroke-width="1.85" fill="none"/>
<path d="M61.16 674.75 H69.26 M76.36 674.75 H83.97" stroke="#0606cd" stroke-width="1.85" fill="none"/>
<path d="M61.16 688.2 H69.26 M76.36 688.2 H83.97" stroke="#de17de" stroke-width="1.85" fill="none"/>
<path d="M61.16 701.65 H83.97" stroke="#32eaea" stroke-width="1.85" fill="none"/>
<path d="M61.16 715.1 H69.26 M76.36 715.1 H83.97" stroke="#030367" stroke-width="1.85" fill="none"/>
<path d="M61.16 728.55 H83.97" stroke="#0d5b0d" stroke-width="1.85" fill="none"/>
<path d="M61.16 742 H69.26 M76.36 742 H83.97" stroke="#790d79" stroke-width="1.85" fill="none"/>
<path d="M61.16 755.45 H69.26 M76.36 755.45 H83.97" stroke="#ea9023" stroke-width="1.85" fill="none"/>
<path d="M61.16 768.9 H83.97" stroke="#de278a" stroke-width="1.85" fill="none"/>
<path d="M61.16 782.35 H69.26 M76.36 782.35 H83.97" stroke="#720fd6" stroke-width="1.85" fill="none"/>
<!-- right: DCS-12 -->
<rect x="705.04" y="27.5" width="579.59" height="207.95" fill="none" stroke="#1c1c1c" stroke-width="1"/>
<line x1="712.31" y1="235.45" x2="712.31" y2="241.45" stroke="#1c1c1c" stroke-width="1"/>
<line x1="853.43" y1="235.45" x2="853.43" y2="241.45" stroke="#1c1c1c" stroke-width="1"/>
<line x1="994.55" y1="235.45" x2="994.55" y2="241.45" stroke="#1c1c1c" stroke-width="1"/>
<line x1="1135.66" y1="235.45" x2="1135.66" y2="241.45" stroke="#1c1c1c" stroke-width="1"/>
<line x1="1276.78" y1="235.45" x2="1276.78" y2="241.45" stroke="#1c1c1c" stroke-width="1"/>
<line x1="698.1" y1="228.3" x2="705.04" y2="228.3" stroke="#1c1c1c" stroke-width="1"/>
<line x1="698.1" y1="180.1" x2="705.04" y2="180.1" stroke="#1c1c1c" stroke-width="1"/>
<line x1="698.1" y1="131.9" x2="705.04" y2="131.9" stroke="#1c1c1c" stroke-width="1"/>
<line x1="698.1" y1="83.7" x2="705.04" y2="83.7" stroke="#1c1c1c" stroke-width="1"/>
<line x1="698.1" y1="35.5" x2="705.04" y2="35.5" stroke="#1c1c1c" stroke-width="1"/>
<path d="M726.1 223L727.6 222.8L729.1 222.7L730.6 222.5L732.1 222.3L733.6 222.1L735 221.9L736.5 221.7L738 221.5L739.5 221.3L741 221.1L742.5 220.9L744 220.7L745.5 220.5L746.9 220.3L748.4 220.1L749.9 219.9L751.4 219.6L752.9 219.4L754.4 219.2L755.9 219L757.4 218.7L758.8 218.5L760.3 218.3L761.8 218L763.3 217.8L764.8 217.5L766.3 217.2L767.8 216.9L769.3 216.7L770.7 216.3L772.2 216L773.7 215.7L775.2 215.3L776.7 215L778.2 214.6L779.7 214.2L781.2 213.7L782.6 213.3L784.1 212.8L785.6 212.3L787.1 211.9L788.6 211.4L790.1 210.8L791.6 210.3L793.1 209.8L794.5 209.2L796 208.7L797.5 208.1L799 207.5L800.5 206.9L802 206.2L803.5 205.5L805 204.8L806.4 204.1L807.9 203.4L809.4 202.6L810.9 201.8L812.4 200.9L813.9 200L815.4 199.1L816.9 198L818.3 196.9L819.8 195.8L821.3 194.5L822.8 193.3L824.3 191.9L825.8 190.5L827.3 189.1L828.8 187.7L830.2 186.2L831.7 184.7L833.2 183.1L834.7 181.4L836.2 179.6L837.7 177.8L839.2 176L840.7 174L842.1 172.1L843.6 170L845.1 167.9L846.6 165.7L848.1 163.4L849.6 161L851.1 158.5L852.6 155.9L854 153.2L855.5 150.4L857 147.5L858.5 144.5L860 141.2L861.5 137.8L863 134.2L864.5 130.4L866 126.6L867.4 122.8L868.9 119L870.4 115.1L871.9 111.1L873.4 107L874.9 102.9L876.4 98.9L877.9 95.1L879.3 91.5L880.8 88.1L882.3 84.6L883.8 81.3L885.3 78.3L886.8 75.5L888.3 73.1L889.8 71L891.2 69.1L892.7 67.3L894.2 65.8L895.7 64.8L897.2 64L898.7 63.4L900.2 62.8L901.7 62.4L903.1 62.2L904.6 62.3L906.1 62.6L907.6 63.2L909.1 64L910.6 64.9L912.1 65.9L913.6 66.9L915 68.2L916.5 69.8L918 71.7L919.5 73.8L921 76L922.5 78.3L924 80.5L925.5 82.6L926.9 84.9L928.4 87.2L929.9 89.7L931.4 92.1L932.9 94.4L934.4 96.6L935.9 98.6L937.4 100.4L938.8 102.1L940.3 103.8L941.8 105.4L943.3 106.7L944.8 107.8L946.3 108.7L947.8 109.3L949.3 110L950.7 110.6L952.2 111L953.7 111.3L955.2 111.5L956.7 111.5L958.2 111.3L959.7 111.1L961.2 110.7L962.6 110.4L964.1 109.9L965.6 109.4L967.1 108.6L968.6 107.6L970.1 106.2L971.6 104.7L973.1 103.1L974.5 101.5L976 99.7L977.5 97.6L979 95.3L980.5 92.8L982 90.2L983.5 87.6L985 85L986.4 82.4L987.9 79.8L989.4 76.9L990.9 74.1L992.4 71.2L993.9 68.4L995.4 65.7L996.9 63.2L998.3 61L999.8 58.9L1001.3 56.8L1002.8 54.8L1004.3 53L1005.8 51.4L1007.3 50L1008.8 48.9L1010.2 47.9L1011.7 46.9L1013.2 46.1L1014.7 45.3L1016.2 44.6L1017.7 44.1L1019.2 43.7L1020.7 43.3L1022.1 43L1023.6 42.8L1025.1 42.6L1026.6 42.4L1028.1 42.2L1029.6 42L1031.1 41.7L1032.6 41.4L1034 41.1L1035.5 40.7L1037 40.4L1038.5 40.1L1040 39.8L1041.5 39.6L1043 39.5L1044.5 39.5L1046 39.6L1047.4 39.9L1048.9 40.3L1050.4 40.7L1051.9 41.2L1053.4 41.7L1054.9 42.3L1056.4 42.9L1057.9 43.7L1059.3 44.7L1060.8 45.9L1062.3 47L1063.8 48.3L1065.3 49.5L1066.8 50.6L1068.3 51.8L1069.8 53L1071.2 54.3L1072.7 55.6L1074.2 56.8L1075.7 57.9L1077.2 58.8L1078.7 59.5L1080.2 60.1L1081.7 60.7L1083.1 61.3L1084.6 61.8L1086.1 62.2L1087.6 62.6L1089.1 62.8L1090.6 62.9L1092.1 62.9L1093.6 62.7L1095 62.4L1096.5 62.1L1098 61.6L1099.5 61.2L1101 60.7L1102.5 60.1L1104 59.6L1105.5 58.8L1106.9 57.9L1108.4 56.8L1109.9 55.8L1111.4 54.7L1112.9 53.8L1114.4 53.1L1115.9 52.6L1117.4 52L1118.8 51.5L1120.3 51L1121.8 50.6L1123.3 50.3L1124.8 50.2L1126.3 50.3L1127.8 50.7L1129.3 51.4L1130.7 52.4L1132.2 53.5L1133.7 54.7L1135.2 56L1136.7 57.3L1138.2 58.9L1139.7 60.8L1141.2 62.9L1142.6 65.1L1144.1 67.4L1145.6 69.6L1147.1 71.9L1148.6 74.4L1150.1 77L1151.6 79.6L1153.1 82.3L1154.5 85L1156 87.8L1157.5 90.6L1159 93.6L1160.5 96.5L1162 99.5L1163.5 102.3L1165 105.1L1166.4 107.8L1167.9 110.5L1169.4 113.1L1170.9 115.7L1172.4 118.3L1173.9 121L1175.4 123.8L1176.9 126.6L1178.3 129.6L1179.8 132.7L1181.3 135.8L1182.8 138.9L1184.3 142L1185.8 145L1187.3 147.8L1188.8 150.5L1190.2 153.2L1191.7 155.9L1193.2 158.5L1194.7 161L1196.2 163.4L1197.7 165.8L1199.2 168L1200.7 170.1L1202.1 172.2L1203.6 174.3L1205.1 176.2L1206.6 178.1L1208.1 180L1209.6 181.7L1211.1 183.4L1212.6 185.1L1214 186.7L1215.5 188.3L1217 189.8L1218.5 191.2L1220 192.6L1221.5 194L1223 195.2L1224.5 196.5L1226 197.8L1227.4 199L1228.9 200.2L1230.4 201.3L1231.9 202.4L1233.4 203.4L1234.9 204.4L1236.4 205.3L1237.9 206.2L1239.3 207L1240.8 207.7L1242.3 208.4L1243.8 209.1L1245.3 209.8L1246.8 210.4L1248.3 211.1L1249.8 211.6L1251.2 212.2L1252.7 212.8L1254.2 213.3L1255.7 213.9L1257.2 214.4L1258.7 214.8L1260.2 215.3L1261.7 215.7L1263 216.1" stroke="#000" stroke-width="1.75" fill="none" stroke-linejoin="round"/>
<!-- right: aggregated DCS-12 -->
<rect x="705.04" y="338.6" width="579.59" height="207.55" fill="none" stroke="#1c1c1c" stroke-width="1"/>
<line x1="712.31" y1="546.15" x2="712.31" y2="552.15" stroke="#1c1c1c" stroke-width="1"/>
<line x1="853.43" y1="546.15" x2="853.43" y2="552.15" stroke="#1c1c1c" stroke-width="1"/>
<line x1="994.55" y1="546.15" x2="994.55" y2="552.15" stroke="#1c1c1c" stroke-width="1"/>
<line x1="1135.66" y1="546.15" x2="1135.66" y2="552.15" stroke="#1c1c1c" stroke-width="1"/>
<line x1="1276.78" y1="546.15" x2="1276.78" y2="552.15" stroke="#1c1c1c" stroke-width="1"/>
<line x1="698.1" y1="538.3" x2="705.04" y2="538.3" stroke="#1c1c1c" stroke-width="1"/>
<line x1="698.1" y1="490.1" x2="705.04" y2="490.1" stroke="#1c1c1c" stroke-width="1"/>
<line x1="698.1" y1="441.9" x2="705.04" y2="441.9" stroke="#1c1c1c" stroke-width="1"/>
<line x1="698.1" y1="393.7" x2="705.04" y2="393.7" stroke="#1c1c1c" stroke-width="1"/>
<line x1="698.1" y1="345.5" x2="705.04" y2="345.5" stroke="#1c1c1c" stroke-width="1"/>
<path d="M726.1 537L727.6 537L729.1 537L730.6 537L732.1 537L733.6 537L735 537L736.5 537L738 537L739.5 537L741 537L742.5 537L744 537L745.5 537L746.9 537L748.4 537L749.9 537L751.4 537L752.9 537L754.4 537L755.9 537L757.4 537L758.8 537L760.3 537L761.8 536.9L763.3 536.9L764.8 536.8L766.3 536.8L767.8 536.7L769.3 536.6L770.7 536.6L772.2 536.5L773.7 536.4L775.2 536.3L776.7 536.2L778.2 536.1L779.7 536L781.2 535.9L782.6 535.8L784.1 535.8L785.6 535.7L787.1 535.6L788.6 535.5L790.1 535.5L791.6 535.4L793.1 535.3L794.5 535.3L796 535.2L797.5 535.1L799 535L800.5 535L802 534.9L803.5 534.8L805 534.8L806.4 534.7L807.9 534.6L809.4 534.5L810.9 534.4L812.4 534.4L813.9 534.3L815.4 534.2L816.9 534.1L818.3 534L819.8 533.9L821.3 533.7L822.8 533.6L824.3 533.5L825.8 533.3L827.3 533.2L828.8 533L830.2 532.9L831.7 532.7L833.2 532.6L834.7 532.4L836.2 532.2L837.7 532.1L839.2 531.9L840.7 531.7L842.1 531.5L843.6 531.4L845.1 531.2L846.6 531L848.1 530.9L849.6 530.7L851.1 530.5L852.6 530.3L854 530.1L855.5 529.9L857 529.7L858.5 529.5L860 529.3L861.5 529.1L863 528.8L864.5 528.6L866 528.3L867.4 528L868.9 527.7L870.4 527.3L871.9 527L873.4 526.6L874.9 526.3L876.4 525.9L877.9 525.5L879.3 525.1L880.8 524.7L882.3 524.3L883.8 523.9L885.3 523.5L886.8 523.1L888.3 522.6L889.8 522.2L891.2 521.8L892.7 521.3L894.2 520.8L895.7 520.4L897.2 519.9L898.7 519.4L900.2 518.9L901.7 518.4L903.1 517.9L904.6 517.3L906.1 516.8L907.6 516.3L909.1 515.7L910.6 515.1L912.1 514.5L913.6 513.9L915 513.3L916.5 512.7L918 512L919.5 511.3L921 510.6L922.5 509.9L924 509.1L925.5 508.3L926.9 507.5L928.4 506.6L929.9 505.6L931.4 504.6L932.9 503.6L934.4 502.6L935.9 501.5L937.4 500.3L938.8 499.2L940.3 498L941.8 496.7L943.3 495.4L944.8 494.1L946.3 492.7L947.8 491.3L949.3 489.8L950.7 488.2L952.2 486.7L953.7 485.1L955.2 483.5L956.7 481.8L958.2 480.1L959.7 478.4L961.2 476.6L962.6 474.8L964.1 472.8L965.6 470.8L967.1 468.6L968.6 466.3L970.1 463.8L971.6 461.1L973.1 458.3L974.5 455.4L976 452.3L977.5 449.2L979 446L980.5 442.7L982 439.1L983.5 435.4L985 431.6L986.4 427.7L987.9 423.9L989.4 420.1L990.9 416.3L992.4 412.4L993.9 408.5L995.4 404.7L996.9 401L998.3 397.6L999.8 394.2L1001.3 390.9L1002.8 387.8L1004.3 385L1005.8 382.6L1007.3 380.2L1008.8 378L1010.2 376L1011.7 374.4L1013.2 373.3L1014.7 372.4L1016.2 371.6L1017.7 370.9L1019.2 370.2L1020.7 369.7L1022.1 369.2L1023.6 368.8L1025.1 368.4L1026.6 368.1L1028.1 367.8L1029.6 367.5L1031.1 367.3L1032.6 367L1034 366.8L1035.5 366.6L1037 366.4L1038.5 366.1L1040 365.8L1041.5 365.5L1043 365.1L1044.5 364.8L1046 364.5L1047.4 364.3L1048.9 364.2L1050.4 364.3L1051.9 364.6L1053.4 365.2L1054.9 365.9L1056.4 366.8L1057.9 367.8L1059.3 368.9L1060.8 370.2L1062.3 372L1063.8 374.1L1065.3 376.5L1066.8 379.1L1068.3 381.7L1069.8 384.2L1071.2 387.1L1072.7 390.1L1074.2 393.3L1075.7 396.5L1077.2 399.7L1078.7 402.7L1080.2 405.6L1081.7 408.3L1083.1 410.9L1084.6 413.5L1086.1 416.1L1087.6 418.6L1089.1 421L1090.6 423.4L1092.1 425.8L1093.6 428.1L1095 430.4L1096.5 432.6L1098 434.7L1099.5 436.8L1101 438.9L1102.5 440.9L1104 443L1105.5 444.9L1106.9 446.9L1108.4 448.9L1109.9 450.8L1111.4 452.8L1112.9 454.7L1114.4 456.7L1115.9 458.6L1117.4 460.5L1118.8 462.4L1120.3 464.3L1121.8 466.2L1123.3 468.1L1124.8 469.9L1126.3 471.7L1127.8 473.5L1129.3 475.3L1130.7 477L1132.2 478.8L1133.7 480.5L1135.2 482.2L1136.7 483.9L1138.2 485.5L1139.7 487.1L1141.2 488.7L1142.6 490.3L1144.1 491.8L1145.6 493.4L1147.1 494.9L1148.6 496.4L1150.1 497.8L1151.6 499.3L1153.1 500.7L1154.5 502L1156 503.3L1157.5 504.6L1159 505.9L1160.5 507.1L1162 508.3L1163.5 509.5L1165 510.6L1166.4 511.7L1167.9 512.8L1169.4 513.8L1170.9 514.8L1172.4 515.7L1173.9 516.6L1175.4 517.4L1176.9 518.3L1178.3 519.1L1179.8 519.9L1181.3 520.6L1182.8 521.3L1184.3 522L1185.8 522.7L1187.3 523.3L1188.8 523.9L1190.2 524.5L1191.7 525L1193.2 525.5L1194.7 526L1196.2 526.5L1197.7 527L1199.2 527.5L1200.7 527.9L1202.1 528.3L1203.6 528.7L1205.1 529.1L1206.6 529.4L1208.1 529.7L1209.6 530L1211.1 530.2L1212.6 530.5L1214 530.7L1215.5 530.9L1217 531.1L1218.5 531.3L1220 531.5L1221.5 531.7L1223 531.9L1224.5 532.1L1226 532.2L1227.4 532.4L1228.9 532.5L1230.4 532.7L1231.9 532.8L1233.4 532.9L1234.9 533L1236.4 533.2L1237.9 533.3L1239.3 533.4L1240.8 533.5L1242.3 533.6L1243.8 533.7L1245.3 533.8L1246.8 533.9L1248.3 534L1249.8 534.1L1251.2 534.2L1252.7 534.3L1254.2 534.4L1255.7 534.4L1257.2 534.5L1258.7 534.6L1260.2 534.6L1261.7 534.7L1263 534.7" stroke="#000" stroke-width="1.75" fill="none" stroke-linejoin="round"/>
<!-- right: LL DCS-10 -->
<rect x="705.04" y="648.6" width="579.59" height="207.65" fill="none" stroke="#1c1c1c" stroke-width="1"/>
<line x1="712.31" y1="856.25" x2="712.31" y2="862.25" stroke="#1c1c1c" stroke-width="1"/>
<line x1="853.43" y1="856.25" x2="853.43" y2="862.25" stroke="#1c1c1c" stroke-width="1"/>
<line x1="994.55" y1="856.25" x2="994.55" y2="862.25" stroke="#1c1c1c" stroke-width="1"/>
<line x1="1135.66" y1="856.25" x2="1135.66" y2="862.25" stroke="#1c1c1c" stroke-width="1"/>
<line x1="1276.78" y1="856.25" x2="1276.78" y2="862.25" stroke="#1c1c1c" stroke-width="1"/>
<line x1="698.1" y1="848.3" x2="705.04" y2="848.3" stroke="#1c1c1c" stroke-width="1"/>
<line x1="698.1" y1="800.1" x2="705.04" y2="800.1" stroke="#1c1c1c" stroke-width="1"/>
<line x1="698.1" y1="751.9" x2="705.04" y2="751.9" stroke="#1c1c1c" stroke-width="1"/>
<line x1="698.1" y1="703.7" x2="705.04" y2="703.7" stroke="#1c1c1c" stroke-width="1"/>
<line x1="698.1" y1="655.5" x2="705.04" y2="655.5" stroke="#1c1c1c" stroke-width="1"/>
<path d="M726.1 846.3L727.6 846.3L729.1 846.3L730.6 846.3L732.1 846.3L733.6 846.3L735 846.3L736.5 846.3L738 846.3L739.5 846.2L741 846.2L742.5 846.2L744 846.2L745.5 846.2L746.9 846.2L748.4 846.1L749.9 846.1L751.4 846.1L752.9 846.1L754.4 846.1L755.9 846L757.4 846L758.8 846L760.3 846L761.8 845.9L763.3 845.9L764.8 845.9L766.3 845.9L767.8 845.8L769.3 845.8L770.7 845.7L772.2 845.6L773.7 845.5L775.2 845.5L776.7 845.4L778.2 845.3L779.7 845.2L781.2 845.1L782.6 845L784.1 844.9L785.6 844.8L787.1 844.7L788.6 844.6L790.1 844.5L791.6 844.4L793.1 844.3L794.5 844.2L796 844.1L797.5 844L799 843.9L800.5 843.8L802 843.7L803.5 843.6L805 843.4L806.4 843.3L807.9 843.1L809.4 843L810.9 842.8L812.4 842.6L813.9 842.4L815.4 842.2L816.9 842L818.3 841.7L819.8 841.4L821.3 841.2L822.8 840.8L824.3 840.5L825.8 840.2L827.3 839.9L828.8 839.5L830.2 839.2L831.7 838.8L833.2 838.4L834.7 837.9L836.2 837.5L837.7 837L839.2 836.5L840.7 836L842.1 835.4L843.6 834.9L845.1 834.3L846.6 833.7L848.1 833.1L849.6 832.5L851.1 831.8L852.6 831.2L854 830.5L855.5 829.7L857 828.9L858.5 828.1L860 827.3L861.5 826.4L863 825.5L864.5 824.5L866 823.5L867.4 822.5L868.9 821.5L870.4 820.4L871.9 819.3L873.4 818.2L874.9 817L876.4 815.7L877.9 814.4L879.3 813.1L880.8 811.6L882.3 810.2L883.8 808.7L885.3 807.1L886.8 805.5L888.3 803.9L889.8 802.2L891.2 800.3L892.7 798.4L894.2 796.4L895.7 794.3L897.2 792.1L898.7 789.9L900.2 787.7L901.7 785.5L903.1 783.3L904.6 781L906.1 778.6L907.6 776.3L909.1 773.8L910.6 771.4L912.1 768.8L913.6 766.2L915 763.5L916.5 760.7L918 757.8L919.5 754.8L921 751.9L922.5 749L924 746.1L925.5 743.2L926.9 740.3L928.4 737.4L929.9 734.5L931.4 731.7L932.9 728.9L934.4 726.1L935.9 723.3L937.4 720.5L938.8 717.8L940.3 715.3L941.8 712.8L943.3 710.2L944.8 707.8L946.3 705.7L947.8 704.1L949.3 702.9L950.7 701.8L952.2 700.8L953.7 699.9L955.2 699.3L956.7 698.9L958.2 698.9L959.7 699.2L961.2 699.7L962.6 700.4L964.1 701.2L965.6 702.1L967.1 703L968.6 704.1L970.1 705.6L971.6 707.3L973.1 709.1L974.5 711L976 712.8L977.5 714.4L979 716.2L980.5 717.9L982 719.7L983.5 721.3L985 722.8L986.4 723.9L987.9 725L989.4 726L990.9 726.9L992.4 727.7L993.9 728.4L995.4 729L996.9 729.4L998.3 729.8L999.8 730.1L1001.3 730.4L1002.8 730.6L1004.3 730.6L1005.8 730.5L1007.3 730.2L1008.8 729.8L1010.2 729.3L1011.7 728.7L1013.2 728.1L1014.7 727.4L1016.2 726.7L1017.7 725.7L1019.2 724.5L1020.7 723.1L1022.1 721.5L1023.6 719.9L1025.1 718.4L1026.6 716.8L1028.1 715.1L1029.6 713.3L1031.1 711.3L1032.6 709.4L1034 707.7L1035.5 706.4L1037 705.4L1038.5 704.4L1040 703.5L1041.5 702.7L1043 702.1L1044.5 701.6L1046 701.3L1047.4 701.4L1048.9 701.7L1050.4 702.4L1051.9 703.2L1053.4 704.3L1054.9 705.5L1056.4 706.8L1057.9 708.1L1059.3 710L1060.8 712.4L1062.3 715.1L1063.8 717.9L1065.3 720.9L1066.8 724.2L1068.3 727.8L1069.8 731.7L1071.2 735.5L1072.7 739.1L1074.2 742.5L1075.7 745.8L1077.2 749L1078.7 752.2L1080.2 755.4L1081.7 758.6L1083.1 761.7L1084.6 764.9L1086.1 768L1087.6 771.2L1089.1 774.3L1090.6 777.2L1092.1 780.1L1093.6 782.7L1095 785.2L1096.5 787.6L1098 790L1099.5 792.2L1101 794.4L1102.5 796.5L1104 798.6L1105.5 800.5L1106.9 802.4L1108.4 804.2L1109.9 806L1111.4 807.7L1112.9 809.4L1114.4 811L1115.9 812.6L1117.4 814.1L1118.8 815.5L1120.3 816.9L1121.8 818.2L1123.3 819.4L1124.8 820.6L1126.3 821.8L1127.8 822.9L1129.3 824L1130.7 825L1132.2 826L1133.7 827L1135.2 827.9L1136.7 828.8L1138.2 829.7L1139.7 830.5L1141.2 831.2L1142.6 831.9L1144.1 832.6L1145.6 833.3L1147.1 834L1148.6 834.6L1150.1 835.2L1151.6 835.8L1153.1 836.3L1154.5 836.9L1156 837.4L1157.5 837.8L1159 838.3L1160.5 838.7L1162 839.1L1163.5 839.5L1165 839.9L1166.4 840.2L1167.9 840.6L1169.4 841L1170.9 841.3L1172.4 841.6L1173.9 841.9L1175.4 842.2L1176.9 842.5L1178.3 842.7L1179.8 843L1181.3 843.2L1182.8 843.4L1184.3 843.6L1185.8 843.8L1187.3 844L1188.8 844.1L1190.2 844.3L1191.7 844.4L1193.2 844.6L1194.7 844.7L1196.2 844.9L1197.7 845L1199.2 845.1L1200.7 845.3L1202.1 845.4L1203.6 845.5L1205.1 845.6L1206.6 845.7L1208.1 845.8L1209.6 845.9L1211.1 845.9L1212.6 846L1214 846.1L1215.5 846.2L1217 846.3L1218.5 846.3L1220 846.4L1221.5 846.5L1223 846.5L1224.5 846.6L1226 846.6L1227.4 846.7L1228.9 846.8L1230.4 846.8L1231.9 846.9L1233.4 846.9L1234.9 846.9L1236.4 847L1237.9 847L1239.3 847.1L1240.8 847.1L1242.3 847.1L1243.8 847.2L1245.3 847.2L1246.8 847.2L1248.3 847.3L1249.8 847.3L1251.2 847.3L1252.7 847.4L1254.2 847.4L1255.7 847.4L1257.2 847.4L1258.7 847.5L1260.2 847.5L1261.7 847.5L1263 847.5" stroke="#000" stroke-width="1.75" fill="none" stroke-linejoin="round"/>
</g>
<g filter="url(#xt)" fill="#2a2a2a">
<text transform="translate(55.95 255.85)" font-size="12" text-anchor="middle">-4</text>
<text transform="translate(197.29 255.85)" font-size="12" text-anchor="middle">-2</text>
<text transform="translate(338.64 255.85)" font-size="12" text-anchor="middle">0</text>
<text transform="translate(479.98 255.85)" font-size="12" text-anchor="middle">2</text>
<text transform="translate(621.32 255.85)" font-size="12" text-anchor="middle">4</text>
<text transform="translate(35.12 228.45) rotate(-90) scale(1 1.1)" font-size="12" text-anchor="middle">0</text>
<text transform="translate(35.12 181.2) rotate(-90) scale(1 1.1)" font-size="12" text-anchor="middle">1</text>
<text transform="translate(35.12 133.95) rotate(-90) scale(1 1.1)" font-size="12" text-anchor="middle">2</text>
<text transform="translate(35.12 86.7) rotate(-90) scale(1 1.1)" font-size="12" text-anchor="middle">3</text>
<text transform="translate(35.12 39.45) rotate(-90) scale(1 1.1)" font-size="12" text-anchor="middle">4</text>
<text transform="translate(337.93 277.95) scale(1.02 1)" font-size="12" text-anchor="middle">Latent Trait</text>
<text transform="translate(11.82 132.07) rotate(-90) scale(1 1.1)" font-size="11.6" text-anchor="middle">Information</text>
<text transform="translate(338.26 11.3) scale(1.12 1)" font-size="14" text-anchor="middle" font-weight="bold">DCS-12</text>
<text transform="translate(93.22 46.9) scale(1.02 1)" font-size="12" text-anchor="start">Uncertainty-1</text>
<text transform="translate(93.22 60.35) scale(1.02 1)" font-size="12" text-anchor="start">Uncertainty-2</text>
<text transform="translate(93.22 73.8) scale(1.02 1)" font-size="12" text-anchor="start">Uncertainty-3</text>
<text transform="translate(93.22 87.25) scale(1.02 1)" font-size="12" text-anchor="start">Informed-1</text>
<text transform="translate(93.22 100.7) scale(1.02 1)" font-size="12" text-anchor="start">Informed-2</text>
<text transform="translate(93.22 114.15) scale(1.02 1)" font-size="12" text-anchor="start">Informed-3</text>
<text transform="translate(93.22 127.6) scale(1.02 1)" font-size="12" text-anchor="start">ValueClarity-1</text>
<text transform="translate(93.22 141.05) scale(1.02 1)" font-size="12" text-anchor="start">ValueClarity-2</text>
<text transform="translate(93.22 154.5) scale(1.02 1)" font-size="12" text-anchor="start">ValueClarity-3</text>
<text transform="translate(93.22 167.95) scale(1.02 1)" font-size="12" text-anchor="start">Support-1</text>
<text transform="translate(93.22 181.4) scale(1.02 1)" font-size="12" text-anchor="start">Support-2</text>
<text transform="translate(93.22 194.85) scale(1.02 1)" font-size="12" text-anchor="start">Support-3</text>
<text transform="translate(55.95 566.55)" font-size="12" text-anchor="middle">-4</text>
<text transform="translate(197.29 566.55)" font-size="12" text-anchor="middle">-2</text>
<text transform="translate(338.64 566.55)" font-size="12" text-anchor="middle">0</text>
<text transform="translate(479.98 566.55)" font-size="12" text-anchor="middle">2</text>
<text transform="translate(621.32 566.55)" font-size="12" text-anchor="middle">4</text>
<text transform="translate(35.12 538.45) rotate(-90) scale(1 1.1)" font-size="12" text-anchor="middle">0</text>
<text transform="translate(35.12 499.39) rotate(-90) scale(1 1.1)" font-size="12" text-anchor="middle">1</text>
<text transform="translate(35.12 460.33) rotate(-90) scale(1 1.1)" font-size="12" text-anchor="middle">2</text>
<text transform="translate(35.12 421.27) rotate(-90) scale(1 1.1)" font-size="12" text-anchor="middle">3</text>
<text transform="translate(35.12 382.21) rotate(-90) scale(1 1.1)" font-size="12" text-anchor="middle">4</text>
<text transform="translate(35.12 343.15) rotate(-90) scale(1 1.1)" font-size="12" text-anchor="middle">5</text>
<text transform="translate(337.93 588.65) scale(1.02 1)" font-size="12" text-anchor="middle">Latent Trait</text>
<text transform="translate(11.82 442.98) rotate(-90) scale(1 1.1)" font-size="11.6" text-anchor="middle">Information</text>
<text transform="translate(338.26 321.4) scale(1.12 1)" font-size="14" text-anchor="middle" font-weight="bold">aggregated DCS-12</text>
<text transform="translate(93.22 357.15) scale(1.02 1)" font-size="12" text-anchor="start">Uncertainty-1</text>
<text transform="translate(93.22 370.6) scale(1.02 1)" font-size="12" text-anchor="start">Uncertainty-2</text>
<text transform="translate(93.22 384.05) scale(1.02 1)" font-size="12" text-anchor="start">Uncertainty-3</text>
<text transform="translate(93.22 397.5) scale(1.02 1)" font-size="12" text-anchor="start">Informed-1</text>
<text transform="translate(93.22 410.95) scale(1.02 1)" font-size="12" text-anchor="start">Informed-2</text>
<text transform="translate(93.22 424.4) scale(1.02 1)" font-size="12" text-anchor="start">Informed-3</text>
<text transform="translate(93.22 437.85) scale(1.02 1)" font-size="12" text-anchor="start">ValueClarity-1</text>
<text transform="translate(93.22 451.3) scale(1.02 1)" font-size="12" text-anchor="start">ValueClarity-2</text>
<text transform="translate(93.22 464.75) scale(1.02 1)" font-size="12" text-anchor="start">ValueClarity-3</text>
<text transform="translate(93.22 478.2) scale(1.02 1)" font-size="12" text-anchor="start">Support-1</text>
<text transform="translate(93.22 491.65) scale(1.02 1)" font-size="12" text-anchor="start">Support-2</text>
<text transform="translate(93.22 505.1) scale(1.02 1)" font-size="12" text-anchor="start">Support-3</text>
<text transform="translate(55.95 876.65)" font-size="12" text-anchor="middle">-4</text>
<text transform="translate(197.29 876.65)" font-size="12" text-anchor="middle">-2</text>
<text transform="translate(338.64 876.65)" font-size="12" text-anchor="middle">0</text>
<text transform="translate(479.98 876.65)" font-size="12" text-anchor="middle">2</text>
<text transform="translate(621.32 876.65)" font-size="12" text-anchor="middle">4</text>
<text transform="translate(35.12 848.45) rotate(-90) scale(1 1.1)" font-size="12" text-anchor="middle">0</text>
<text transform="translate(35.12 807.55) rotate(-90) scale(1 1.1)" font-size="12" text-anchor="middle">1</text>
<text transform="translate(35.12 766.65) rotate(-90) scale(1 1.1)" font-size="12" text-anchor="middle">2</text>
<text transform="translate(35.12 725.75) rotate(-90) scale(1 1.1)" font-size="12" text-anchor="middle">3</text>
<text transform="translate(35.12 684.85) rotate(-90) scale(1 1.1)" font-size="12" text-anchor="middle">4</text>
<text transform="translate(337.93 898.75) scale(1.02 1)" font-size="12" text-anchor="middle">Latent Trait</text>
<text transform="translate(11.82 753.02) rotate(-90) scale(1 1.1)" font-size="11.6" text-anchor="middle">Information</text>
<text transform="translate(338.26 632.4) scale(1.12 1)" font-size="14" text-anchor="middle" font-weight="bold">LL DCS-10</text>
<text transform="translate(93.22 667.2) scale(1.02 1)" font-size="12" text-anchor="start">Uncertainty-2</text>
<text transform="translate(93.22 680.65) scale(1.02 1)" font-size="12" text-anchor="start">Uncertainty-3</text>
<text transform="translate(93.22 694.1) scale(1.02 1)" font-size="12" text-anchor="start">Informed-1</text>
<text transform="translate(93.22 707.55) scale(1.02 1)" font-size="12" text-anchor="start">Informed-2</text>
<text transform="translate(93.22 721) scale(1.02 1)" font-size="12" text-anchor="start">Informed-3</text>
<text transform="translate(93.22 734.45) scale(1.02 1)" font-size="12" text-anchor="start">ValueClarity-1</text>
<text transform="translate(93.22 747.9) scale(1.02 1)" font-size="12" text-anchor="start">ValueClarity-2</text>
<text transform="translate(93.22 761.35) scale(1.02 1)" font-size="12" text-anchor="start">Support-1</text>
<text transform="translate(93.22 774.8) scale(1.02 1)" font-size="12" text-anchor="start">Support-2</text>
<text transform="translate(93.22 788.25) scale(1.02 1)" font-size="12" text-anchor="start">Support-3</text>
<text transform="translate(711.32 255.85)" font-size="12" text-anchor="middle">-4</text>
<text transform="translate(852.44 255.85)" font-size="12" text-anchor="middle">-2</text>
<text transform="translate(993.55 255.85)" font-size="12" text-anchor="middle">0</text>
<text transform="translate(1134.67 255.85)" font-size="12" text-anchor="middle">2</text>
<text transform="translate(1275.79 255.85)" font-size="12" text-anchor="middle">4</text>
<text transform="translate(690.5 228.45) rotate(-90) scale(1 1.1)" font-size="12" text-anchor="middle">0</text>
<text transform="translate(690.5 180.25) rotate(-90) scale(1 1.1)" font-size="12" text-anchor="middle">5</text>
<text transform="translate(690.5 132.05) rotate(-90) scale(1 1.1)" font-size="12" text-anchor="middle">10</text>
<text transform="translate(690.5 83.85) rotate(-90) scale(1 1.1)" font-size="12" text-anchor="middle">15</text>
<text transform="translate(690.5 35.65) rotate(-90) scale(1 1.1)" font-size="12" text-anchor="middle">20</text>
<text transform="translate(993.51 277.95) scale(1.02 1)" font-size="12" text-anchor="middle">Latent Trait</text>
<text transform="translate(666.03 132.07) rotate(-90) scale(1 1.1)" font-size="11.6" text-anchor="middle">Information</text>
<text transform="translate(993.84 11.3) scale(1.12 1)" font-size="14" text-anchor="middle" font-weight="bold">DCS-12</text>
<text transform="translate(711.32 566.55)" font-size="12" text-anchor="middle">-4</text>
<text transform="translate(852.44 566.55)" font-size="12" text-anchor="middle">-2</text>
<text transform="translate(993.55 566.55)" font-size="12" text-anchor="middle">0</text>
<text transform="translate(1134.67 566.55)" font-size="12" text-anchor="middle">2</text>
<text transform="translate(1275.79 566.55)" font-size="12" text-anchor="middle">4</text>
<text transform="translate(690.5 538.45) rotate(-90) scale(1 1.1)" font-size="12" text-anchor="middle">0</text>
<text transform="translate(690.5 490.25) rotate(-90) scale(1 1.1)" font-size="12" text-anchor="middle">5</text>
<text transform="translate(690.5 442.05) rotate(-90) scale(1 1.1)" font-size="12" text-anchor="middle">10</text>
<text transform="translate(690.5 393.85) rotate(-90) scale(1 1.1)" font-size="12" text-anchor="middle">15</text>
<text transform="translate(690.5 345.65) rotate(-90) scale(1 1.1)" font-size="12" text-anchor="middle">20</text>
<text transform="translate(993.51 588.65) scale(1.02 1)" font-size="12" text-anchor="middle">Latent Trait</text>
<text transform="translate(666.03 442.98) rotate(-90) scale(1 1.1)" font-size="11.6" text-anchor="middle">Information</text>
<text transform="translate(993.84 321.4) scale(1.12 1)" font-size="14" text-anchor="middle" font-weight="bold">aggregated DCS-12</text>
<text transform="translate(711.32 876.65)" font-size="12" text-anchor="middle">-4</text>
<text transform="translate(852.44 876.65)" font-size="12" text-anchor="middle">-2</text>
<text transform="translate(993.55 876.65)" font-size="12" text-anchor="middle">0</text>
<text transform="translate(1134.67 876.65)" font-size="12" text-anchor="middle">2</text>
<text transform="translate(1275.79 876.65)" font-size="12" text-anchor="middle">4</text>
<text transform="translate(690.5 848.45) rotate(-90) scale(1 1.1)" font-size="12" text-anchor="middle">0</text>
<text transform="translate(690.5 800.25) rotate(-90) scale(1 1.1)" font-size="12" text-anchor="middle">5</text>
<text transform="translate(690.5 752.05) rotate(-90) scale(1 1.1)" font-size="12" text-anchor="middle">10</text>
<text transform="translate(690.5 703.85) rotate(-90) scale(1 1.1)" font-size="12" text-anchor="middle">15</text>
<text transform="translate(690.5 655.65) rotate(-90) scale(1 1.1)" font-size="12" text-anchor="middle">20</text>
<text transform="translate(993.51 898.75) scale(1.02 1)" font-size="12" text-anchor="middle">Latent Trait</text>
<text transform="translate(666.03 753.02) rotate(-90) scale(1 1.1)" font-size="11.6" text-anchor="middle">Information</text>
<text transform="translate(993.84 632.4) scale(1.12 1)" font-size="14" text-anchor="middle" font-weight="bold">LL DCS-10</text>
</g>
</svg>
</body>
</html>
